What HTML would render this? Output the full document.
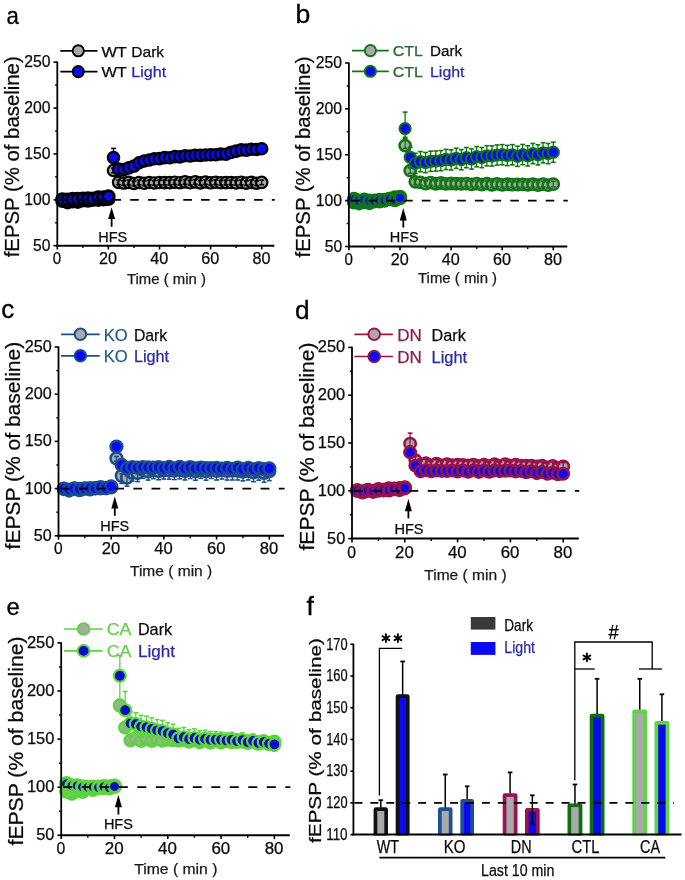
<!DOCTYPE html>
<html><head><meta charset="utf-8"><style>
html,body{margin:0;padding:0;background:#fff;}
svg{display:block;font-family:"Liberation Sans", sans-serif;will-change:transform;filter:blur(0.3px);}
</style></head><body>
<svg width="685" height="880" viewBox="0 0 685 880">
<rect width="685" height="880" fill="#fff"/>
<text x="6.60" y="23.50" font-size="24.00" fill="#000" text-anchor="start" textLength="12.40" lengthAdjust="spacingAndGlyphs" stroke="#000" stroke-width="0.3">a</text>
<text x="0" y="0" font-size="19.5" fill="#0a0a0a" stroke="#0a0a0a" stroke-width="0.25" text-anchor="middle" textLength="201.00" lengthAdjust="spacingAndGlyphs" transform="translate(19.00,156.80) rotate(-90)">fEPSP (% of baseline)</text>
<text x="127.00" y="284.40" font-size="14.50" fill="#1a1a1a" text-anchor="start" textLength="79.00" lengthAdjust="spacingAndGlyphs"  stroke="#1a1a1a" stroke-width="0.25">Time ( min )</text>
<circle cx="62.41" cy="200.88" r="5.70" fill="#a9a9a9" stroke="#000" stroke-width="2.9"/>
<circle cx="67.52" cy="202.29" r="5.70" fill="#a9a9a9" stroke="#000" stroke-width="2.9"/>
<circle cx="72.63" cy="201.39" r="5.70" fill="#a9a9a9" stroke="#000" stroke-width="2.9"/>
<circle cx="77.74" cy="201.73" r="5.70" fill="#a9a9a9" stroke="#000" stroke-width="2.9"/>
<circle cx="82.85" cy="200.36" r="5.70" fill="#a9a9a9" stroke="#000" stroke-width="2.9"/>
<circle cx="87.96" cy="200.68" r="5.70" fill="#a9a9a9" stroke="#000" stroke-width="2.9"/>
<circle cx="93.07" cy="199.80" r="5.70" fill="#a9a9a9" stroke="#000" stroke-width="2.9"/>
<circle cx="98.18" cy="199.77" r="5.70" fill="#a9a9a9" stroke="#000" stroke-width="2.9"/>
<circle cx="103.29" cy="199.39" r="5.70" fill="#a9a9a9" stroke="#000" stroke-width="2.9"/>
<circle cx="108.40" cy="198.92" r="5.70" fill="#a9a9a9" stroke="#000" stroke-width="2.9"/>
<circle cx="113.51" cy="170.46" r="5.70" fill="#a9a9a9" stroke="#000" stroke-width="2.2"/>
<circle cx="118.62" cy="182.39" r="5.70" fill="#a9a9a9" stroke="#000" stroke-width="2.2"/>
<circle cx="123.73" cy="183.07" r="5.70" fill="#a9a9a9" stroke="#000" stroke-width="2.2"/>
<circle cx="128.84" cy="182.41" r="5.70" fill="#a9a9a9" stroke="#000" stroke-width="2.2"/>
<circle cx="133.95" cy="183.49" r="5.70" fill="#a9a9a9" stroke="#000" stroke-width="2.2"/>
<circle cx="139.06" cy="182.52" r="5.70" fill="#a9a9a9" stroke="#000" stroke-width="2.2"/>
<circle cx="144.17" cy="183.28" r="5.70" fill="#a9a9a9" stroke="#000" stroke-width="2.2"/>
<circle cx="149.28" cy="182.49" r="5.70" fill="#a9a9a9" stroke="#000" stroke-width="2.2"/>
<circle cx="154.39" cy="182.97" r="5.70" fill="#a9a9a9" stroke="#000" stroke-width="2.2"/>
<circle cx="159.50" cy="182.55" r="5.70" fill="#a9a9a9" stroke="#000" stroke-width="2.2"/>
<circle cx="164.61" cy="182.59" r="5.70" fill="#a9a9a9" stroke="#000" stroke-width="2.2"/>
<circle cx="169.72" cy="182.64" r="5.70" fill="#a9a9a9" stroke="#000" stroke-width="2.2"/>
<circle cx="174.83" cy="182.22" r="5.70" fill="#a9a9a9" stroke="#000" stroke-width="2.2"/>
<circle cx="179.94" cy="182.70" r="5.70" fill="#a9a9a9" stroke="#000" stroke-width="2.2"/>
<circle cx="185.05" cy="181.91" r="5.70" fill="#a9a9a9" stroke="#000" stroke-width="2.2"/>
<circle cx="190.16" cy="182.78" r="5.70" fill="#a9a9a9" stroke="#000" stroke-width="2.2"/>
<circle cx="195.27" cy="181.92" r="5.70" fill="#a9a9a9" stroke="#000" stroke-width="2.2"/>
<circle cx="200.38" cy="182.86" r="5.70" fill="#a9a9a9" stroke="#000" stroke-width="2.2"/>
<circle cx="205.49" cy="182.04" r="5.70" fill="#a9a9a9" stroke="#000" stroke-width="2.2"/>
<circle cx="210.60" cy="182.82" r="5.70" fill="#a9a9a9" stroke="#000" stroke-width="2.2"/>
<circle cx="215.71" cy="182.28" r="5.70" fill="#a9a9a9" stroke="#000" stroke-width="2.2"/>
<circle cx="220.82" cy="182.69" r="5.70" fill="#a9a9a9" stroke="#000" stroke-width="2.2"/>
<circle cx="225.93" cy="182.58" r="5.70" fill="#a9a9a9" stroke="#000" stroke-width="2.2"/>
<circle cx="231.04" cy="182.53" r="5.70" fill="#a9a9a9" stroke="#000" stroke-width="2.2"/>
<circle cx="236.15" cy="182.88" r="5.70" fill="#a9a9a9" stroke="#000" stroke-width="2.2"/>
<circle cx="241.26" cy="182.40" r="5.70" fill="#a9a9a9" stroke="#000" stroke-width="2.2"/>
<circle cx="246.37" cy="183.13" r="5.70" fill="#a9a9a9" stroke="#000" stroke-width="2.2"/>
<circle cx="251.48" cy="182.34" r="5.70" fill="#a9a9a9" stroke="#000" stroke-width="2.2"/>
<circle cx="256.59" cy="183.27" r="5.70" fill="#a9a9a9" stroke="#000" stroke-width="2.2"/>
<circle cx="261.70" cy="182.40" r="5.70" fill="#a9a9a9" stroke="#000" stroke-width="2.2"/>
<line x1="62.41" y1="200.88" x2="62.41" y2="198.59" stroke="#000" stroke-width="1.3" />
<line x1="60.01" y1="198.59" x2="64.81" y2="198.59" stroke="#000" stroke-width="1.6" />
<line x1="67.52" y1="202.29" x2="67.52" y2="200.00" stroke="#000" stroke-width="1.3" />
<line x1="65.12" y1="200.00" x2="69.92" y2="200.00" stroke="#000" stroke-width="1.6" />
<line x1="72.63" y1="201.39" x2="72.63" y2="199.09" stroke="#000" stroke-width="1.3" />
<line x1="70.23" y1="199.09" x2="75.03" y2="199.09" stroke="#000" stroke-width="1.6" />
<line x1="77.74" y1="201.73" x2="77.74" y2="199.43" stroke="#000" stroke-width="1.3" />
<line x1="75.34" y1="199.43" x2="80.14" y2="199.43" stroke="#000" stroke-width="1.6" />
<line x1="82.85" y1="200.36" x2="82.85" y2="198.06" stroke="#000" stroke-width="1.3" />
<line x1="80.45" y1="198.06" x2="85.25" y2="198.06" stroke="#000" stroke-width="1.6" />
<line x1="87.96" y1="200.68" x2="87.96" y2="198.39" stroke="#000" stroke-width="1.3" />
<line x1="85.56" y1="198.39" x2="90.36" y2="198.39" stroke="#000" stroke-width="1.6" />
<line x1="93.07" y1="199.80" x2="93.07" y2="197.51" stroke="#000" stroke-width="1.3" />
<line x1="90.67" y1="197.51" x2="95.47" y2="197.51" stroke="#000" stroke-width="1.6" />
<line x1="98.18" y1="199.77" x2="98.18" y2="197.48" stroke="#000" stroke-width="1.3" />
<line x1="95.78" y1="197.48" x2="100.58" y2="197.48" stroke="#000" stroke-width="1.6" />
<line x1="103.29" y1="199.39" x2="103.29" y2="197.09" stroke="#000" stroke-width="1.3" />
<line x1="100.89" y1="197.09" x2="105.69" y2="197.09" stroke="#000" stroke-width="1.6" />
<line x1="108.40" y1="198.92" x2="108.40" y2="196.63" stroke="#000" stroke-width="1.3" />
<line x1="106.00" y1="196.63" x2="110.80" y2="196.63" stroke="#000" stroke-width="1.6" />
<line x1="113.51" y1="170.46" x2="113.51" y2="168.17" stroke="#000" stroke-width="1.3" />
<line x1="111.11" y1="168.17" x2="115.91" y2="168.17" stroke="#000" stroke-width="1.6" />
<line x1="118.62" y1="182.39" x2="118.62" y2="180.10" stroke="#000" stroke-width="1.3" />
<line x1="116.22" y1="180.10" x2="121.02" y2="180.10" stroke="#000" stroke-width="1.6" />
<line x1="123.73" y1="183.07" x2="123.73" y2="180.78" stroke="#000" stroke-width="1.3" />
<line x1="121.33" y1="180.78" x2="126.13" y2="180.78" stroke="#000" stroke-width="1.6" />
<line x1="128.84" y1="182.41" x2="128.84" y2="180.11" stroke="#000" stroke-width="1.3" />
<line x1="126.44" y1="180.11" x2="131.24" y2="180.11" stroke="#000" stroke-width="1.6" />
<line x1="133.95" y1="183.49" x2="133.95" y2="181.20" stroke="#000" stroke-width="1.3" />
<line x1="131.55" y1="181.20" x2="136.35" y2="181.20" stroke="#000" stroke-width="1.6" />
<line x1="139.06" y1="182.52" x2="139.06" y2="180.23" stroke="#000" stroke-width="1.3" />
<line x1="136.66" y1="180.23" x2="141.46" y2="180.23" stroke="#000" stroke-width="1.6" />
<line x1="144.17" y1="183.28" x2="144.17" y2="180.99" stroke="#000" stroke-width="1.3" />
<line x1="141.77" y1="180.99" x2="146.57" y2="180.99" stroke="#000" stroke-width="1.6" />
<line x1="149.28" y1="182.49" x2="149.28" y2="180.20" stroke="#000" stroke-width="1.3" />
<line x1="146.88" y1="180.20" x2="151.68" y2="180.20" stroke="#000" stroke-width="1.6" />
<line x1="154.39" y1="182.97" x2="154.39" y2="180.67" stroke="#000" stroke-width="1.3" />
<line x1="151.99" y1="180.67" x2="156.79" y2="180.67" stroke="#000" stroke-width="1.6" />
<line x1="159.50" y1="182.55" x2="159.50" y2="180.26" stroke="#000" stroke-width="1.3" />
<line x1="157.10" y1="180.26" x2="161.90" y2="180.26" stroke="#000" stroke-width="1.6" />
<line x1="164.61" y1="182.59" x2="164.61" y2="180.30" stroke="#000" stroke-width="1.3" />
<line x1="162.21" y1="180.30" x2="167.01" y2="180.30" stroke="#000" stroke-width="1.6" />
<line x1="169.72" y1="182.64" x2="169.72" y2="180.35" stroke="#000" stroke-width="1.3" />
<line x1="167.32" y1="180.35" x2="172.12" y2="180.35" stroke="#000" stroke-width="1.6" />
<line x1="174.83" y1="182.22" x2="174.83" y2="179.93" stroke="#000" stroke-width="1.3" />
<line x1="172.43" y1="179.93" x2="177.23" y2="179.93" stroke="#000" stroke-width="1.6" />
<line x1="179.94" y1="182.70" x2="179.94" y2="180.40" stroke="#000" stroke-width="1.3" />
<line x1="177.54" y1="180.40" x2="182.34" y2="180.40" stroke="#000" stroke-width="1.6" />
<line x1="185.05" y1="181.91" x2="185.05" y2="179.61" stroke="#000" stroke-width="1.3" />
<line x1="182.65" y1="179.61" x2="187.45" y2="179.61" stroke="#000" stroke-width="1.6" />
<line x1="190.16" y1="182.78" x2="190.16" y2="180.48" stroke="#000" stroke-width="1.3" />
<line x1="187.76" y1="180.48" x2="192.56" y2="180.48" stroke="#000" stroke-width="1.6" />
<line x1="195.27" y1="181.92" x2="195.27" y2="179.62" stroke="#000" stroke-width="1.3" />
<line x1="192.87" y1="179.62" x2="197.67" y2="179.62" stroke="#000" stroke-width="1.6" />
<line x1="200.38" y1="182.86" x2="200.38" y2="180.56" stroke="#000" stroke-width="1.3" />
<line x1="197.98" y1="180.56" x2="202.78" y2="180.56" stroke="#000" stroke-width="1.6" />
<line x1="205.49" y1="182.04" x2="205.49" y2="179.75" stroke="#000" stroke-width="1.3" />
<line x1="203.09" y1="179.75" x2="207.89" y2="179.75" stroke="#000" stroke-width="1.6" />
<line x1="210.60" y1="182.82" x2="210.60" y2="180.52" stroke="#000" stroke-width="1.3" />
<line x1="208.20" y1="180.52" x2="213.00" y2="180.52" stroke="#000" stroke-width="1.6" />
<line x1="215.71" y1="182.28" x2="215.71" y2="179.99" stroke="#000" stroke-width="1.3" />
<line x1="213.31" y1="179.99" x2="218.11" y2="179.99" stroke="#000" stroke-width="1.6" />
<line x1="220.82" y1="182.69" x2="220.82" y2="180.40" stroke="#000" stroke-width="1.3" />
<line x1="218.42" y1="180.40" x2="223.22" y2="180.40" stroke="#000" stroke-width="1.6" />
<line x1="225.93" y1="182.58" x2="225.93" y2="180.28" stroke="#000" stroke-width="1.3" />
<line x1="223.53" y1="180.28" x2="228.33" y2="180.28" stroke="#000" stroke-width="1.6" />
<line x1="231.04" y1="182.53" x2="231.04" y2="180.24" stroke="#000" stroke-width="1.3" />
<line x1="228.64" y1="180.24" x2="233.44" y2="180.24" stroke="#000" stroke-width="1.6" />
<line x1="236.15" y1="182.88" x2="236.15" y2="180.58" stroke="#000" stroke-width="1.3" />
<line x1="233.75" y1="180.58" x2="238.55" y2="180.58" stroke="#000" stroke-width="1.6" />
<line x1="241.26" y1="182.40" x2="241.26" y2="180.10" stroke="#000" stroke-width="1.3" />
<line x1="238.86" y1="180.10" x2="243.66" y2="180.10" stroke="#000" stroke-width="1.6" />
<line x1="246.37" y1="183.13" x2="246.37" y2="180.83" stroke="#000" stroke-width="1.3" />
<line x1="243.97" y1="180.83" x2="248.77" y2="180.83" stroke="#000" stroke-width="1.6" />
<line x1="251.48" y1="182.34" x2="251.48" y2="180.05" stroke="#000" stroke-width="1.3" />
<line x1="249.08" y1="180.05" x2="253.88" y2="180.05" stroke="#000" stroke-width="1.6" />
<line x1="256.59" y1="183.27" x2="256.59" y2="180.98" stroke="#000" stroke-width="1.3" />
<line x1="254.19" y1="180.98" x2="258.99" y2="180.98" stroke="#000" stroke-width="1.6" />
<line x1="261.70" y1="182.40" x2="261.70" y2="180.11" stroke="#000" stroke-width="1.3" />
<line x1="259.30" y1="180.11" x2="264.10" y2="180.11" stroke="#000" stroke-width="1.6" />
<line x1="62.41" y1="200.88" x2="62.41" y2="203.17" stroke="#000" stroke-width="1.3" />
<line x1="60.01" y1="203.17" x2="64.81" y2="203.17" stroke="#000" stroke-width="1.6" />
<line x1="67.52" y1="202.29" x2="67.52" y2="204.59" stroke="#000" stroke-width="1.3" />
<line x1="65.12" y1="204.59" x2="69.92" y2="204.59" stroke="#000" stroke-width="1.6" />
<line x1="72.63" y1="201.39" x2="72.63" y2="203.68" stroke="#000" stroke-width="1.3" />
<line x1="70.23" y1="203.68" x2="75.03" y2="203.68" stroke="#000" stroke-width="1.6" />
<line x1="77.74" y1="201.73" x2="77.74" y2="204.02" stroke="#000" stroke-width="1.3" />
<line x1="75.34" y1="204.02" x2="80.14" y2="204.02" stroke="#000" stroke-width="1.6" />
<line x1="82.85" y1="200.36" x2="82.85" y2="202.65" stroke="#000" stroke-width="1.3" />
<line x1="80.45" y1="202.65" x2="85.25" y2="202.65" stroke="#000" stroke-width="1.6" />
<line x1="87.96" y1="200.68" x2="87.96" y2="202.98" stroke="#000" stroke-width="1.3" />
<line x1="85.56" y1="202.98" x2="90.36" y2="202.98" stroke="#000" stroke-width="1.6" />
<line x1="93.07" y1="199.80" x2="93.07" y2="202.09" stroke="#000" stroke-width="1.3" />
<line x1="90.67" y1="202.09" x2="95.47" y2="202.09" stroke="#000" stroke-width="1.6" />
<line x1="98.18" y1="199.77" x2="98.18" y2="202.06" stroke="#000" stroke-width="1.3" />
<line x1="95.78" y1="202.06" x2="100.58" y2="202.06" stroke="#000" stroke-width="1.6" />
<line x1="103.29" y1="199.39" x2="103.29" y2="201.68" stroke="#000" stroke-width="1.3" />
<line x1="100.89" y1="201.68" x2="105.69" y2="201.68" stroke="#000" stroke-width="1.6" />
<line x1="108.40" y1="198.92" x2="108.40" y2="201.22" stroke="#000" stroke-width="1.3" />
<line x1="106.00" y1="201.22" x2="110.80" y2="201.22" stroke="#000" stroke-width="1.6" />
<line x1="113.51" y1="170.46" x2="113.51" y2="172.76" stroke="#000" stroke-width="1.3" />
<line x1="111.11" y1="172.76" x2="115.91" y2="172.76" stroke="#000" stroke-width="1.6" />
<line x1="118.62" y1="182.39" x2="118.62" y2="184.69" stroke="#000" stroke-width="1.3" />
<line x1="116.22" y1="184.69" x2="121.02" y2="184.69" stroke="#000" stroke-width="1.6" />
<line x1="123.73" y1="183.07" x2="123.73" y2="185.37" stroke="#000" stroke-width="1.3" />
<line x1="121.33" y1="185.37" x2="126.13" y2="185.37" stroke="#000" stroke-width="1.6" />
<line x1="128.84" y1="182.41" x2="128.84" y2="184.70" stroke="#000" stroke-width="1.3" />
<line x1="126.44" y1="184.70" x2="131.24" y2="184.70" stroke="#000" stroke-width="1.6" />
<line x1="133.95" y1="183.49" x2="133.95" y2="185.79" stroke="#000" stroke-width="1.3" />
<line x1="131.55" y1="185.79" x2="136.35" y2="185.79" stroke="#000" stroke-width="1.6" />
<line x1="139.06" y1="182.52" x2="139.06" y2="184.81" stroke="#000" stroke-width="1.3" />
<line x1="136.66" y1="184.81" x2="141.46" y2="184.81" stroke="#000" stroke-width="1.6" />
<line x1="144.17" y1="183.28" x2="144.17" y2="185.58" stroke="#000" stroke-width="1.3" />
<line x1="141.77" y1="185.58" x2="146.57" y2="185.58" stroke="#000" stroke-width="1.6" />
<line x1="149.28" y1="182.49" x2="149.28" y2="184.79" stroke="#000" stroke-width="1.3" />
<line x1="146.88" y1="184.79" x2="151.68" y2="184.79" stroke="#000" stroke-width="1.6" />
<line x1="154.39" y1="182.97" x2="154.39" y2="185.26" stroke="#000" stroke-width="1.3" />
<line x1="151.99" y1="185.26" x2="156.79" y2="185.26" stroke="#000" stroke-width="1.6" />
<line x1="159.50" y1="182.55" x2="159.50" y2="184.85" stroke="#000" stroke-width="1.3" />
<line x1="157.10" y1="184.85" x2="161.90" y2="184.85" stroke="#000" stroke-width="1.6" />
<line x1="164.61" y1="182.59" x2="164.61" y2="184.89" stroke="#000" stroke-width="1.3" />
<line x1="162.21" y1="184.89" x2="167.01" y2="184.89" stroke="#000" stroke-width="1.6" />
<line x1="169.72" y1="182.64" x2="169.72" y2="184.93" stroke="#000" stroke-width="1.3" />
<line x1="167.32" y1="184.93" x2="172.12" y2="184.93" stroke="#000" stroke-width="1.6" />
<line x1="174.83" y1="182.22" x2="174.83" y2="184.51" stroke="#000" stroke-width="1.3" />
<line x1="172.43" y1="184.51" x2="177.23" y2="184.51" stroke="#000" stroke-width="1.6" />
<line x1="179.94" y1="182.70" x2="179.94" y2="184.99" stroke="#000" stroke-width="1.3" />
<line x1="177.54" y1="184.99" x2="182.34" y2="184.99" stroke="#000" stroke-width="1.6" />
<line x1="185.05" y1="181.91" x2="185.05" y2="184.20" stroke="#000" stroke-width="1.3" />
<line x1="182.65" y1="184.20" x2="187.45" y2="184.20" stroke="#000" stroke-width="1.6" />
<line x1="190.16" y1="182.78" x2="190.16" y2="185.07" stroke="#000" stroke-width="1.3" />
<line x1="187.76" y1="185.07" x2="192.56" y2="185.07" stroke="#000" stroke-width="1.6" />
<line x1="195.27" y1="181.92" x2="195.27" y2="184.21" stroke="#000" stroke-width="1.3" />
<line x1="192.87" y1="184.21" x2="197.67" y2="184.21" stroke="#000" stroke-width="1.6" />
<line x1="200.38" y1="182.86" x2="200.38" y2="185.15" stroke="#000" stroke-width="1.3" />
<line x1="197.98" y1="185.15" x2="202.78" y2="185.15" stroke="#000" stroke-width="1.6" />
<line x1="205.49" y1="182.04" x2="205.49" y2="184.34" stroke="#000" stroke-width="1.3" />
<line x1="203.09" y1="184.34" x2="207.89" y2="184.34" stroke="#000" stroke-width="1.6" />
<line x1="210.60" y1="182.82" x2="210.60" y2="185.11" stroke="#000" stroke-width="1.3" />
<line x1="208.20" y1="185.11" x2="213.00" y2="185.11" stroke="#000" stroke-width="1.6" />
<line x1="215.71" y1="182.28" x2="215.71" y2="184.57" stroke="#000" stroke-width="1.3" />
<line x1="213.31" y1="184.57" x2="218.11" y2="184.57" stroke="#000" stroke-width="1.6" />
<line x1="220.82" y1="182.69" x2="220.82" y2="184.99" stroke="#000" stroke-width="1.3" />
<line x1="218.42" y1="184.99" x2="223.22" y2="184.99" stroke="#000" stroke-width="1.6" />
<line x1="225.93" y1="182.58" x2="225.93" y2="184.87" stroke="#000" stroke-width="1.3" />
<line x1="223.53" y1="184.87" x2="228.33" y2="184.87" stroke="#000" stroke-width="1.6" />
<line x1="231.04" y1="182.53" x2="231.04" y2="184.82" stroke="#000" stroke-width="1.3" />
<line x1="228.64" y1="184.82" x2="233.44" y2="184.82" stroke="#000" stroke-width="1.6" />
<line x1="236.15" y1="182.88" x2="236.15" y2="185.17" stroke="#000" stroke-width="1.3" />
<line x1="233.75" y1="185.17" x2="238.55" y2="185.17" stroke="#000" stroke-width="1.6" />
<line x1="241.26" y1="182.40" x2="241.26" y2="184.69" stroke="#000" stroke-width="1.3" />
<line x1="238.86" y1="184.69" x2="243.66" y2="184.69" stroke="#000" stroke-width="1.6" />
<line x1="246.37" y1="183.13" x2="246.37" y2="185.42" stroke="#000" stroke-width="1.3" />
<line x1="243.97" y1="185.42" x2="248.77" y2="185.42" stroke="#000" stroke-width="1.6" />
<line x1="251.48" y1="182.34" x2="251.48" y2="184.64" stroke="#000" stroke-width="1.3" />
<line x1="249.08" y1="184.64" x2="253.88" y2="184.64" stroke="#000" stroke-width="1.6" />
<line x1="256.59" y1="183.27" x2="256.59" y2="185.57" stroke="#000" stroke-width="1.3" />
<line x1="254.19" y1="185.57" x2="258.99" y2="185.57" stroke="#000" stroke-width="1.6" />
<line x1="261.70" y1="182.40" x2="261.70" y2="184.70" stroke="#000" stroke-width="1.3" />
<line x1="259.30" y1="184.70" x2="264.10" y2="184.70" stroke="#000" stroke-width="1.6" />
<line x1="62.41" y1="199.28" x2="62.41" y2="196.53" stroke="#000" stroke-width="1.3" />
<line x1="60.01" y1="196.53" x2="64.81" y2="196.53" stroke="#000" stroke-width="1.6" />
<line x1="67.52" y1="199.62" x2="67.52" y2="196.87" stroke="#000" stroke-width="1.3" />
<line x1="65.12" y1="196.87" x2="69.92" y2="196.87" stroke="#000" stroke-width="1.6" />
<line x1="72.63" y1="198.96" x2="72.63" y2="196.21" stroke="#000" stroke-width="1.3" />
<line x1="70.23" y1="196.21" x2="75.03" y2="196.21" stroke="#000" stroke-width="1.6" />
<line x1="77.74" y1="199.00" x2="77.74" y2="196.25" stroke="#000" stroke-width="1.3" />
<line x1="75.34" y1="196.25" x2="80.14" y2="196.25" stroke="#000" stroke-width="1.6" />
<line x1="82.85" y1="198.76" x2="82.85" y2="196.01" stroke="#000" stroke-width="1.3" />
<line x1="80.45" y1="196.01" x2="85.25" y2="196.01" stroke="#000" stroke-width="1.6" />
<line x1="87.96" y1="198.50" x2="87.96" y2="195.75" stroke="#000" stroke-width="1.3" />
<line x1="85.56" y1="195.75" x2="90.36" y2="195.75" stroke="#000" stroke-width="1.6" />
<line x1="93.07" y1="198.63" x2="93.07" y2="195.88" stroke="#000" stroke-width="1.3" />
<line x1="90.67" y1="195.88" x2="95.47" y2="195.88" stroke="#000" stroke-width="1.6" />
<line x1="98.18" y1="197.50" x2="98.18" y2="194.75" stroke="#000" stroke-width="1.3" />
<line x1="95.78" y1="194.75" x2="100.58" y2="194.75" stroke="#000" stroke-width="1.6" />
<line x1="103.29" y1="197.39" x2="103.29" y2="194.64" stroke="#000" stroke-width="1.3" />
<line x1="100.89" y1="194.64" x2="105.69" y2="194.64" stroke="#000" stroke-width="1.6" />
<line x1="108.40" y1="196.41" x2="108.40" y2="193.66" stroke="#000" stroke-width="1.3" />
<line x1="106.00" y1="193.66" x2="110.80" y2="193.66" stroke="#000" stroke-width="1.6" />
<line x1="113.51" y1="157.62" x2="113.51" y2="148.44" stroke="#000" stroke-width="1.3" />
<line x1="111.11" y1="148.44" x2="115.91" y2="148.44" stroke="#000" stroke-width="1.6" />
<line x1="118.62" y1="169.09" x2="118.62" y2="165.88" stroke="#000" stroke-width="1.3" />
<line x1="116.22" y1="165.88" x2="121.02" y2="165.88" stroke="#000" stroke-width="1.6" />
<line x1="123.73" y1="169.59" x2="123.73" y2="166.38" stroke="#000" stroke-width="1.3" />
<line x1="121.33" y1="166.38" x2="126.13" y2="166.38" stroke="#000" stroke-width="1.6" />
<line x1="128.84" y1="167.91" x2="128.84" y2="164.69" stroke="#000" stroke-width="1.3" />
<line x1="126.44" y1="164.69" x2="131.24" y2="164.69" stroke="#000" stroke-width="1.6" />
<line x1="133.95" y1="166.07" x2="133.95" y2="162.86" stroke="#000" stroke-width="1.3" />
<line x1="131.55" y1="162.86" x2="136.35" y2="162.86" stroke="#000" stroke-width="1.6" />
<line x1="139.06" y1="162.74" x2="139.06" y2="159.53" stroke="#000" stroke-width="1.3" />
<line x1="136.66" y1="159.53" x2="141.46" y2="159.53" stroke="#000" stroke-width="1.6" />
<line x1="144.17" y1="161.03" x2="144.17" y2="157.82" stroke="#000" stroke-width="1.3" />
<line x1="141.77" y1="157.82" x2="146.57" y2="157.82" stroke="#000" stroke-width="1.6" />
<line x1="149.28" y1="160.04" x2="149.28" y2="156.83" stroke="#000" stroke-width="1.3" />
<line x1="146.88" y1="156.83" x2="151.68" y2="156.83" stroke="#000" stroke-width="1.6" />
<line x1="154.39" y1="158.73" x2="154.39" y2="155.52" stroke="#000" stroke-width="1.3" />
<line x1="151.99" y1="155.52" x2="156.79" y2="155.52" stroke="#000" stroke-width="1.6" />
<line x1="159.50" y1="158.66" x2="159.50" y2="155.45" stroke="#000" stroke-width="1.3" />
<line x1="157.10" y1="155.45" x2="161.90" y2="155.45" stroke="#000" stroke-width="1.6" />
<line x1="164.61" y1="157.62" x2="164.61" y2="154.41" stroke="#000" stroke-width="1.3" />
<line x1="162.21" y1="154.41" x2="167.01" y2="154.41" stroke="#000" stroke-width="1.6" />
<line x1="169.72" y1="157.79" x2="169.72" y2="154.57" stroke="#000" stroke-width="1.3" />
<line x1="167.32" y1="154.57" x2="172.12" y2="154.57" stroke="#000" stroke-width="1.6" />
<line x1="174.83" y1="156.58" x2="174.83" y2="153.37" stroke="#000" stroke-width="1.3" />
<line x1="172.43" y1="153.37" x2="177.23" y2="153.37" stroke="#000" stroke-width="1.6" />
<line x1="179.94" y1="156.85" x2="179.94" y2="153.64" stroke="#000" stroke-width="1.3" />
<line x1="177.54" y1="153.64" x2="182.34" y2="153.64" stroke="#000" stroke-width="1.6" />
<line x1="185.05" y1="155.73" x2="185.05" y2="152.52" stroke="#000" stroke-width="1.3" />
<line x1="182.65" y1="152.52" x2="187.45" y2="152.52" stroke="#000" stroke-width="1.6" />
<line x1="190.16" y1="156.06" x2="190.16" y2="152.85" stroke="#000" stroke-width="1.3" />
<line x1="187.76" y1="152.85" x2="192.56" y2="152.85" stroke="#000" stroke-width="1.6" />
<line x1="195.27" y1="155.31" x2="195.27" y2="152.09" stroke="#000" stroke-width="1.3" />
<line x1="192.87" y1="152.09" x2="197.67" y2="152.09" stroke="#000" stroke-width="1.6" />
<line x1="200.38" y1="155.35" x2="200.38" y2="152.14" stroke="#000" stroke-width="1.3" />
<line x1="197.98" y1="152.14" x2="202.78" y2="152.14" stroke="#000" stroke-width="1.6" />
<line x1="205.49" y1="154.97" x2="205.49" y2="151.76" stroke="#000" stroke-width="1.3" />
<line x1="203.09" y1="151.76" x2="207.89" y2="151.76" stroke="#000" stroke-width="1.6" />
<line x1="210.60" y1="154.69" x2="210.60" y2="151.48" stroke="#000" stroke-width="1.3" />
<line x1="208.20" y1="151.48" x2="213.00" y2="151.48" stroke="#000" stroke-width="1.6" />
<line x1="215.71" y1="154.68" x2="215.71" y2="151.47" stroke="#000" stroke-width="1.3" />
<line x1="213.31" y1="151.47" x2="218.11" y2="151.47" stroke="#000" stroke-width="1.6" />
<line x1="220.82" y1="154.01" x2="220.82" y2="150.80" stroke="#000" stroke-width="1.3" />
<line x1="218.42" y1="150.80" x2="223.22" y2="150.80" stroke="#000" stroke-width="1.6" />
<line x1="225.93" y1="154.23" x2="225.93" y2="151.02" stroke="#000" stroke-width="1.3" />
<line x1="223.53" y1="151.02" x2="228.33" y2="151.02" stroke="#000" stroke-width="1.6" />
<line x1="231.04" y1="152.41" x2="231.04" y2="149.20" stroke="#000" stroke-width="1.3" />
<line x1="228.64" y1="149.20" x2="233.44" y2="149.20" stroke="#000" stroke-width="1.6" />
<line x1="236.15" y1="151.10" x2="236.15" y2="147.89" stroke="#000" stroke-width="1.3" />
<line x1="233.75" y1="147.89" x2="238.55" y2="147.89" stroke="#000" stroke-width="1.6" />
<line x1="241.26" y1="149.92" x2="241.26" y2="146.71" stroke="#000" stroke-width="1.3" />
<line x1="238.86" y1="146.71" x2="243.66" y2="146.71" stroke="#000" stroke-width="1.6" />
<line x1="246.37" y1="150.16" x2="246.37" y2="146.94" stroke="#000" stroke-width="1.3" />
<line x1="243.97" y1="146.94" x2="248.77" y2="146.94" stroke="#000" stroke-width="1.6" />
<line x1="251.48" y1="149.23" x2="251.48" y2="146.02" stroke="#000" stroke-width="1.3" />
<line x1="249.08" y1="146.02" x2="253.88" y2="146.02" stroke="#000" stroke-width="1.6" />
<line x1="256.59" y1="149.43" x2="256.59" y2="146.21" stroke="#000" stroke-width="1.3" />
<line x1="254.19" y1="146.21" x2="258.99" y2="146.21" stroke="#000" stroke-width="1.6" />
<line x1="261.70" y1="148.77" x2="261.70" y2="145.56" stroke="#000" stroke-width="1.3" />
<line x1="259.30" y1="145.56" x2="264.10" y2="145.56" stroke="#000" stroke-width="1.6" />
<line x1="62.41" y1="199.28" x2="62.41" y2="202.05" stroke="#000" stroke-width="1.3" />
<line x1="60.01" y1="202.05" x2="64.81" y2="202.05" stroke="#000" stroke-width="1.6" />
<line x1="67.52" y1="199.62" x2="67.52" y2="202.40" stroke="#000" stroke-width="1.3" />
<line x1="65.12" y1="202.40" x2="69.92" y2="202.40" stroke="#000" stroke-width="1.6" />
<line x1="72.63" y1="198.96" x2="72.63" y2="201.75" stroke="#000" stroke-width="1.3" />
<line x1="70.23" y1="201.75" x2="75.03" y2="201.75" stroke="#000" stroke-width="1.6" />
<line x1="77.74" y1="199.00" x2="77.74" y2="201.80" stroke="#000" stroke-width="1.3" />
<line x1="75.34" y1="201.80" x2="80.14" y2="201.80" stroke="#000" stroke-width="1.6" />
<line x1="82.85" y1="198.76" x2="82.85" y2="201.57" stroke="#000" stroke-width="1.3" />
<line x1="80.45" y1="201.57" x2="85.25" y2="201.57" stroke="#000" stroke-width="1.6" />
<line x1="87.96" y1="198.50" x2="87.96" y2="201.33" stroke="#000" stroke-width="1.3" />
<line x1="85.56" y1="201.33" x2="90.36" y2="201.33" stroke="#000" stroke-width="1.6" />
<line x1="93.07" y1="198.63" x2="93.07" y2="201.47" stroke="#000" stroke-width="1.3" />
<line x1="90.67" y1="201.47" x2="95.47" y2="201.47" stroke="#000" stroke-width="1.6" />
<line x1="98.18" y1="197.50" x2="98.18" y2="200.35" stroke="#000" stroke-width="1.3" />
<line x1="95.78" y1="200.35" x2="100.58" y2="200.35" stroke="#000" stroke-width="1.6" />
<line x1="103.29" y1="197.39" x2="103.29" y2="200.25" stroke="#000" stroke-width="1.3" />
<line x1="100.89" y1="200.25" x2="105.69" y2="200.25" stroke="#000" stroke-width="1.6" />
<line x1="108.40" y1="196.41" x2="108.40" y2="199.28" stroke="#000" stroke-width="1.3" />
<line x1="106.00" y1="199.28" x2="110.80" y2="199.28" stroke="#000" stroke-width="1.6" />
<line x1="113.51" y1="157.62" x2="113.51" y2="160.50" stroke="#000" stroke-width="1.3" />
<line x1="111.11" y1="160.50" x2="115.91" y2="160.50" stroke="#000" stroke-width="1.6" />
<line x1="118.62" y1="169.09" x2="118.62" y2="171.98" stroke="#000" stroke-width="1.3" />
<line x1="116.22" y1="171.98" x2="121.02" y2="171.98" stroke="#000" stroke-width="1.6" />
<line x1="123.73" y1="169.59" x2="123.73" y2="172.49" stroke="#000" stroke-width="1.3" />
<line x1="121.33" y1="172.49" x2="126.13" y2="172.49" stroke="#000" stroke-width="1.6" />
<line x1="128.84" y1="167.91" x2="128.84" y2="170.82" stroke="#000" stroke-width="1.3" />
<line x1="126.44" y1="170.82" x2="131.24" y2="170.82" stroke="#000" stroke-width="1.6" />
<line x1="133.95" y1="166.07" x2="133.95" y2="168.99" stroke="#000" stroke-width="1.3" />
<line x1="131.55" y1="168.99" x2="136.35" y2="168.99" stroke="#000" stroke-width="1.6" />
<line x1="139.06" y1="162.74" x2="139.06" y2="165.68" stroke="#000" stroke-width="1.3" />
<line x1="136.66" y1="165.68" x2="141.46" y2="165.68" stroke="#000" stroke-width="1.6" />
<line x1="144.17" y1="161.03" x2="144.17" y2="163.97" stroke="#000" stroke-width="1.3" />
<line x1="141.77" y1="163.97" x2="146.57" y2="163.97" stroke="#000" stroke-width="1.6" />
<line x1="149.28" y1="160.04" x2="149.28" y2="163.00" stroke="#000" stroke-width="1.3" />
<line x1="146.88" y1="163.00" x2="151.68" y2="163.00" stroke="#000" stroke-width="1.6" />
<line x1="154.39" y1="158.73" x2="154.39" y2="161.70" stroke="#000" stroke-width="1.3" />
<line x1="151.99" y1="161.70" x2="156.79" y2="161.70" stroke="#000" stroke-width="1.6" />
<line x1="159.50" y1="158.66" x2="159.50" y2="161.65" stroke="#000" stroke-width="1.3" />
<line x1="157.10" y1="161.65" x2="161.90" y2="161.65" stroke="#000" stroke-width="1.6" />
<line x1="164.61" y1="157.62" x2="164.61" y2="160.61" stroke="#000" stroke-width="1.3" />
<line x1="162.21" y1="160.61" x2="167.01" y2="160.61" stroke="#000" stroke-width="1.6" />
<line x1="169.72" y1="157.79" x2="169.72" y2="160.79" stroke="#000" stroke-width="1.3" />
<line x1="167.32" y1="160.79" x2="172.12" y2="160.79" stroke="#000" stroke-width="1.6" />
<line x1="174.83" y1="156.58" x2="174.83" y2="159.60" stroke="#000" stroke-width="1.3" />
<line x1="172.43" y1="159.60" x2="177.23" y2="159.60" stroke="#000" stroke-width="1.6" />
<line x1="179.94" y1="156.85" x2="179.94" y2="159.88" stroke="#000" stroke-width="1.3" />
<line x1="177.54" y1="159.88" x2="182.34" y2="159.88" stroke="#000" stroke-width="1.6" />
<line x1="185.05" y1="155.73" x2="185.05" y2="158.77" stroke="#000" stroke-width="1.3" />
<line x1="182.65" y1="158.77" x2="187.45" y2="158.77" stroke="#000" stroke-width="1.6" />
<line x1="190.16" y1="156.06" x2="190.16" y2="159.11" stroke="#000" stroke-width="1.3" />
<line x1="187.76" y1="159.11" x2="192.56" y2="159.11" stroke="#000" stroke-width="1.6" />
<line x1="195.27" y1="155.31" x2="195.27" y2="158.37" stroke="#000" stroke-width="1.3" />
<line x1="192.87" y1="158.37" x2="197.67" y2="158.37" stroke="#000" stroke-width="1.6" />
<line x1="200.38" y1="155.35" x2="200.38" y2="158.43" stroke="#000" stroke-width="1.3" />
<line x1="197.98" y1="158.43" x2="202.78" y2="158.43" stroke="#000" stroke-width="1.6" />
<line x1="205.49" y1="154.97" x2="205.49" y2="158.06" stroke="#000" stroke-width="1.3" />
<line x1="203.09" y1="158.06" x2="207.89" y2="158.06" stroke="#000" stroke-width="1.6" />
<line x1="210.60" y1="154.69" x2="210.60" y2="157.79" stroke="#000" stroke-width="1.3" />
<line x1="208.20" y1="157.79" x2="213.00" y2="157.79" stroke="#000" stroke-width="1.6" />
<line x1="215.71" y1="154.68" x2="215.71" y2="157.79" stroke="#000" stroke-width="1.3" />
<line x1="213.31" y1="157.79" x2="218.11" y2="157.79" stroke="#000" stroke-width="1.6" />
<line x1="220.82" y1="154.01" x2="220.82" y2="157.13" stroke="#000" stroke-width="1.3" />
<line x1="218.42" y1="157.13" x2="223.22" y2="157.13" stroke="#000" stroke-width="1.6" />
<line x1="225.93" y1="154.23" x2="225.93" y2="157.36" stroke="#000" stroke-width="1.3" />
<line x1="223.53" y1="157.36" x2="228.33" y2="157.36" stroke="#000" stroke-width="1.6" />
<line x1="231.04" y1="152.41" x2="231.04" y2="155.56" stroke="#000" stroke-width="1.3" />
<line x1="228.64" y1="155.56" x2="233.44" y2="155.56" stroke="#000" stroke-width="1.6" />
<line x1="236.15" y1="151.10" x2="236.15" y2="154.26" stroke="#000" stroke-width="1.3" />
<line x1="233.75" y1="154.26" x2="238.55" y2="154.26" stroke="#000" stroke-width="1.6" />
<line x1="241.26" y1="149.92" x2="241.26" y2="153.08" stroke="#000" stroke-width="1.3" />
<line x1="238.86" y1="153.08" x2="243.66" y2="153.08" stroke="#000" stroke-width="1.6" />
<line x1="246.37" y1="150.16" x2="246.37" y2="153.33" stroke="#000" stroke-width="1.3" />
<line x1="243.97" y1="153.33" x2="248.77" y2="153.33" stroke="#000" stroke-width="1.6" />
<line x1="251.48" y1="149.23" x2="251.48" y2="152.42" stroke="#000" stroke-width="1.3" />
<line x1="249.08" y1="152.42" x2="253.88" y2="152.42" stroke="#000" stroke-width="1.6" />
<line x1="256.59" y1="149.43" x2="256.59" y2="152.63" stroke="#000" stroke-width="1.3" />
<line x1="254.19" y1="152.63" x2="258.99" y2="152.63" stroke="#000" stroke-width="1.6" />
<line x1="261.70" y1="148.77" x2="261.70" y2="151.98" stroke="#000" stroke-width="1.3" />
<line x1="259.30" y1="151.98" x2="264.10" y2="151.98" stroke="#000" stroke-width="1.6" />
<circle cx="62.41" cy="199.28" r="5.70" fill="#0a0af0" stroke="#000" stroke-width="2.9"/>
<circle cx="67.52" cy="199.62" r="5.70" fill="#0a0af0" stroke="#000" stroke-width="2.9"/>
<circle cx="72.63" cy="198.96" r="5.70" fill="#0a0af0" stroke="#000" stroke-width="2.9"/>
<circle cx="77.74" cy="199.00" r="5.70" fill="#0a0af0" stroke="#000" stroke-width="2.9"/>
<circle cx="82.85" cy="198.76" r="5.70" fill="#0a0af0" stroke="#000" stroke-width="2.9"/>
<circle cx="87.96" cy="198.50" r="5.70" fill="#0a0af0" stroke="#000" stroke-width="2.9"/>
<circle cx="93.07" cy="198.63" r="5.70" fill="#0a0af0" stroke="#000" stroke-width="2.9"/>
<circle cx="98.18" cy="197.50" r="5.70" fill="#0a0af0" stroke="#000" stroke-width="2.9"/>
<circle cx="103.29" cy="197.39" r="5.70" fill="#0a0af0" stroke="#000" stroke-width="2.9"/>
<circle cx="108.40" cy="196.41" r="5.70" fill="#0a0af0" stroke="#000" stroke-width="2.9"/>
<circle cx="113.51" cy="157.62" r="5.70" fill="#0a0af0" stroke="#000" stroke-width="2.2"/>
<circle cx="118.62" cy="169.09" r="5.70" fill="#0a0af0" stroke="#000" stroke-width="2.2"/>
<circle cx="123.73" cy="169.59" r="5.70" fill="#0a0af0" stroke="#000" stroke-width="2.2"/>
<circle cx="128.84" cy="167.91" r="5.70" fill="#0a0af0" stroke="#000" stroke-width="2.2"/>
<circle cx="133.95" cy="166.07" r="5.70" fill="#0a0af0" stroke="#000" stroke-width="2.2"/>
<circle cx="139.06" cy="162.74" r="5.70" fill="#0a0af0" stroke="#000" stroke-width="2.2"/>
<circle cx="144.17" cy="161.03" r="5.70" fill="#0a0af0" stroke="#000" stroke-width="2.2"/>
<circle cx="149.28" cy="160.04" r="5.70" fill="#0a0af0" stroke="#000" stroke-width="2.2"/>
<circle cx="154.39" cy="158.73" r="5.70" fill="#0a0af0" stroke="#000" stroke-width="2.2"/>
<circle cx="159.50" cy="158.66" r="5.70" fill="#0a0af0" stroke="#000" stroke-width="2.2"/>
<circle cx="164.61" cy="157.62" r="5.70" fill="#0a0af0" stroke="#000" stroke-width="2.2"/>
<circle cx="169.72" cy="157.79" r="5.70" fill="#0a0af0" stroke="#000" stroke-width="2.2"/>
<circle cx="174.83" cy="156.58" r="5.70" fill="#0a0af0" stroke="#000" stroke-width="2.2"/>
<circle cx="179.94" cy="156.85" r="5.70" fill="#0a0af0" stroke="#000" stroke-width="2.2"/>
<circle cx="185.05" cy="155.73" r="5.70" fill="#0a0af0" stroke="#000" stroke-width="2.2"/>
<circle cx="190.16" cy="156.06" r="5.70" fill="#0a0af0" stroke="#000" stroke-width="2.2"/>
<circle cx="195.27" cy="155.31" r="5.70" fill="#0a0af0" stroke="#000" stroke-width="2.2"/>
<circle cx="200.38" cy="155.35" r="5.70" fill="#0a0af0" stroke="#000" stroke-width="2.2"/>
<circle cx="205.49" cy="154.97" r="5.70" fill="#0a0af0" stroke="#000" stroke-width="2.2"/>
<circle cx="210.60" cy="154.69" r="5.70" fill="#0a0af0" stroke="#000" stroke-width="2.2"/>
<circle cx="215.71" cy="154.68" r="5.70" fill="#0a0af0" stroke="#000" stroke-width="2.2"/>
<circle cx="220.82" cy="154.01" r="5.70" fill="#0a0af0" stroke="#000" stroke-width="2.2"/>
<circle cx="225.93" cy="154.23" r="5.70" fill="#0a0af0" stroke="#000" stroke-width="2.2"/>
<circle cx="231.04" cy="152.41" r="5.70" fill="#0a0af0" stroke="#000" stroke-width="2.2"/>
<circle cx="236.15" cy="151.10" r="5.70" fill="#0a0af0" stroke="#000" stroke-width="2.2"/>
<circle cx="241.26" cy="149.92" r="5.70" fill="#0a0af0" stroke="#000" stroke-width="2.2"/>
<circle cx="246.37" cy="150.16" r="5.70" fill="#0a0af0" stroke="#000" stroke-width="2.2"/>
<circle cx="251.48" cy="149.23" r="5.70" fill="#0a0af0" stroke="#000" stroke-width="2.2"/>
<circle cx="256.59" cy="149.43" r="5.70" fill="#0a0af0" stroke="#000" stroke-width="2.2"/>
<circle cx="261.70" cy="148.77" r="5.70" fill="#0a0af0" stroke="#000" stroke-width="2.2"/>
<line x1="57.30" y1="61.60" x2="57.30" y2="246.60" stroke="#000" stroke-width="1.8" />
<line x1="56.40" y1="245.70" x2="274.30" y2="245.70" stroke="#000" stroke-width="2.0" />
<line x1="53.50" y1="245.70" x2="57.30" y2="245.70" stroke="#000" stroke-width="1.6" />
<text x="50.50" y="250.70" font-size="16.00" fill="#0a0a0a" text-anchor="end" textLength="17.40" lengthAdjust="spacingAndGlyphs"  stroke="#0a0a0a" stroke-width="0.25">50</text>
<line x1="55.10" y1="222.76" x2="57.30" y2="222.76" stroke="#000" stroke-width="1.4" />
<line x1="53.50" y1="199.82" x2="57.30" y2="199.82" stroke="#000" stroke-width="1.6" />
<text x="50.50" y="204.82" font-size="16.00" fill="#0a0a0a" text-anchor="end" textLength="26.30" lengthAdjust="spacingAndGlyphs"  stroke="#0a0a0a" stroke-width="0.25">100</text>
<line x1="55.10" y1="176.89" x2="57.30" y2="176.89" stroke="#000" stroke-width="1.4" />
<line x1="53.50" y1="153.95" x2="57.30" y2="153.95" stroke="#000" stroke-width="1.6" />
<text x="50.50" y="158.95" font-size="16.00" fill="#0a0a0a" text-anchor="end" textLength="26.30" lengthAdjust="spacingAndGlyphs"  stroke="#0a0a0a" stroke-width="0.25">150</text>
<line x1="55.10" y1="131.01" x2="57.30" y2="131.01" stroke="#000" stroke-width="1.4" />
<line x1="53.50" y1="108.07" x2="57.30" y2="108.07" stroke="#000" stroke-width="1.6" />
<text x="50.50" y="113.07" font-size="16.00" fill="#0a0a0a" text-anchor="end" textLength="26.30" lengthAdjust="spacingAndGlyphs"  stroke="#0a0a0a" stroke-width="0.25">200</text>
<line x1="55.10" y1="85.14" x2="57.30" y2="85.14" stroke="#000" stroke-width="1.4" />
<line x1="53.50" y1="62.20" x2="57.30" y2="62.20" stroke="#000" stroke-width="1.6" />
<text x="50.50" y="67.20" font-size="16.00" fill="#0a0a0a" text-anchor="end" textLength="26.30" lengthAdjust="spacingAndGlyphs"  stroke="#0a0a0a" stroke-width="0.25">250</text>
<line x1="57.30" y1="245.70" x2="57.30" y2="249.50" stroke="#000" stroke-width="1.6" />
<text x="57.00" y="263.90" font-size="16.00" fill="#0a0a0a" text-anchor="middle" textLength="8.40" lengthAdjust="spacingAndGlyphs"  stroke="#0a0a0a" stroke-width="0.25">0</text>
<line x1="82.85" y1="245.70" x2="82.85" y2="248.10" stroke="#000" stroke-width="1.4" />
<line x1="108.40" y1="245.70" x2="108.40" y2="249.50" stroke="#000" stroke-width="1.6" />
<text x="108.10" y="263.90" font-size="16.00" fill="#0a0a0a" text-anchor="middle" textLength="18.00" lengthAdjust="spacingAndGlyphs"  stroke="#0a0a0a" stroke-width="0.25">20</text>
<line x1="133.95" y1="245.70" x2="133.95" y2="248.10" stroke="#000" stroke-width="1.4" />
<line x1="159.50" y1="245.70" x2="159.50" y2="249.50" stroke="#000" stroke-width="1.6" />
<text x="159.20" y="263.90" font-size="16.00" fill="#0a0a0a" text-anchor="middle" textLength="18.00" lengthAdjust="spacingAndGlyphs"  stroke="#0a0a0a" stroke-width="0.25">40</text>
<line x1="185.05" y1="245.70" x2="185.05" y2="248.10" stroke="#000" stroke-width="1.4" />
<line x1="210.60" y1="245.70" x2="210.60" y2="249.50" stroke="#000" stroke-width="1.6" />
<text x="210.30" y="263.90" font-size="16.00" fill="#0a0a0a" text-anchor="middle" textLength="18.00" lengthAdjust="spacingAndGlyphs"  stroke="#0a0a0a" stroke-width="0.25">60</text>
<line x1="236.15" y1="245.70" x2="236.15" y2="248.10" stroke="#000" stroke-width="1.4" />
<line x1="261.70" y1="245.70" x2="261.70" y2="249.50" stroke="#000" stroke-width="1.6" />
<text x="261.40" y="263.90" font-size="16.00" fill="#0a0a0a" text-anchor="middle" textLength="18.00" lengthAdjust="spacingAndGlyphs"  stroke="#0a0a0a" stroke-width="0.25">80</text>
<line x1="59.40" y1="199.82" x2="274.80" y2="199.82" stroke="#000" stroke-width="1.8" stroke-dasharray="8.60 9.10"/>
<path d="M111.60,207.20 L108.10,219.00 L115.10,219.00 Z" fill="#000"/>
<line x1="111.60" y1="218.00" x2="111.60" y2="226.80" stroke="#000" stroke-width="1.8" />
<text x="98.20" y="241.80" font-size="14.80" fill="#0a0a0a" text-anchor="start" textLength="29.00" lengthAdjust="spacingAndGlyphs"  stroke="#0a0a0a" stroke-width="0.25">HFS</text>
<line x1="60.30" y1="50.80" x2="97.50" y2="50.80" stroke="#000" stroke-width="1.7" />
<circle cx="78.30" cy="50.80" r="5.60" fill="#a9a9a9" stroke="#000" stroke-width="1.9"/>
<text x="101.40" y="56.50" font-size="15.50" fill="#0a0a0a" text-anchor="start" textLength="25.50" lengthAdjust="spacingAndGlyphs"  stroke="#0a0a0a" stroke-width="0.25">WT</text>
<text x="131.20" y="56.50" font-size="15.50" fill="#0a0a0a" text-anchor="start" textLength="33.00" lengthAdjust="spacingAndGlyphs"  stroke="#0a0a0a" stroke-width="0.25">Dark</text>
<line x1="60.30" y1="71.60" x2="97.50" y2="71.60" stroke="#000" stroke-width="1.7" />
<circle cx="78.30" cy="71.60" r="5.60" fill="#0a0af0" stroke="#000" stroke-width="1.9"/>
<text x="101.40" y="77.30" font-size="15.50" fill="#0a0a0a" text-anchor="start" textLength="25.50" lengthAdjust="spacingAndGlyphs"  stroke="#0a0a0a" stroke-width="0.25">WT</text>
<text x="131.20" y="77.30" font-size="15.50" fill="#2a2aa6" text-anchor="start" textLength="35.00" lengthAdjust="spacingAndGlyphs"  stroke="#2a2aa6" stroke-width="0.25">Light</text>
<text x="295.40" y="23.30" font-size="26.00" fill="#000" text-anchor="start" textLength="14.80" lengthAdjust="spacingAndGlyphs" stroke="#000" stroke-width="0.3">b</text>
<text x="0" y="0" font-size="19.5" fill="#0a0a0a" stroke="#0a0a0a" stroke-width="0.25" text-anchor="middle" textLength="201.00" lengthAdjust="spacingAndGlyphs" transform="translate(310.00,157.00) rotate(-90)">fEPSP (% of baseline)</text>
<text x="418.00" y="283.40" font-size="14.50" fill="#1a1a1a" text-anchor="start" textLength="79.10" lengthAdjust="spacingAndGlyphs"  stroke="#1a1a1a" stroke-width="0.25">Time ( min )</text>
<circle cx="354.01" cy="202.31" r="5.60" fill="#a9a9a9" stroke="#107512" stroke-width="3.3"/>
<circle cx="359.12" cy="203.23" r="5.60" fill="#a9a9a9" stroke="#107512" stroke-width="3.3"/>
<circle cx="364.23" cy="202.03" r="5.60" fill="#a9a9a9" stroke="#107512" stroke-width="3.3"/>
<circle cx="369.34" cy="202.98" r="5.60" fill="#a9a9a9" stroke="#107512" stroke-width="3.3"/>
<circle cx="374.45" cy="201.23" r="5.60" fill="#a9a9a9" stroke="#107512" stroke-width="3.3"/>
<circle cx="379.56" cy="201.30" r="5.60" fill="#a9a9a9" stroke="#107512" stroke-width="3.3"/>
<circle cx="384.67" cy="199.91" r="5.60" fill="#a9a9a9" stroke="#107512" stroke-width="3.3"/>
<circle cx="389.78" cy="198.91" r="5.60" fill="#a9a9a9" stroke="#107512" stroke-width="3.3"/>
<circle cx="394.89" cy="197.44" r="5.60" fill="#a9a9a9" stroke="#107512" stroke-width="3.3"/>
<circle cx="400.00" cy="196.94" r="5.60" fill="#a9a9a9" stroke="#107512" stroke-width="3.3"/>
<circle cx="405.11" cy="145.57" r="5.60" fill="#a9a9a9" stroke="#107512" stroke-width="2.6"/>
<circle cx="410.22" cy="170.62" r="5.60" fill="#a9a9a9" stroke="#107512" stroke-width="2.6"/>
<circle cx="415.33" cy="181.84" r="5.60" fill="#a9a9a9" stroke="#107512" stroke-width="2.6"/>
<circle cx="420.44" cy="182.38" r="5.60" fill="#a9a9a9" stroke="#107512" stroke-width="2.6"/>
<circle cx="425.55" cy="183.59" r="5.60" fill="#a9a9a9" stroke="#107512" stroke-width="2.6"/>
<circle cx="430.66" cy="182.63" r="5.60" fill="#a9a9a9" stroke="#107512" stroke-width="2.6"/>
<circle cx="435.77" cy="183.76" r="5.60" fill="#a9a9a9" stroke="#107512" stroke-width="2.6"/>
<circle cx="440.88" cy="183.02" r="5.60" fill="#a9a9a9" stroke="#107512" stroke-width="2.6"/>
<circle cx="445.99" cy="183.80" r="5.60" fill="#a9a9a9" stroke="#107512" stroke-width="2.6"/>
<circle cx="451.10" cy="183.51" r="5.60" fill="#a9a9a9" stroke="#107512" stroke-width="2.6"/>
<circle cx="456.21" cy="183.73" r="5.60" fill="#a9a9a9" stroke="#107512" stroke-width="2.6"/>
<circle cx="461.32" cy="183.96" r="5.60" fill="#a9a9a9" stroke="#107512" stroke-width="2.6"/>
<circle cx="466.43" cy="183.63" r="5.60" fill="#a9a9a9" stroke="#107512" stroke-width="2.6"/>
<circle cx="471.54" cy="184.37" r="5.60" fill="#a9a9a9" stroke="#107512" stroke-width="2.6"/>
<circle cx="476.65" cy="183.59" r="5.60" fill="#a9a9a9" stroke="#107512" stroke-width="2.6"/>
<circle cx="481.76" cy="184.68" r="5.60" fill="#a9a9a9" stroke="#107512" stroke-width="2.6"/>
<circle cx="486.87" cy="183.68" r="5.60" fill="#a9a9a9" stroke="#107512" stroke-width="2.6"/>
<circle cx="491.98" cy="184.85" r="5.60" fill="#a9a9a9" stroke="#107512" stroke-width="2.6"/>
<circle cx="497.09" cy="183.91" r="5.60" fill="#a9a9a9" stroke="#107512" stroke-width="2.6"/>
<circle cx="502.20" cy="184.88" r="5.60" fill="#a9a9a9" stroke="#107512" stroke-width="2.6"/>
<circle cx="507.31" cy="184.20" r="5.60" fill="#a9a9a9" stroke="#107512" stroke-width="2.6"/>
<circle cx="512.42" cy="184.67" r="5.60" fill="#a9a9a9" stroke="#107512" stroke-width="2.6"/>
<circle cx="517.53" cy="184.51" r="5.60" fill="#a9a9a9" stroke="#107512" stroke-width="2.6"/>
<circle cx="522.64" cy="184.43" r="5.60" fill="#a9a9a9" stroke="#107512" stroke-width="2.6"/>
<circle cx="527.75" cy="184.82" r="5.60" fill="#a9a9a9" stroke="#107512" stroke-width="2.6"/>
<circle cx="532.86" cy="184.22" r="5.60" fill="#a9a9a9" stroke="#107512" stroke-width="2.6"/>
<circle cx="537.97" cy="185.07" r="5.60" fill="#a9a9a9" stroke="#107512" stroke-width="2.6"/>
<circle cx="543.08" cy="184.10" r="5.60" fill="#a9a9a9" stroke="#107512" stroke-width="2.6"/>
<circle cx="548.19" cy="185.19" r="5.60" fill="#a9a9a9" stroke="#107512" stroke-width="2.6"/>
<circle cx="553.30" cy="184.12" r="5.60" fill="#a9a9a9" stroke="#107512" stroke-width="2.6"/>
<line x1="354.01" y1="202.31" x2="354.01" y2="199.56" stroke="#107512" stroke-width="1.3" />
<line x1="351.61" y1="199.56" x2="356.41" y2="199.56" stroke="#107512" stroke-width="1.6" />
<line x1="359.12" y1="203.23" x2="359.12" y2="200.48" stroke="#107512" stroke-width="1.3" />
<line x1="356.72" y1="200.48" x2="361.52" y2="200.48" stroke="#107512" stroke-width="1.6" />
<line x1="364.23" y1="202.03" x2="364.23" y2="199.27" stroke="#107512" stroke-width="1.3" />
<line x1="361.83" y1="199.27" x2="366.63" y2="199.27" stroke="#107512" stroke-width="1.6" />
<line x1="369.34" y1="202.98" x2="369.34" y2="200.23" stroke="#107512" stroke-width="1.3" />
<line x1="366.94" y1="200.23" x2="371.74" y2="200.23" stroke="#107512" stroke-width="1.6" />
<line x1="374.45" y1="201.23" x2="374.45" y2="198.48" stroke="#107512" stroke-width="1.3" />
<line x1="372.05" y1="198.48" x2="376.85" y2="198.48" stroke="#107512" stroke-width="1.6" />
<line x1="379.56" y1="201.30" x2="379.56" y2="198.55" stroke="#107512" stroke-width="1.3" />
<line x1="377.16" y1="198.55" x2="381.96" y2="198.55" stroke="#107512" stroke-width="1.6" />
<line x1="384.67" y1="199.91" x2="384.67" y2="197.16" stroke="#107512" stroke-width="1.3" />
<line x1="382.27" y1="197.16" x2="387.07" y2="197.16" stroke="#107512" stroke-width="1.6" />
<line x1="389.78" y1="198.91" x2="389.78" y2="196.16" stroke="#107512" stroke-width="1.3" />
<line x1="387.38" y1="196.16" x2="392.18" y2="196.16" stroke="#107512" stroke-width="1.6" />
<line x1="394.89" y1="197.44" x2="394.89" y2="194.68" stroke="#107512" stroke-width="1.3" />
<line x1="392.49" y1="194.68" x2="397.29" y2="194.68" stroke="#107512" stroke-width="1.6" />
<line x1="400.00" y1="196.94" x2="400.00" y2="194.19" stroke="#107512" stroke-width="1.3" />
<line x1="397.60" y1="194.19" x2="402.40" y2="194.19" stroke="#107512" stroke-width="1.6" />
<line x1="405.11" y1="145.57" x2="405.11" y2="137.32" stroke="#107512" stroke-width="1.3" />
<line x1="402.71" y1="137.32" x2="407.51" y2="137.32" stroke="#107512" stroke-width="1.6" />
<line x1="410.22" y1="170.62" x2="410.22" y2="167.87" stroke="#107512" stroke-width="1.3" />
<line x1="407.82" y1="167.87" x2="412.62" y2="167.87" stroke="#107512" stroke-width="1.6" />
<line x1="415.33" y1="181.84" x2="415.33" y2="179.09" stroke="#107512" stroke-width="1.3" />
<line x1="412.93" y1="179.09" x2="417.73" y2="179.09" stroke="#107512" stroke-width="1.6" />
<line x1="420.44" y1="182.38" x2="420.44" y2="179.63" stroke="#107512" stroke-width="1.3" />
<line x1="418.04" y1="179.63" x2="422.84" y2="179.63" stroke="#107512" stroke-width="1.6" />
<line x1="425.55" y1="183.59" x2="425.55" y2="180.84" stroke="#107512" stroke-width="1.3" />
<line x1="423.15" y1="180.84" x2="427.95" y2="180.84" stroke="#107512" stroke-width="1.6" />
<line x1="430.66" y1="182.63" x2="430.66" y2="179.88" stroke="#107512" stroke-width="1.3" />
<line x1="428.26" y1="179.88" x2="433.06" y2="179.88" stroke="#107512" stroke-width="1.6" />
<line x1="435.77" y1="183.76" x2="435.77" y2="181.00" stroke="#107512" stroke-width="1.3" />
<line x1="433.37" y1="181.00" x2="438.17" y2="181.00" stroke="#107512" stroke-width="1.6" />
<line x1="440.88" y1="183.02" x2="440.88" y2="180.27" stroke="#107512" stroke-width="1.3" />
<line x1="438.48" y1="180.27" x2="443.28" y2="180.27" stroke="#107512" stroke-width="1.6" />
<line x1="445.99" y1="183.80" x2="445.99" y2="181.05" stroke="#107512" stroke-width="1.3" />
<line x1="443.59" y1="181.05" x2="448.39" y2="181.05" stroke="#107512" stroke-width="1.6" />
<line x1="451.10" y1="183.51" x2="451.10" y2="180.76" stroke="#107512" stroke-width="1.3" />
<line x1="448.70" y1="180.76" x2="453.50" y2="180.76" stroke="#107512" stroke-width="1.6" />
<line x1="456.21" y1="183.73" x2="456.21" y2="180.98" stroke="#107512" stroke-width="1.3" />
<line x1="453.81" y1="180.98" x2="458.61" y2="180.98" stroke="#107512" stroke-width="1.6" />
<line x1="461.32" y1="183.96" x2="461.32" y2="181.21" stroke="#107512" stroke-width="1.3" />
<line x1="458.92" y1="181.21" x2="463.72" y2="181.21" stroke="#107512" stroke-width="1.6" />
<line x1="466.43" y1="183.63" x2="466.43" y2="180.87" stroke="#107512" stroke-width="1.3" />
<line x1="464.03" y1="180.87" x2="468.83" y2="180.87" stroke="#107512" stroke-width="1.6" />
<line x1="471.54" y1="184.37" x2="471.54" y2="181.62" stroke="#107512" stroke-width="1.3" />
<line x1="469.14" y1="181.62" x2="473.94" y2="181.62" stroke="#107512" stroke-width="1.6" />
<line x1="476.65" y1="183.59" x2="476.65" y2="180.84" stroke="#107512" stroke-width="1.3" />
<line x1="474.25" y1="180.84" x2="479.05" y2="180.84" stroke="#107512" stroke-width="1.6" />
<line x1="481.76" y1="184.68" x2="481.76" y2="181.92" stroke="#107512" stroke-width="1.3" />
<line x1="479.36" y1="181.92" x2="484.16" y2="181.92" stroke="#107512" stroke-width="1.6" />
<line x1="486.87" y1="183.68" x2="486.87" y2="180.93" stroke="#107512" stroke-width="1.3" />
<line x1="484.47" y1="180.93" x2="489.27" y2="180.93" stroke="#107512" stroke-width="1.6" />
<line x1="491.98" y1="184.85" x2="491.98" y2="182.09" stroke="#107512" stroke-width="1.3" />
<line x1="489.58" y1="182.09" x2="494.38" y2="182.09" stroke="#107512" stroke-width="1.6" />
<line x1="497.09" y1="183.91" x2="497.09" y2="181.16" stroke="#107512" stroke-width="1.3" />
<line x1="494.69" y1="181.16" x2="499.49" y2="181.16" stroke="#107512" stroke-width="1.6" />
<line x1="502.20" y1="184.88" x2="502.20" y2="182.12" stroke="#107512" stroke-width="1.3" />
<line x1="499.80" y1="182.12" x2="504.60" y2="182.12" stroke="#107512" stroke-width="1.6" />
<line x1="507.31" y1="184.20" x2="507.31" y2="181.45" stroke="#107512" stroke-width="1.3" />
<line x1="504.91" y1="181.45" x2="509.71" y2="181.45" stroke="#107512" stroke-width="1.6" />
<line x1="512.42" y1="184.67" x2="512.42" y2="181.92" stroke="#107512" stroke-width="1.3" />
<line x1="510.02" y1="181.92" x2="514.82" y2="181.92" stroke="#107512" stroke-width="1.6" />
<line x1="517.53" y1="184.51" x2="517.53" y2="181.76" stroke="#107512" stroke-width="1.3" />
<line x1="515.13" y1="181.76" x2="519.93" y2="181.76" stroke="#107512" stroke-width="1.6" />
<line x1="522.64" y1="184.43" x2="522.64" y2="181.68" stroke="#107512" stroke-width="1.3" />
<line x1="520.24" y1="181.68" x2="525.04" y2="181.68" stroke="#107512" stroke-width="1.6" />
<line x1="527.75" y1="184.82" x2="527.75" y2="182.07" stroke="#107512" stroke-width="1.3" />
<line x1="525.35" y1="182.07" x2="530.15" y2="182.07" stroke="#107512" stroke-width="1.6" />
<line x1="532.86" y1="184.22" x2="532.86" y2="181.46" stroke="#107512" stroke-width="1.3" />
<line x1="530.46" y1="181.46" x2="535.26" y2="181.46" stroke="#107512" stroke-width="1.6" />
<line x1="537.97" y1="185.07" x2="537.97" y2="182.31" stroke="#107512" stroke-width="1.3" />
<line x1="535.57" y1="182.31" x2="540.37" y2="182.31" stroke="#107512" stroke-width="1.6" />
<line x1="543.08" y1="184.10" x2="543.08" y2="181.35" stroke="#107512" stroke-width="1.3" />
<line x1="540.68" y1="181.35" x2="545.48" y2="181.35" stroke="#107512" stroke-width="1.6" />
<line x1="548.19" y1="185.19" x2="548.19" y2="182.44" stroke="#107512" stroke-width="1.3" />
<line x1="545.79" y1="182.44" x2="550.59" y2="182.44" stroke="#107512" stroke-width="1.6" />
<line x1="553.30" y1="184.12" x2="553.30" y2="181.37" stroke="#107512" stroke-width="1.3" />
<line x1="550.90" y1="181.37" x2="555.70" y2="181.37" stroke="#107512" stroke-width="1.6" />
<line x1="354.01" y1="202.31" x2="354.01" y2="205.06" stroke="#107512" stroke-width="1.3" />
<line x1="351.61" y1="205.06" x2="356.41" y2="205.06" stroke="#107512" stroke-width="1.6" />
<line x1="359.12" y1="203.23" x2="359.12" y2="205.98" stroke="#107512" stroke-width="1.3" />
<line x1="356.72" y1="205.98" x2="361.52" y2="205.98" stroke="#107512" stroke-width="1.6" />
<line x1="364.23" y1="202.03" x2="364.23" y2="204.78" stroke="#107512" stroke-width="1.3" />
<line x1="361.83" y1="204.78" x2="366.63" y2="204.78" stroke="#107512" stroke-width="1.6" />
<line x1="369.34" y1="202.98" x2="369.34" y2="205.73" stroke="#107512" stroke-width="1.3" />
<line x1="366.94" y1="205.73" x2="371.74" y2="205.73" stroke="#107512" stroke-width="1.6" />
<line x1="374.45" y1="201.23" x2="374.45" y2="203.99" stroke="#107512" stroke-width="1.3" />
<line x1="372.05" y1="203.99" x2="376.85" y2="203.99" stroke="#107512" stroke-width="1.6" />
<line x1="379.56" y1="201.30" x2="379.56" y2="204.05" stroke="#107512" stroke-width="1.3" />
<line x1="377.16" y1="204.05" x2="381.96" y2="204.05" stroke="#107512" stroke-width="1.6" />
<line x1="384.67" y1="199.91" x2="384.67" y2="202.67" stroke="#107512" stroke-width="1.3" />
<line x1="382.27" y1="202.67" x2="387.07" y2="202.67" stroke="#107512" stroke-width="1.6" />
<line x1="389.78" y1="198.91" x2="389.78" y2="201.66" stroke="#107512" stroke-width="1.3" />
<line x1="387.38" y1="201.66" x2="392.18" y2="201.66" stroke="#107512" stroke-width="1.6" />
<line x1="394.89" y1="197.44" x2="394.89" y2="200.19" stroke="#107512" stroke-width="1.3" />
<line x1="392.49" y1="200.19" x2="397.29" y2="200.19" stroke="#107512" stroke-width="1.6" />
<line x1="400.00" y1="196.94" x2="400.00" y2="199.70" stroke="#107512" stroke-width="1.3" />
<line x1="397.60" y1="199.70" x2="402.40" y2="199.70" stroke="#107512" stroke-width="1.6" />
<line x1="405.11" y1="145.57" x2="405.11" y2="148.33" stroke="#107512" stroke-width="1.3" />
<line x1="402.71" y1="148.33" x2="407.51" y2="148.33" stroke="#107512" stroke-width="1.6" />
<line x1="410.22" y1="170.62" x2="410.22" y2="173.38" stroke="#107512" stroke-width="1.3" />
<line x1="407.82" y1="173.38" x2="412.62" y2="173.38" stroke="#107512" stroke-width="1.6" />
<line x1="415.33" y1="181.84" x2="415.33" y2="184.59" stroke="#107512" stroke-width="1.3" />
<line x1="412.93" y1="184.59" x2="417.73" y2="184.59" stroke="#107512" stroke-width="1.6" />
<line x1="420.44" y1="182.38" x2="420.44" y2="185.13" stroke="#107512" stroke-width="1.3" />
<line x1="418.04" y1="185.13" x2="422.84" y2="185.13" stroke="#107512" stroke-width="1.6" />
<line x1="425.55" y1="183.59" x2="425.55" y2="186.34" stroke="#107512" stroke-width="1.3" />
<line x1="423.15" y1="186.34" x2="427.95" y2="186.34" stroke="#107512" stroke-width="1.6" />
<line x1="430.66" y1="182.63" x2="430.66" y2="185.39" stroke="#107512" stroke-width="1.3" />
<line x1="428.26" y1="185.39" x2="433.06" y2="185.39" stroke="#107512" stroke-width="1.6" />
<line x1="435.77" y1="183.76" x2="435.77" y2="186.51" stroke="#107512" stroke-width="1.3" />
<line x1="433.37" y1="186.51" x2="438.17" y2="186.51" stroke="#107512" stroke-width="1.6" />
<line x1="440.88" y1="183.02" x2="440.88" y2="185.77" stroke="#107512" stroke-width="1.3" />
<line x1="438.48" y1="185.77" x2="443.28" y2="185.77" stroke="#107512" stroke-width="1.6" />
<line x1="445.99" y1="183.80" x2="445.99" y2="186.55" stroke="#107512" stroke-width="1.3" />
<line x1="443.59" y1="186.55" x2="448.39" y2="186.55" stroke="#107512" stroke-width="1.6" />
<line x1="451.10" y1="183.51" x2="451.10" y2="186.26" stroke="#107512" stroke-width="1.3" />
<line x1="448.70" y1="186.26" x2="453.50" y2="186.26" stroke="#107512" stroke-width="1.6" />
<line x1="456.21" y1="183.73" x2="456.21" y2="186.49" stroke="#107512" stroke-width="1.3" />
<line x1="453.81" y1="186.49" x2="458.61" y2="186.49" stroke="#107512" stroke-width="1.6" />
<line x1="461.32" y1="183.96" x2="461.32" y2="186.71" stroke="#107512" stroke-width="1.3" />
<line x1="458.92" y1="186.71" x2="463.72" y2="186.71" stroke="#107512" stroke-width="1.6" />
<line x1="466.43" y1="183.63" x2="466.43" y2="186.38" stroke="#107512" stroke-width="1.3" />
<line x1="464.03" y1="186.38" x2="468.83" y2="186.38" stroke="#107512" stroke-width="1.6" />
<line x1="471.54" y1="184.37" x2="471.54" y2="187.12" stroke="#107512" stroke-width="1.3" />
<line x1="469.14" y1="187.12" x2="473.94" y2="187.12" stroke="#107512" stroke-width="1.6" />
<line x1="476.65" y1="183.59" x2="476.65" y2="186.34" stroke="#107512" stroke-width="1.3" />
<line x1="474.25" y1="186.34" x2="479.05" y2="186.34" stroke="#107512" stroke-width="1.6" />
<line x1="481.76" y1="184.68" x2="481.76" y2="187.43" stroke="#107512" stroke-width="1.3" />
<line x1="479.36" y1="187.43" x2="484.16" y2="187.43" stroke="#107512" stroke-width="1.6" />
<line x1="486.87" y1="183.68" x2="486.87" y2="186.43" stroke="#107512" stroke-width="1.3" />
<line x1="484.47" y1="186.43" x2="489.27" y2="186.43" stroke="#107512" stroke-width="1.6" />
<line x1="491.98" y1="184.85" x2="491.98" y2="187.60" stroke="#107512" stroke-width="1.3" />
<line x1="489.58" y1="187.60" x2="494.38" y2="187.60" stroke="#107512" stroke-width="1.6" />
<line x1="497.09" y1="183.91" x2="497.09" y2="186.66" stroke="#107512" stroke-width="1.3" />
<line x1="494.69" y1="186.66" x2="499.49" y2="186.66" stroke="#107512" stroke-width="1.6" />
<line x1="502.20" y1="184.88" x2="502.20" y2="187.63" stroke="#107512" stroke-width="1.3" />
<line x1="499.80" y1="187.63" x2="504.60" y2="187.63" stroke="#107512" stroke-width="1.6" />
<line x1="507.31" y1="184.20" x2="507.31" y2="186.96" stroke="#107512" stroke-width="1.3" />
<line x1="504.91" y1="186.96" x2="509.71" y2="186.96" stroke="#107512" stroke-width="1.6" />
<line x1="512.42" y1="184.67" x2="512.42" y2="187.43" stroke="#107512" stroke-width="1.3" />
<line x1="510.02" y1="187.43" x2="514.82" y2="187.43" stroke="#107512" stroke-width="1.6" />
<line x1="517.53" y1="184.51" x2="517.53" y2="187.26" stroke="#107512" stroke-width="1.3" />
<line x1="515.13" y1="187.26" x2="519.93" y2="187.26" stroke="#107512" stroke-width="1.6" />
<line x1="522.64" y1="184.43" x2="522.64" y2="187.18" stroke="#107512" stroke-width="1.3" />
<line x1="520.24" y1="187.18" x2="525.04" y2="187.18" stroke="#107512" stroke-width="1.6" />
<line x1="527.75" y1="184.82" x2="527.75" y2="187.57" stroke="#107512" stroke-width="1.3" />
<line x1="525.35" y1="187.57" x2="530.15" y2="187.57" stroke="#107512" stroke-width="1.6" />
<line x1="532.86" y1="184.22" x2="532.86" y2="186.97" stroke="#107512" stroke-width="1.3" />
<line x1="530.46" y1="186.97" x2="535.26" y2="186.97" stroke="#107512" stroke-width="1.6" />
<line x1="537.97" y1="185.07" x2="537.97" y2="187.82" stroke="#107512" stroke-width="1.3" />
<line x1="535.57" y1="187.82" x2="540.37" y2="187.82" stroke="#107512" stroke-width="1.6" />
<line x1="543.08" y1="184.10" x2="543.08" y2="186.85" stroke="#107512" stroke-width="1.3" />
<line x1="540.68" y1="186.85" x2="545.48" y2="186.85" stroke="#107512" stroke-width="1.6" />
<line x1="548.19" y1="185.19" x2="548.19" y2="187.94" stroke="#107512" stroke-width="1.3" />
<line x1="545.79" y1="187.94" x2="550.59" y2="187.94" stroke="#107512" stroke-width="1.6" />
<line x1="553.30" y1="184.12" x2="553.30" y2="186.87" stroke="#107512" stroke-width="1.3" />
<line x1="550.90" y1="186.87" x2="555.70" y2="186.87" stroke="#107512" stroke-width="1.6" />
<line x1="354.01" y1="199.11" x2="354.01" y2="197.27" stroke="#107512" stroke-width="1.3" />
<line x1="351.61" y1="197.27" x2="356.41" y2="197.27" stroke="#107512" stroke-width="1.6" />
<line x1="359.12" y1="200.71" x2="359.12" y2="198.88" stroke="#107512" stroke-width="1.3" />
<line x1="356.72" y1="198.88" x2="361.52" y2="198.88" stroke="#107512" stroke-width="1.6" />
<line x1="364.23" y1="199.81" x2="364.23" y2="197.98" stroke="#107512" stroke-width="1.3" />
<line x1="361.83" y1="197.98" x2="366.63" y2="197.98" stroke="#107512" stroke-width="1.6" />
<line x1="369.34" y1="200.67" x2="369.34" y2="198.83" stroke="#107512" stroke-width="1.3" />
<line x1="366.94" y1="198.83" x2="371.74" y2="198.83" stroke="#107512" stroke-width="1.6" />
<line x1="374.45" y1="200.63" x2="374.45" y2="198.80" stroke="#107512" stroke-width="1.3" />
<line x1="372.05" y1="198.80" x2="376.85" y2="198.80" stroke="#107512" stroke-width="1.6" />
<line x1="379.56" y1="200.05" x2="379.56" y2="198.21" stroke="#107512" stroke-width="1.3" />
<line x1="377.16" y1="198.21" x2="381.96" y2="198.21" stroke="#107512" stroke-width="1.6" />
<line x1="384.67" y1="200.42" x2="384.67" y2="198.58" stroke="#107512" stroke-width="1.3" />
<line x1="382.27" y1="198.58" x2="387.07" y2="198.58" stroke="#107512" stroke-width="1.6" />
<line x1="389.78" y1="198.98" x2="389.78" y2="197.14" stroke="#107512" stroke-width="1.3" />
<line x1="387.38" y1="197.14" x2="392.18" y2="197.14" stroke="#107512" stroke-width="1.6" />
<line x1="394.89" y1="200.08" x2="394.89" y2="198.25" stroke="#107512" stroke-width="1.3" />
<line x1="392.49" y1="198.25" x2="397.29" y2="198.25" stroke="#107512" stroke-width="1.6" />
<line x1="400.00" y1="198.07" x2="400.00" y2="196.24" stroke="#107512" stroke-width="1.3" />
<line x1="397.60" y1="196.24" x2="402.40" y2="196.24" stroke="#107512" stroke-width="1.6" />
<line x1="405.11" y1="128.60" x2="405.11" y2="112.09" stroke="#107512" stroke-width="1.3" />
<line x1="402.71" y1="112.09" x2="407.51" y2="112.09" stroke="#107512" stroke-width="1.6" />
<line x1="410.22" y1="157.23" x2="410.22" y2="147.13" stroke="#107512" stroke-width="1.3" />
<line x1="407.82" y1="147.13" x2="412.62" y2="147.13" stroke="#107512" stroke-width="1.6" />
<line x1="415.33" y1="163.35" x2="415.33" y2="153.26" stroke="#107512" stroke-width="1.3" />
<line x1="412.93" y1="153.26" x2="417.73" y2="153.26" stroke="#107512" stroke-width="1.6" />
<line x1="420.44" y1="161.66" x2="420.44" y2="151.56" stroke="#107512" stroke-width="1.3" />
<line x1="418.04" y1="151.56" x2="422.84" y2="151.56" stroke="#107512" stroke-width="1.6" />
<line x1="425.55" y1="162.57" x2="425.55" y2="152.48" stroke="#107512" stroke-width="1.3" />
<line x1="423.15" y1="152.48" x2="427.95" y2="152.48" stroke="#107512" stroke-width="1.6" />
<line x1="430.66" y1="161.28" x2="430.66" y2="151.18" stroke="#107512" stroke-width="1.3" />
<line x1="428.26" y1="151.18" x2="433.06" y2="151.18" stroke="#107512" stroke-width="1.6" />
<line x1="435.77" y1="161.02" x2="435.77" y2="150.93" stroke="#107512" stroke-width="1.3" />
<line x1="433.37" y1="150.93" x2="438.17" y2="150.93" stroke="#107512" stroke-width="1.6" />
<line x1="440.88" y1="160.64" x2="440.88" y2="150.55" stroke="#107512" stroke-width="1.3" />
<line x1="438.48" y1="150.55" x2="443.28" y2="150.55" stroke="#107512" stroke-width="1.6" />
<line x1="445.99" y1="159.46" x2="445.99" y2="149.37" stroke="#107512" stroke-width="1.3" />
<line x1="443.59" y1="149.37" x2="448.39" y2="149.37" stroke="#107512" stroke-width="1.6" />
<line x1="451.10" y1="159.96" x2="451.10" y2="149.87" stroke="#107512" stroke-width="1.3" />
<line x1="448.70" y1="149.87" x2="453.50" y2="149.87" stroke="#107512" stroke-width="1.6" />
<line x1="456.21" y1="158.30" x2="456.21" y2="148.21" stroke="#107512" stroke-width="1.3" />
<line x1="453.81" y1="148.21" x2="458.61" y2="148.21" stroke="#107512" stroke-width="1.6" />
<line x1="461.32" y1="159.69" x2="461.32" y2="149.59" stroke="#107512" stroke-width="1.3" />
<line x1="458.92" y1="149.59" x2="463.72" y2="149.59" stroke="#107512" stroke-width="1.6" />
<line x1="466.43" y1="157.63" x2="466.43" y2="147.54" stroke="#107512" stroke-width="1.3" />
<line x1="464.03" y1="147.54" x2="468.83" y2="147.54" stroke="#107512" stroke-width="1.6" />
<line x1="471.54" y1="159.01" x2="471.54" y2="148.92" stroke="#107512" stroke-width="1.3" />
<line x1="469.14" y1="148.92" x2="473.94" y2="148.92" stroke="#107512" stroke-width="1.6" />
<line x1="476.65" y1="156.68" x2="476.65" y2="146.59" stroke="#107512" stroke-width="1.3" />
<line x1="474.25" y1="146.59" x2="479.05" y2="146.59" stroke="#107512" stroke-width="1.6" />
<line x1="481.76" y1="157.58" x2="481.76" y2="147.49" stroke="#107512" stroke-width="1.3" />
<line x1="479.36" y1="147.49" x2="484.16" y2="147.49" stroke="#107512" stroke-width="1.6" />
<line x1="486.87" y1="155.77" x2="486.87" y2="145.68" stroke="#107512" stroke-width="1.3" />
<line x1="484.47" y1="145.68" x2="489.27" y2="145.68" stroke="#107512" stroke-width="1.6" />
<line x1="491.98" y1="155.97" x2="491.98" y2="145.87" stroke="#107512" stroke-width="1.3" />
<line x1="489.58" y1="145.87" x2="494.38" y2="145.87" stroke="#107512" stroke-width="1.6" />
<line x1="497.09" y1="154.99" x2="497.09" y2="144.90" stroke="#107512" stroke-width="1.3" />
<line x1="494.69" y1="144.90" x2="499.49" y2="144.90" stroke="#107512" stroke-width="1.6" />
<line x1="502.20" y1="154.70" x2="502.20" y2="144.60" stroke="#107512" stroke-width="1.3" />
<line x1="499.80" y1="144.60" x2="504.60" y2="144.60" stroke="#107512" stroke-width="1.6" />
<line x1="507.31" y1="155.49" x2="507.31" y2="145.40" stroke="#107512" stroke-width="1.3" />
<line x1="504.91" y1="145.40" x2="509.71" y2="145.40" stroke="#107512" stroke-width="1.6" />
<line x1="512.42" y1="154.73" x2="512.42" y2="144.64" stroke="#107512" stroke-width="1.3" />
<line x1="510.02" y1="144.64" x2="514.82" y2="144.64" stroke="#107512" stroke-width="1.6" />
<line x1="517.53" y1="156.30" x2="517.53" y2="146.21" stroke="#107512" stroke-width="1.3" />
<line x1="515.13" y1="146.21" x2="519.93" y2="146.21" stroke="#107512" stroke-width="1.6" />
<line x1="522.64" y1="154.57" x2="522.64" y2="144.47" stroke="#107512" stroke-width="1.3" />
<line x1="520.24" y1="144.47" x2="525.04" y2="144.47" stroke="#107512" stroke-width="1.6" />
<line x1="527.75" y1="155.86" x2="527.75" y2="145.77" stroke="#107512" stroke-width="1.3" />
<line x1="525.35" y1="145.77" x2="530.15" y2="145.77" stroke="#107512" stroke-width="1.6" />
<line x1="532.86" y1="153.56" x2="532.86" y2="143.47" stroke="#107512" stroke-width="1.3" />
<line x1="530.46" y1="143.47" x2="535.26" y2="143.47" stroke="#107512" stroke-width="1.6" />
<line x1="537.97" y1="154.82" x2="537.97" y2="144.73" stroke="#107512" stroke-width="1.3" />
<line x1="535.57" y1="144.73" x2="540.37" y2="144.73" stroke="#107512" stroke-width="1.6" />
<line x1="543.08" y1="152.80" x2="543.08" y2="142.70" stroke="#107512" stroke-width="1.3" />
<line x1="540.68" y1="142.70" x2="545.48" y2="142.70" stroke="#107512" stroke-width="1.6" />
<line x1="548.19" y1="153.57" x2="548.19" y2="143.48" stroke="#107512" stroke-width="1.3" />
<line x1="545.79" y1="143.48" x2="550.59" y2="143.48" stroke="#107512" stroke-width="1.6" />
<line x1="553.30" y1="152.21" x2="553.30" y2="142.12" stroke="#107512" stroke-width="1.3" />
<line x1="550.90" y1="142.12" x2="555.70" y2="142.12" stroke="#107512" stroke-width="1.6" />
<line x1="354.01" y1="199.11" x2="354.01" y2="200.94" stroke="#107512" stroke-width="1.3" />
<line x1="351.61" y1="200.94" x2="356.41" y2="200.94" stroke="#107512" stroke-width="1.6" />
<line x1="359.12" y1="200.71" x2="359.12" y2="202.55" stroke="#107512" stroke-width="1.3" />
<line x1="356.72" y1="202.55" x2="361.52" y2="202.55" stroke="#107512" stroke-width="1.6" />
<line x1="364.23" y1="199.81" x2="364.23" y2="201.65" stroke="#107512" stroke-width="1.3" />
<line x1="361.83" y1="201.65" x2="366.63" y2="201.65" stroke="#107512" stroke-width="1.6" />
<line x1="369.34" y1="200.67" x2="369.34" y2="202.50" stroke="#107512" stroke-width="1.3" />
<line x1="366.94" y1="202.50" x2="371.74" y2="202.50" stroke="#107512" stroke-width="1.6" />
<line x1="374.45" y1="200.63" x2="374.45" y2="202.47" stroke="#107512" stroke-width="1.3" />
<line x1="372.05" y1="202.47" x2="376.85" y2="202.47" stroke="#107512" stroke-width="1.6" />
<line x1="379.56" y1="200.05" x2="379.56" y2="201.88" stroke="#107512" stroke-width="1.3" />
<line x1="377.16" y1="201.88" x2="381.96" y2="201.88" stroke="#107512" stroke-width="1.6" />
<line x1="384.67" y1="200.42" x2="384.67" y2="202.25" stroke="#107512" stroke-width="1.3" />
<line x1="382.27" y1="202.25" x2="387.07" y2="202.25" stroke="#107512" stroke-width="1.6" />
<line x1="389.78" y1="198.98" x2="389.78" y2="200.81" stroke="#107512" stroke-width="1.3" />
<line x1="387.38" y1="200.81" x2="392.18" y2="200.81" stroke="#107512" stroke-width="1.6" />
<line x1="394.89" y1="200.08" x2="394.89" y2="201.92" stroke="#107512" stroke-width="1.3" />
<line x1="392.49" y1="201.92" x2="397.29" y2="201.92" stroke="#107512" stroke-width="1.6" />
<line x1="400.00" y1="198.07" x2="400.00" y2="199.91" stroke="#107512" stroke-width="1.3" />
<line x1="397.60" y1="199.91" x2="402.40" y2="199.91" stroke="#107512" stroke-width="1.6" />
<line x1="405.11" y1="128.60" x2="405.11" y2="138.69" stroke="#107512" stroke-width="1.3" />
<line x1="402.71" y1="138.69" x2="407.51" y2="138.69" stroke="#107512" stroke-width="1.6" />
<line x1="410.22" y1="157.23" x2="410.22" y2="167.32" stroke="#107512" stroke-width="1.3" />
<line x1="407.82" y1="167.32" x2="412.62" y2="167.32" stroke="#107512" stroke-width="1.6" />
<line x1="415.33" y1="163.35" x2="415.33" y2="173.44" stroke="#107512" stroke-width="1.3" />
<line x1="412.93" y1="173.44" x2="417.73" y2="173.44" stroke="#107512" stroke-width="1.6" />
<line x1="420.44" y1="161.66" x2="420.44" y2="171.75" stroke="#107512" stroke-width="1.3" />
<line x1="418.04" y1="171.75" x2="422.84" y2="171.75" stroke="#107512" stroke-width="1.6" />
<line x1="425.55" y1="162.57" x2="425.55" y2="172.66" stroke="#107512" stroke-width="1.3" />
<line x1="423.15" y1="172.66" x2="427.95" y2="172.66" stroke="#107512" stroke-width="1.6" />
<line x1="430.66" y1="161.28" x2="430.66" y2="171.37" stroke="#107512" stroke-width="1.3" />
<line x1="428.26" y1="171.37" x2="433.06" y2="171.37" stroke="#107512" stroke-width="1.6" />
<line x1="435.77" y1="161.02" x2="435.77" y2="171.11" stroke="#107512" stroke-width="1.3" />
<line x1="433.37" y1="171.11" x2="438.17" y2="171.11" stroke="#107512" stroke-width="1.6" />
<line x1="440.88" y1="160.64" x2="440.88" y2="170.74" stroke="#107512" stroke-width="1.3" />
<line x1="438.48" y1="170.74" x2="443.28" y2="170.74" stroke="#107512" stroke-width="1.6" />
<line x1="445.99" y1="159.46" x2="445.99" y2="169.55" stroke="#107512" stroke-width="1.3" />
<line x1="443.59" y1="169.55" x2="448.39" y2="169.55" stroke="#107512" stroke-width="1.6" />
<line x1="451.10" y1="159.96" x2="451.10" y2="170.05" stroke="#107512" stroke-width="1.3" />
<line x1="448.70" y1="170.05" x2="453.50" y2="170.05" stroke="#107512" stroke-width="1.6" />
<line x1="456.21" y1="158.30" x2="456.21" y2="168.39" stroke="#107512" stroke-width="1.3" />
<line x1="453.81" y1="168.39" x2="458.61" y2="168.39" stroke="#107512" stroke-width="1.6" />
<line x1="461.32" y1="159.69" x2="461.32" y2="169.78" stroke="#107512" stroke-width="1.3" />
<line x1="458.92" y1="169.78" x2="463.72" y2="169.78" stroke="#107512" stroke-width="1.6" />
<line x1="466.43" y1="157.63" x2="466.43" y2="167.73" stroke="#107512" stroke-width="1.3" />
<line x1="464.03" y1="167.73" x2="468.83" y2="167.73" stroke="#107512" stroke-width="1.6" />
<line x1="471.54" y1="159.01" x2="471.54" y2="169.10" stroke="#107512" stroke-width="1.3" />
<line x1="469.14" y1="169.10" x2="473.94" y2="169.10" stroke="#107512" stroke-width="1.6" />
<line x1="476.65" y1="156.68" x2="476.65" y2="166.77" stroke="#107512" stroke-width="1.3" />
<line x1="474.25" y1="166.77" x2="479.05" y2="166.77" stroke="#107512" stroke-width="1.6" />
<line x1="481.76" y1="157.58" x2="481.76" y2="167.67" stroke="#107512" stroke-width="1.3" />
<line x1="479.36" y1="167.67" x2="484.16" y2="167.67" stroke="#107512" stroke-width="1.6" />
<line x1="486.87" y1="155.77" x2="486.87" y2="165.86" stroke="#107512" stroke-width="1.3" />
<line x1="484.47" y1="165.86" x2="489.27" y2="165.86" stroke="#107512" stroke-width="1.6" />
<line x1="491.98" y1="155.97" x2="491.98" y2="166.06" stroke="#107512" stroke-width="1.3" />
<line x1="489.58" y1="166.06" x2="494.38" y2="166.06" stroke="#107512" stroke-width="1.6" />
<line x1="497.09" y1="154.99" x2="497.09" y2="165.08" stroke="#107512" stroke-width="1.3" />
<line x1="494.69" y1="165.08" x2="499.49" y2="165.08" stroke="#107512" stroke-width="1.6" />
<line x1="502.20" y1="154.70" x2="502.20" y2="164.79" stroke="#107512" stroke-width="1.3" />
<line x1="499.80" y1="164.79" x2="504.60" y2="164.79" stroke="#107512" stroke-width="1.6" />
<line x1="507.31" y1="155.49" x2="507.31" y2="165.58" stroke="#107512" stroke-width="1.3" />
<line x1="504.91" y1="165.58" x2="509.71" y2="165.58" stroke="#107512" stroke-width="1.6" />
<line x1="512.42" y1="154.73" x2="512.42" y2="164.82" stroke="#107512" stroke-width="1.3" />
<line x1="510.02" y1="164.82" x2="514.82" y2="164.82" stroke="#107512" stroke-width="1.6" />
<line x1="517.53" y1="156.30" x2="517.53" y2="166.40" stroke="#107512" stroke-width="1.3" />
<line x1="515.13" y1="166.40" x2="519.93" y2="166.40" stroke="#107512" stroke-width="1.6" />
<line x1="522.64" y1="154.57" x2="522.64" y2="164.66" stroke="#107512" stroke-width="1.3" />
<line x1="520.24" y1="164.66" x2="525.04" y2="164.66" stroke="#107512" stroke-width="1.6" />
<line x1="527.75" y1="155.86" x2="527.75" y2="165.95" stroke="#107512" stroke-width="1.3" />
<line x1="525.35" y1="165.95" x2="530.15" y2="165.95" stroke="#107512" stroke-width="1.6" />
<line x1="532.86" y1="153.56" x2="532.86" y2="163.66" stroke="#107512" stroke-width="1.3" />
<line x1="530.46" y1="163.66" x2="535.26" y2="163.66" stroke="#107512" stroke-width="1.6" />
<line x1="537.97" y1="154.82" x2="537.97" y2="164.92" stroke="#107512" stroke-width="1.3" />
<line x1="535.57" y1="164.92" x2="540.37" y2="164.92" stroke="#107512" stroke-width="1.6" />
<line x1="543.08" y1="152.80" x2="543.08" y2="162.89" stroke="#107512" stroke-width="1.3" />
<line x1="540.68" y1="162.89" x2="545.48" y2="162.89" stroke="#107512" stroke-width="1.6" />
<line x1="548.19" y1="153.57" x2="548.19" y2="163.66" stroke="#107512" stroke-width="1.3" />
<line x1="545.79" y1="163.66" x2="550.59" y2="163.66" stroke="#107512" stroke-width="1.6" />
<line x1="553.30" y1="152.21" x2="553.30" y2="162.31" stroke="#107512" stroke-width="1.3" />
<line x1="550.90" y1="162.31" x2="555.70" y2="162.31" stroke="#107512" stroke-width="1.6" />
<circle cx="354.01" cy="199.11" r="5.60" fill="#0a0af0" stroke="#107512" stroke-width="3.3"/>
<circle cx="359.12" cy="200.71" r="5.60" fill="#0a0af0" stroke="#107512" stroke-width="3.3"/>
<circle cx="364.23" cy="199.81" r="5.60" fill="#0a0af0" stroke="#107512" stroke-width="3.3"/>
<circle cx="369.34" cy="200.67" r="5.60" fill="#0a0af0" stroke="#107512" stroke-width="3.3"/>
<circle cx="374.45" cy="200.63" r="5.60" fill="#0a0af0" stroke="#107512" stroke-width="3.3"/>
<circle cx="379.56" cy="200.05" r="5.60" fill="#0a0af0" stroke="#107512" stroke-width="3.3"/>
<circle cx="384.67" cy="200.42" r="5.60" fill="#0a0af0" stroke="#107512" stroke-width="3.3"/>
<circle cx="389.78" cy="198.98" r="5.60" fill="#0a0af0" stroke="#107512" stroke-width="3.3"/>
<circle cx="394.89" cy="200.08" r="5.60" fill="#0a0af0" stroke="#107512" stroke-width="3.3"/>
<circle cx="400.00" cy="198.07" r="5.60" fill="#0a0af0" stroke="#107512" stroke-width="3.3"/>
<circle cx="405.11" cy="128.60" r="5.60" fill="#0a0af0" stroke="#107512" stroke-width="2.0"/>
<circle cx="410.22" cy="157.23" r="5.60" fill="#0a0af0" stroke="#107512" stroke-width="2.0"/>
<circle cx="415.33" cy="163.35" r="5.60" fill="#0a0af0" stroke="#107512" stroke-width="2.0"/>
<circle cx="420.44" cy="161.66" r="5.60" fill="#0a0af0" stroke="#107512" stroke-width="2.0"/>
<circle cx="425.55" cy="162.57" r="5.60" fill="#0a0af0" stroke="#107512" stroke-width="2.0"/>
<circle cx="430.66" cy="161.28" r="5.60" fill="#0a0af0" stroke="#107512" stroke-width="2.0"/>
<circle cx="435.77" cy="161.02" r="5.60" fill="#0a0af0" stroke="#107512" stroke-width="2.0"/>
<circle cx="440.88" cy="160.64" r="5.60" fill="#0a0af0" stroke="#107512" stroke-width="2.0"/>
<circle cx="445.99" cy="159.46" r="5.60" fill="#0a0af0" stroke="#107512" stroke-width="2.0"/>
<circle cx="451.10" cy="159.96" r="5.60" fill="#0a0af0" stroke="#107512" stroke-width="2.0"/>
<circle cx="456.21" cy="158.30" r="5.60" fill="#0a0af0" stroke="#107512" stroke-width="2.0"/>
<circle cx="461.32" cy="159.69" r="5.60" fill="#0a0af0" stroke="#107512" stroke-width="2.0"/>
<circle cx="466.43" cy="157.63" r="5.60" fill="#0a0af0" stroke="#107512" stroke-width="2.0"/>
<circle cx="471.54" cy="159.01" r="5.60" fill="#0a0af0" stroke="#107512" stroke-width="2.0"/>
<circle cx="476.65" cy="156.68" r="5.60" fill="#0a0af0" stroke="#107512" stroke-width="2.0"/>
<circle cx="481.76" cy="157.58" r="5.60" fill="#0a0af0" stroke="#107512" stroke-width="2.0"/>
<circle cx="486.87" cy="155.77" r="5.60" fill="#0a0af0" stroke="#107512" stroke-width="2.0"/>
<circle cx="491.98" cy="155.97" r="5.60" fill="#0a0af0" stroke="#107512" stroke-width="2.0"/>
<circle cx="497.09" cy="154.99" r="5.60" fill="#0a0af0" stroke="#107512" stroke-width="2.0"/>
<circle cx="502.20" cy="154.70" r="5.60" fill="#0a0af0" stroke="#107512" stroke-width="2.0"/>
<circle cx="507.31" cy="155.49" r="5.60" fill="#0a0af0" stroke="#107512" stroke-width="2.0"/>
<circle cx="512.42" cy="154.73" r="5.60" fill="#0a0af0" stroke="#107512" stroke-width="2.0"/>
<circle cx="517.53" cy="156.30" r="5.60" fill="#0a0af0" stroke="#107512" stroke-width="2.0"/>
<circle cx="522.64" cy="154.57" r="5.60" fill="#0a0af0" stroke="#107512" stroke-width="2.0"/>
<circle cx="527.75" cy="155.86" r="5.60" fill="#0a0af0" stroke="#107512" stroke-width="2.0"/>
<circle cx="532.86" cy="153.56" r="5.60" fill="#0a0af0" stroke="#107512" stroke-width="2.0"/>
<circle cx="537.97" cy="154.82" r="5.60" fill="#0a0af0" stroke="#107512" stroke-width="2.0"/>
<circle cx="543.08" cy="152.80" r="5.60" fill="#0a0af0" stroke="#107512" stroke-width="2.0"/>
<circle cx="548.19" cy="153.57" r="5.60" fill="#0a0af0" stroke="#107512" stroke-width="2.0"/>
<circle cx="553.30" cy="152.21" r="5.60" fill="#0a0af0" stroke="#107512" stroke-width="2.0"/>
<line x1="348.90" y1="62.40" x2="348.90" y2="247.40" stroke="#000" stroke-width="1.8" />
<line x1="348.00" y1="246.50" x2="567.30" y2="246.50" stroke="#000" stroke-width="2.0" />
<line x1="345.10" y1="246.50" x2="348.90" y2="246.50" stroke="#000" stroke-width="1.6" />
<text x="342.10" y="251.50" font-size="16.00" fill="#0a0a0a" text-anchor="end" textLength="17.40" lengthAdjust="spacingAndGlyphs"  stroke="#0a0a0a" stroke-width="0.25">50</text>
<line x1="346.70" y1="223.56" x2="348.90" y2="223.56" stroke="#000" stroke-width="1.4" />
<line x1="345.10" y1="200.62" x2="348.90" y2="200.62" stroke="#000" stroke-width="1.6" />
<text x="342.10" y="205.62" font-size="16.00" fill="#0a0a0a" text-anchor="end" textLength="26.30" lengthAdjust="spacingAndGlyphs"  stroke="#0a0a0a" stroke-width="0.25">100</text>
<line x1="346.70" y1="177.69" x2="348.90" y2="177.69" stroke="#000" stroke-width="1.4" />
<line x1="345.10" y1="154.75" x2="348.90" y2="154.75" stroke="#000" stroke-width="1.6" />
<text x="342.10" y="159.75" font-size="16.00" fill="#0a0a0a" text-anchor="end" textLength="26.30" lengthAdjust="spacingAndGlyphs"  stroke="#0a0a0a" stroke-width="0.25">150</text>
<line x1="346.70" y1="131.81" x2="348.90" y2="131.81" stroke="#000" stroke-width="1.4" />
<line x1="345.10" y1="108.88" x2="348.90" y2="108.88" stroke="#000" stroke-width="1.6" />
<text x="342.10" y="113.88" font-size="16.00" fill="#0a0a0a" text-anchor="end" textLength="26.30" lengthAdjust="spacingAndGlyphs"  stroke="#0a0a0a" stroke-width="0.25">200</text>
<line x1="346.70" y1="85.94" x2="348.90" y2="85.94" stroke="#000" stroke-width="1.4" />
<line x1="345.10" y1="63.00" x2="348.90" y2="63.00" stroke="#000" stroke-width="1.6" />
<text x="342.10" y="68.00" font-size="16.00" fill="#0a0a0a" text-anchor="end" textLength="26.30" lengthAdjust="spacingAndGlyphs"  stroke="#0a0a0a" stroke-width="0.25">250</text>
<line x1="348.90" y1="246.50" x2="348.90" y2="250.30" stroke="#000" stroke-width="1.6" />
<text x="348.60" y="264.70" font-size="16.00" fill="#0a0a0a" text-anchor="middle" textLength="8.40" lengthAdjust="spacingAndGlyphs"  stroke="#0a0a0a" stroke-width="0.25">0</text>
<line x1="374.45" y1="246.50" x2="374.45" y2="248.90" stroke="#000" stroke-width="1.4" />
<line x1="400.00" y1="246.50" x2="400.00" y2="250.30" stroke="#000" stroke-width="1.6" />
<text x="399.70" y="264.70" font-size="16.00" fill="#0a0a0a" text-anchor="middle" textLength="18.00" lengthAdjust="spacingAndGlyphs"  stroke="#0a0a0a" stroke-width="0.25">20</text>
<line x1="425.55" y1="246.50" x2="425.55" y2="248.90" stroke="#000" stroke-width="1.4" />
<line x1="451.10" y1="246.50" x2="451.10" y2="250.30" stroke="#000" stroke-width="1.6" />
<text x="450.80" y="264.70" font-size="16.00" fill="#0a0a0a" text-anchor="middle" textLength="18.00" lengthAdjust="spacingAndGlyphs"  stroke="#0a0a0a" stroke-width="0.25">40</text>
<line x1="476.65" y1="246.50" x2="476.65" y2="248.90" stroke="#000" stroke-width="1.4" />
<line x1="502.20" y1="246.50" x2="502.20" y2="250.30" stroke="#000" stroke-width="1.6" />
<text x="501.90" y="264.70" font-size="16.00" fill="#0a0a0a" text-anchor="middle" textLength="18.00" lengthAdjust="spacingAndGlyphs"  stroke="#0a0a0a" stroke-width="0.25">60</text>
<line x1="527.75" y1="246.50" x2="527.75" y2="248.90" stroke="#000" stroke-width="1.4" />
<line x1="553.30" y1="246.50" x2="553.30" y2="250.30" stroke="#000" stroke-width="1.6" />
<text x="553.00" y="264.70" font-size="16.00" fill="#0a0a0a" text-anchor="middle" textLength="18.00" lengthAdjust="spacingAndGlyphs"  stroke="#0a0a0a" stroke-width="0.25">80</text>
<line x1="351.00" y1="200.62" x2="567.80" y2="200.62" stroke="#000" stroke-width="1.8" stroke-dasharray="8.60 9.10"/>
<path d="M403.30,208.10 L399.80,220.60 L406.80,220.60 Z" fill="#000"/>
<line x1="403.30" y1="219.60" x2="403.30" y2="227.50" stroke="#000" stroke-width="1.8" />
<text x="389.70" y="242.10" font-size="14.80" fill="#0a0a0a" text-anchor="start" textLength="29.00" lengthAdjust="spacingAndGlyphs"  stroke="#0a0a0a" stroke-width="0.25">HFS</text>
<line x1="352.00" y1="50.60" x2="388.80" y2="50.60" stroke="#107512" stroke-width="1.7" />
<circle cx="370.40" cy="50.60" r="5.60" fill="#a9a9a9" stroke="#107512" stroke-width="1.9"/>
<text x="392.80" y="56.30" font-size="15.50" fill="#256a2a" text-anchor="start" textLength="30.10" lengthAdjust="spacingAndGlyphs"  stroke="#256a2a" stroke-width="0.25">CTL</text>
<text x="430.00" y="56.30" font-size="15.50" fill="#0a0a0a" text-anchor="start" textLength="32.20" lengthAdjust="spacingAndGlyphs"  stroke="#0a0a0a" stroke-width="0.25">Dark</text>
<line x1="352.00" y1="71.30" x2="388.80" y2="71.30" stroke="#107512" stroke-width="1.7" />
<circle cx="370.40" cy="71.30" r="5.60" fill="#0a0af0" stroke="#107512" stroke-width="1.9"/>
<text x="392.80" y="77.00" font-size="15.50" fill="#256a2a" text-anchor="start" textLength="30.10" lengthAdjust="spacingAndGlyphs"  stroke="#256a2a" stroke-width="0.25">CTL</text>
<text x="430.00" y="77.00" font-size="15.50" fill="#2a2aa6" text-anchor="start" textLength="34.50" lengthAdjust="spacingAndGlyphs"  stroke="#2a2aa6" stroke-width="0.25">Light</text>
<text x="1.30" y="318.40" font-size="25.00" fill="#000" text-anchor="start" textLength="13.00" lengthAdjust="spacingAndGlyphs" stroke="#000" stroke-width="0.3">c</text>
<text x="0" y="0" font-size="19.5" fill="#0a0a0a" stroke="#0a0a0a" stroke-width="0.25" text-anchor="middle" textLength="207.60" lengthAdjust="spacingAndGlyphs" transform="translate(19.50,445.60) rotate(-90)">fEPSP (% of baseline)</text>
<text x="130.00" y="575.70" font-size="14.50" fill="#1a1a1a" text-anchor="start" textLength="82.20" lengthAdjust="spacingAndGlyphs"  stroke="#1a1a1a" stroke-width="0.25">Time ( min )</text>
<circle cx="63.77" cy="488.98" r="5.90" fill="#a9a9a9" stroke="#1a4c8e" stroke-width="2.5"/>
<circle cx="69.04" cy="490.56" r="5.90" fill="#a9a9a9" stroke="#1a4c8e" stroke-width="2.5"/>
<circle cx="74.31" cy="488.51" r="5.90" fill="#a9a9a9" stroke="#1a4c8e" stroke-width="2.5"/>
<circle cx="79.58" cy="490.16" r="5.90" fill="#a9a9a9" stroke="#1a4c8e" stroke-width="2.5"/>
<circle cx="84.85" cy="488.28" r="5.90" fill="#a9a9a9" stroke="#1a4c8e" stroke-width="2.5"/>
<circle cx="90.12" cy="489.42" r="5.90" fill="#a9a9a9" stroke="#1a4c8e" stroke-width="2.5"/>
<circle cx="95.39" cy="488.07" r="5.90" fill="#a9a9a9" stroke="#1a4c8e" stroke-width="2.5"/>
<circle cx="100.66" cy="488.42" r="5.90" fill="#a9a9a9" stroke="#1a4c8e" stroke-width="2.5"/>
<circle cx="105.93" cy="487.98" r="5.90" fill="#a9a9a9" stroke="#1a4c8e" stroke-width="2.5"/>
<circle cx="111.20" cy="487.38" r="5.90" fill="#a9a9a9" stroke="#1a4c8e" stroke-width="2.5"/>
<circle cx="116.47" cy="458.39" r="5.90" fill="#a9a9a9" stroke="#1a4c8e" stroke-width="2.5"/>
<circle cx="121.74" cy="475.86" r="5.90" fill="#a9a9a9" stroke="#1a4c8e" stroke-width="2.5"/>
<circle cx="127.01" cy="477.63" r="5.90" fill="#a9a9a9" stroke="#1a4c8e" stroke-width="2.5"/>
<circle cx="132.28" cy="472.58" r="5.90" fill="#a9a9a9" stroke="#1a4c8e" stroke-width="2.5"/>
<circle cx="137.55" cy="473.02" r="5.90" fill="#a9a9a9" stroke="#1a4c8e" stroke-width="2.5"/>
<circle cx="142.82" cy="469.76" r="5.90" fill="#a9a9a9" stroke="#1a4c8e" stroke-width="2.5"/>
<circle cx="148.09" cy="471.44" r="5.90" fill="#a9a9a9" stroke="#1a4c8e" stroke-width="2.5"/>
<circle cx="153.36" cy="469.94" r="5.90" fill="#a9a9a9" stroke="#1a4c8e" stroke-width="2.5"/>
<circle cx="158.63" cy="471.03" r="5.90" fill="#a9a9a9" stroke="#1a4c8e" stroke-width="2.5"/>
<circle cx="163.90" cy="470.29" r="5.90" fill="#a9a9a9" stroke="#1a4c8e" stroke-width="2.5"/>
<circle cx="169.17" cy="470.49" r="5.90" fill="#a9a9a9" stroke="#1a4c8e" stroke-width="2.5"/>
<circle cx="174.44" cy="470.70" r="5.90" fill="#a9a9a9" stroke="#1a4c8e" stroke-width="2.5"/>
<circle cx="179.71" cy="469.96" r="5.90" fill="#a9a9a9" stroke="#1a4c8e" stroke-width="2.5"/>
<circle cx="184.98" cy="471.06" r="5.90" fill="#a9a9a9" stroke="#1a4c8e" stroke-width="2.5"/>
<circle cx="190.25" cy="469.55" r="5.90" fill="#a9a9a9" stroke="#1a4c8e" stroke-width="2.5"/>
<circle cx="195.52" cy="471.23" r="5.90" fill="#a9a9a9" stroke="#1a4c8e" stroke-width="2.5"/>
<circle cx="200.79" cy="469.35" r="5.90" fill="#a9a9a9" stroke="#1a4c8e" stroke-width="2.5"/>
<circle cx="206.06" cy="471.18" r="5.90" fill="#a9a9a9" stroke="#1a4c8e" stroke-width="2.5"/>
<circle cx="211.33" cy="469.40" r="5.90" fill="#a9a9a9" stroke="#1a4c8e" stroke-width="2.5"/>
<circle cx="216.60" cy="470.88" r="5.90" fill="#a9a9a9" stroke="#1a4c8e" stroke-width="2.5"/>
<circle cx="221.87" cy="469.88" r="5.90" fill="#a9a9a9" stroke="#1a4c8e" stroke-width="2.5"/>
<circle cx="227.14" cy="470.85" r="5.90" fill="#a9a9a9" stroke="#1a4c8e" stroke-width="2.5"/>
<circle cx="232.41" cy="470.72" r="5.90" fill="#a9a9a9" stroke="#1a4c8e" stroke-width="2.5"/>
<circle cx="237.68" cy="470.74" r="5.90" fill="#a9a9a9" stroke="#1a4c8e" stroke-width="2.5"/>
<circle cx="242.95" cy="471.57" r="5.90" fill="#a9a9a9" stroke="#1a4c8e" stroke-width="2.5"/>
<circle cx="248.22" cy="470.69" r="5.90" fill="#a9a9a9" stroke="#1a4c8e" stroke-width="2.5"/>
<circle cx="253.49" cy="472.31" r="5.90" fill="#a9a9a9" stroke="#1a4c8e" stroke-width="2.5"/>
<circle cx="258.76" cy="470.81" r="5.90" fill="#a9a9a9" stroke="#1a4c8e" stroke-width="2.5"/>
<circle cx="264.03" cy="472.83" r="5.90" fill="#a9a9a9" stroke="#1a4c8e" stroke-width="2.5"/>
<circle cx="269.30" cy="471.15" r="5.90" fill="#a9a9a9" stroke="#1a4c8e" stroke-width="2.5"/>
<line x1="63.77" y1="488.98" x2="63.77" y2="487.09" stroke="#1a4c8e" stroke-width="1.3" />
<line x1="61.37" y1="487.09" x2="66.17" y2="487.09" stroke="#1a4c8e" stroke-width="1.6" />
<line x1="69.04" y1="490.56" x2="69.04" y2="488.68" stroke="#1a4c8e" stroke-width="1.3" />
<line x1="66.64" y1="488.68" x2="71.44" y2="488.68" stroke="#1a4c8e" stroke-width="1.6" />
<line x1="74.31" y1="488.51" x2="74.31" y2="486.62" stroke="#1a4c8e" stroke-width="1.3" />
<line x1="71.91" y1="486.62" x2="76.71" y2="486.62" stroke="#1a4c8e" stroke-width="1.6" />
<line x1="79.58" y1="490.16" x2="79.58" y2="488.27" stroke="#1a4c8e" stroke-width="1.3" />
<line x1="77.18" y1="488.27" x2="81.98" y2="488.27" stroke="#1a4c8e" stroke-width="1.6" />
<line x1="84.85" y1="488.28" x2="84.85" y2="486.39" stroke="#1a4c8e" stroke-width="1.3" />
<line x1="82.45" y1="486.39" x2="87.25" y2="486.39" stroke="#1a4c8e" stroke-width="1.6" />
<line x1="90.12" y1="489.42" x2="90.12" y2="487.53" stroke="#1a4c8e" stroke-width="1.3" />
<line x1="87.72" y1="487.53" x2="92.52" y2="487.53" stroke="#1a4c8e" stroke-width="1.6" />
<line x1="95.39" y1="488.07" x2="95.39" y2="486.19" stroke="#1a4c8e" stroke-width="1.3" />
<line x1="92.99" y1="486.19" x2="97.79" y2="486.19" stroke="#1a4c8e" stroke-width="1.6" />
<line x1="100.66" y1="488.42" x2="100.66" y2="486.54" stroke="#1a4c8e" stroke-width="1.3" />
<line x1="98.26" y1="486.54" x2="103.06" y2="486.54" stroke="#1a4c8e" stroke-width="1.6" />
<line x1="105.93" y1="487.98" x2="105.93" y2="486.09" stroke="#1a4c8e" stroke-width="1.3" />
<line x1="103.53" y1="486.09" x2="108.33" y2="486.09" stroke="#1a4c8e" stroke-width="1.6" />
<line x1="111.20" y1="487.38" x2="111.20" y2="485.49" stroke="#1a4c8e" stroke-width="1.3" />
<line x1="108.80" y1="485.49" x2="113.60" y2="485.49" stroke="#1a4c8e" stroke-width="1.6" />
<line x1="116.47" y1="458.39" x2="116.47" y2="456.50" stroke="#1a4c8e" stroke-width="1.3" />
<line x1="114.07" y1="456.50" x2="118.87" y2="456.50" stroke="#1a4c8e" stroke-width="1.6" />
<line x1="121.74" y1="475.86" x2="121.74" y2="473.97" stroke="#1a4c8e" stroke-width="1.3" />
<line x1="119.34" y1="473.97" x2="124.14" y2="473.97" stroke="#1a4c8e" stroke-width="1.6" />
<line x1="127.01" y1="477.63" x2="127.01" y2="475.74" stroke="#1a4c8e" stroke-width="1.3" />
<line x1="124.61" y1="475.74" x2="129.41" y2="475.74" stroke="#1a4c8e" stroke-width="1.6" />
<line x1="132.28" y1="472.58" x2="132.28" y2="470.69" stroke="#1a4c8e" stroke-width="1.3" />
<line x1="129.88" y1="470.69" x2="134.68" y2="470.69" stroke="#1a4c8e" stroke-width="1.6" />
<line x1="137.55" y1="473.02" x2="137.55" y2="471.14" stroke="#1a4c8e" stroke-width="1.3" />
<line x1="135.15" y1="471.14" x2="139.95" y2="471.14" stroke="#1a4c8e" stroke-width="1.6" />
<line x1="142.82" y1="469.76" x2="142.82" y2="467.87" stroke="#1a4c8e" stroke-width="1.3" />
<line x1="140.42" y1="467.87" x2="145.22" y2="467.87" stroke="#1a4c8e" stroke-width="1.6" />
<line x1="148.09" y1="471.44" x2="148.09" y2="469.55" stroke="#1a4c8e" stroke-width="1.3" />
<line x1="145.69" y1="469.55" x2="150.49" y2="469.55" stroke="#1a4c8e" stroke-width="1.6" />
<line x1="153.36" y1="469.94" x2="153.36" y2="468.05" stroke="#1a4c8e" stroke-width="1.3" />
<line x1="150.96" y1="468.05" x2="155.76" y2="468.05" stroke="#1a4c8e" stroke-width="1.6" />
<line x1="158.63" y1="471.03" x2="158.63" y2="469.14" stroke="#1a4c8e" stroke-width="1.3" />
<line x1="156.23" y1="469.14" x2="161.03" y2="469.14" stroke="#1a4c8e" stroke-width="1.6" />
<line x1="163.90" y1="470.29" x2="163.90" y2="468.40" stroke="#1a4c8e" stroke-width="1.3" />
<line x1="161.50" y1="468.40" x2="166.30" y2="468.40" stroke="#1a4c8e" stroke-width="1.6" />
<line x1="169.17" y1="470.49" x2="169.17" y2="468.61" stroke="#1a4c8e" stroke-width="1.3" />
<line x1="166.77" y1="468.61" x2="171.57" y2="468.61" stroke="#1a4c8e" stroke-width="1.6" />
<line x1="174.44" y1="470.70" x2="174.44" y2="468.82" stroke="#1a4c8e" stroke-width="1.3" />
<line x1="172.04" y1="468.82" x2="176.84" y2="468.82" stroke="#1a4c8e" stroke-width="1.6" />
<line x1="179.71" y1="469.96" x2="179.71" y2="468.07" stroke="#1a4c8e" stroke-width="1.3" />
<line x1="177.31" y1="468.07" x2="182.11" y2="468.07" stroke="#1a4c8e" stroke-width="1.6" />
<line x1="184.98" y1="471.06" x2="184.98" y2="469.17" stroke="#1a4c8e" stroke-width="1.3" />
<line x1="182.58" y1="469.17" x2="187.38" y2="469.17" stroke="#1a4c8e" stroke-width="1.6" />
<line x1="190.25" y1="469.55" x2="190.25" y2="467.66" stroke="#1a4c8e" stroke-width="1.3" />
<line x1="187.85" y1="467.66" x2="192.65" y2="467.66" stroke="#1a4c8e" stroke-width="1.6" />
<line x1="195.52" y1="471.23" x2="195.52" y2="469.35" stroke="#1a4c8e" stroke-width="1.3" />
<line x1="193.12" y1="469.35" x2="197.92" y2="469.35" stroke="#1a4c8e" stroke-width="1.6" />
<line x1="200.79" y1="469.35" x2="200.79" y2="467.46" stroke="#1a4c8e" stroke-width="1.3" />
<line x1="198.39" y1="467.46" x2="203.19" y2="467.46" stroke="#1a4c8e" stroke-width="1.6" />
<line x1="206.06" y1="471.18" x2="206.06" y2="469.29" stroke="#1a4c8e" stroke-width="1.3" />
<line x1="203.66" y1="469.29" x2="208.46" y2="469.29" stroke="#1a4c8e" stroke-width="1.6" />
<line x1="211.33" y1="469.40" x2="211.33" y2="467.51" stroke="#1a4c8e" stroke-width="1.3" />
<line x1="208.93" y1="467.51" x2="213.73" y2="467.51" stroke="#1a4c8e" stroke-width="1.6" />
<line x1="216.60" y1="470.88" x2="216.60" y2="468.99" stroke="#1a4c8e" stroke-width="1.3" />
<line x1="214.20" y1="468.99" x2="219.00" y2="468.99" stroke="#1a4c8e" stroke-width="1.6" />
<line x1="221.87" y1="469.88" x2="221.87" y2="467.99" stroke="#1a4c8e" stroke-width="1.3" />
<line x1="219.47" y1="467.99" x2="224.27" y2="467.99" stroke="#1a4c8e" stroke-width="1.6" />
<line x1="227.14" y1="470.85" x2="227.14" y2="468.96" stroke="#1a4c8e" stroke-width="1.3" />
<line x1="224.74" y1="468.96" x2="229.54" y2="468.96" stroke="#1a4c8e" stroke-width="1.6" />
<line x1="232.41" y1="470.72" x2="232.41" y2="468.83" stroke="#1a4c8e" stroke-width="1.3" />
<line x1="230.01" y1="468.83" x2="234.81" y2="468.83" stroke="#1a4c8e" stroke-width="1.6" />
<line x1="237.68" y1="470.74" x2="237.68" y2="468.85" stroke="#1a4c8e" stroke-width="1.3" />
<line x1="235.28" y1="468.85" x2="240.08" y2="468.85" stroke="#1a4c8e" stroke-width="1.6" />
<line x1="242.95" y1="471.57" x2="242.95" y2="469.68" stroke="#1a4c8e" stroke-width="1.3" />
<line x1="240.55" y1="469.68" x2="245.35" y2="469.68" stroke="#1a4c8e" stroke-width="1.6" />
<line x1="248.22" y1="470.69" x2="248.22" y2="468.80" stroke="#1a4c8e" stroke-width="1.3" />
<line x1="245.82" y1="468.80" x2="250.62" y2="468.80" stroke="#1a4c8e" stroke-width="1.6" />
<line x1="253.49" y1="472.31" x2="253.49" y2="470.42" stroke="#1a4c8e" stroke-width="1.3" />
<line x1="251.09" y1="470.42" x2="255.89" y2="470.42" stroke="#1a4c8e" stroke-width="1.6" />
<line x1="258.76" y1="470.81" x2="258.76" y2="468.92" stroke="#1a4c8e" stroke-width="1.3" />
<line x1="256.36" y1="468.92" x2="261.16" y2="468.92" stroke="#1a4c8e" stroke-width="1.6" />
<line x1="264.03" y1="472.83" x2="264.03" y2="470.95" stroke="#1a4c8e" stroke-width="1.3" />
<line x1="261.63" y1="470.95" x2="266.43" y2="470.95" stroke="#1a4c8e" stroke-width="1.6" />
<line x1="269.30" y1="471.15" x2="269.30" y2="469.27" stroke="#1a4c8e" stroke-width="1.3" />
<line x1="266.90" y1="469.27" x2="271.70" y2="469.27" stroke="#1a4c8e" stroke-width="1.6" />
<line x1="63.77" y1="488.98" x2="63.77" y2="490.87" stroke="#1a4c8e" stroke-width="1.3" />
<line x1="61.37" y1="490.87" x2="66.17" y2="490.87" stroke="#1a4c8e" stroke-width="1.6" />
<line x1="69.04" y1="490.56" x2="69.04" y2="492.45" stroke="#1a4c8e" stroke-width="1.3" />
<line x1="66.64" y1="492.45" x2="71.44" y2="492.45" stroke="#1a4c8e" stroke-width="1.6" />
<line x1="74.31" y1="488.51" x2="74.31" y2="490.40" stroke="#1a4c8e" stroke-width="1.3" />
<line x1="71.91" y1="490.40" x2="76.71" y2="490.40" stroke="#1a4c8e" stroke-width="1.6" />
<line x1="79.58" y1="490.16" x2="79.58" y2="492.04" stroke="#1a4c8e" stroke-width="1.3" />
<line x1="77.18" y1="492.04" x2="81.98" y2="492.04" stroke="#1a4c8e" stroke-width="1.6" />
<line x1="84.85" y1="488.28" x2="84.85" y2="490.17" stroke="#1a4c8e" stroke-width="1.3" />
<line x1="82.45" y1="490.17" x2="87.25" y2="490.17" stroke="#1a4c8e" stroke-width="1.6" />
<line x1="90.12" y1="489.42" x2="90.12" y2="491.31" stroke="#1a4c8e" stroke-width="1.3" />
<line x1="87.72" y1="491.31" x2="92.52" y2="491.31" stroke="#1a4c8e" stroke-width="1.6" />
<line x1="95.39" y1="488.07" x2="95.39" y2="489.96" stroke="#1a4c8e" stroke-width="1.3" />
<line x1="92.99" y1="489.96" x2="97.79" y2="489.96" stroke="#1a4c8e" stroke-width="1.6" />
<line x1="100.66" y1="488.42" x2="100.66" y2="490.31" stroke="#1a4c8e" stroke-width="1.3" />
<line x1="98.26" y1="490.31" x2="103.06" y2="490.31" stroke="#1a4c8e" stroke-width="1.6" />
<line x1="105.93" y1="487.98" x2="105.93" y2="489.87" stroke="#1a4c8e" stroke-width="1.3" />
<line x1="103.53" y1="489.87" x2="108.33" y2="489.87" stroke="#1a4c8e" stroke-width="1.6" />
<line x1="111.20" y1="487.38" x2="111.20" y2="489.26" stroke="#1a4c8e" stroke-width="1.3" />
<line x1="108.80" y1="489.26" x2="113.60" y2="489.26" stroke="#1a4c8e" stroke-width="1.6" />
<line x1="116.47" y1="458.39" x2="116.47" y2="461.22" stroke="#1a4c8e" stroke-width="1.3" />
<line x1="114.07" y1="461.22" x2="118.87" y2="461.22" stroke="#1a4c8e" stroke-width="1.6" />
<line x1="121.74" y1="475.86" x2="121.74" y2="483.41" stroke="#1a4c8e" stroke-width="1.3" />
<line x1="119.34" y1="483.41" x2="124.14" y2="483.41" stroke="#1a4c8e" stroke-width="1.6" />
<line x1="127.01" y1="477.63" x2="127.01" y2="486.13" stroke="#1a4c8e" stroke-width="1.3" />
<line x1="124.61" y1="486.13" x2="129.41" y2="486.13" stroke="#1a4c8e" stroke-width="1.6" />
<line x1="132.28" y1="472.58" x2="132.28" y2="481.11" stroke="#1a4c8e" stroke-width="1.3" />
<line x1="129.88" y1="481.11" x2="134.68" y2="481.11" stroke="#1a4c8e" stroke-width="1.6" />
<line x1="137.55" y1="473.02" x2="137.55" y2="481.59" stroke="#1a4c8e" stroke-width="1.3" />
<line x1="135.15" y1="481.59" x2="139.95" y2="481.59" stroke="#1a4c8e" stroke-width="1.6" />
<line x1="142.82" y1="469.76" x2="142.82" y2="478.36" stroke="#1a4c8e" stroke-width="1.3" />
<line x1="140.42" y1="478.36" x2="145.22" y2="478.36" stroke="#1a4c8e" stroke-width="1.6" />
<line x1="148.09" y1="471.44" x2="148.09" y2="480.08" stroke="#1a4c8e" stroke-width="1.3" />
<line x1="145.69" y1="480.08" x2="150.49" y2="480.08" stroke="#1a4c8e" stroke-width="1.6" />
<line x1="153.36" y1="469.94" x2="153.36" y2="478.61" stroke="#1a4c8e" stroke-width="1.3" />
<line x1="150.96" y1="478.61" x2="155.76" y2="478.61" stroke="#1a4c8e" stroke-width="1.6" />
<line x1="158.63" y1="471.03" x2="158.63" y2="479.73" stroke="#1a4c8e" stroke-width="1.3" />
<line x1="156.23" y1="479.73" x2="161.03" y2="479.73" stroke="#1a4c8e" stroke-width="1.6" />
<line x1="163.90" y1="470.29" x2="163.90" y2="479.03" stroke="#1a4c8e" stroke-width="1.3" />
<line x1="161.50" y1="479.03" x2="166.30" y2="479.03" stroke="#1a4c8e" stroke-width="1.6" />
<line x1="169.17" y1="470.49" x2="169.17" y2="479.27" stroke="#1a4c8e" stroke-width="1.3" />
<line x1="166.77" y1="479.27" x2="171.57" y2="479.27" stroke="#1a4c8e" stroke-width="1.6" />
<line x1="174.44" y1="470.70" x2="174.44" y2="479.52" stroke="#1a4c8e" stroke-width="1.3" />
<line x1="172.04" y1="479.52" x2="176.84" y2="479.52" stroke="#1a4c8e" stroke-width="1.6" />
<line x1="179.71" y1="469.96" x2="179.71" y2="478.81" stroke="#1a4c8e" stroke-width="1.3" />
<line x1="177.31" y1="478.81" x2="182.11" y2="478.81" stroke="#1a4c8e" stroke-width="1.6" />
<line x1="184.98" y1="471.06" x2="184.98" y2="479.94" stroke="#1a4c8e" stroke-width="1.3" />
<line x1="182.58" y1="479.94" x2="187.38" y2="479.94" stroke="#1a4c8e" stroke-width="1.6" />
<line x1="190.25" y1="469.55" x2="190.25" y2="478.46" stroke="#1a4c8e" stroke-width="1.3" />
<line x1="187.85" y1="478.46" x2="192.65" y2="478.46" stroke="#1a4c8e" stroke-width="1.6" />
<line x1="195.52" y1="471.23" x2="195.52" y2="480.19" stroke="#1a4c8e" stroke-width="1.3" />
<line x1="193.12" y1="480.19" x2="197.92" y2="480.19" stroke="#1a4c8e" stroke-width="1.6" />
<line x1="200.79" y1="469.35" x2="200.79" y2="478.33" stroke="#1a4c8e" stroke-width="1.3" />
<line x1="198.39" y1="478.33" x2="203.19" y2="478.33" stroke="#1a4c8e" stroke-width="1.6" />
<line x1="206.06" y1="471.18" x2="206.06" y2="480.20" stroke="#1a4c8e" stroke-width="1.3" />
<line x1="203.66" y1="480.20" x2="208.46" y2="480.20" stroke="#1a4c8e" stroke-width="1.6" />
<line x1="211.33" y1="469.40" x2="211.33" y2="478.45" stroke="#1a4c8e" stroke-width="1.3" />
<line x1="208.93" y1="478.45" x2="213.73" y2="478.45" stroke="#1a4c8e" stroke-width="1.6" />
<line x1="216.60" y1="470.88" x2="216.60" y2="479.97" stroke="#1a4c8e" stroke-width="1.3" />
<line x1="214.20" y1="479.97" x2="219.00" y2="479.97" stroke="#1a4c8e" stroke-width="1.6" />
<line x1="221.87" y1="469.88" x2="221.87" y2="479.01" stroke="#1a4c8e" stroke-width="1.3" />
<line x1="219.47" y1="479.01" x2="224.27" y2="479.01" stroke="#1a4c8e" stroke-width="1.6" />
<line x1="227.14" y1="470.85" x2="227.14" y2="480.01" stroke="#1a4c8e" stroke-width="1.3" />
<line x1="224.74" y1="480.01" x2="229.54" y2="480.01" stroke="#1a4c8e" stroke-width="1.6" />
<line x1="232.41" y1="470.72" x2="232.41" y2="479.92" stroke="#1a4c8e" stroke-width="1.3" />
<line x1="230.01" y1="479.92" x2="234.81" y2="479.92" stroke="#1a4c8e" stroke-width="1.6" />
<line x1="237.68" y1="470.74" x2="237.68" y2="479.97" stroke="#1a4c8e" stroke-width="1.3" />
<line x1="235.28" y1="479.97" x2="240.08" y2="479.97" stroke="#1a4c8e" stroke-width="1.6" />
<line x1="242.95" y1="471.57" x2="242.95" y2="480.84" stroke="#1a4c8e" stroke-width="1.3" />
<line x1="240.55" y1="480.84" x2="245.35" y2="480.84" stroke="#1a4c8e" stroke-width="1.6" />
<line x1="248.22" y1="470.69" x2="248.22" y2="479.99" stroke="#1a4c8e" stroke-width="1.3" />
<line x1="245.82" y1="479.99" x2="250.62" y2="479.99" stroke="#1a4c8e" stroke-width="1.6" />
<line x1="253.49" y1="472.31" x2="253.49" y2="481.64" stroke="#1a4c8e" stroke-width="1.3" />
<line x1="251.09" y1="481.64" x2="255.89" y2="481.64" stroke="#1a4c8e" stroke-width="1.6" />
<line x1="258.76" y1="470.81" x2="258.76" y2="480.18" stroke="#1a4c8e" stroke-width="1.3" />
<line x1="256.36" y1="480.18" x2="261.16" y2="480.18" stroke="#1a4c8e" stroke-width="1.6" />
<line x1="264.03" y1="472.83" x2="264.03" y2="482.24" stroke="#1a4c8e" stroke-width="1.3" />
<line x1="261.63" y1="482.24" x2="266.43" y2="482.24" stroke="#1a4c8e" stroke-width="1.6" />
<line x1="269.30" y1="471.15" x2="269.30" y2="480.59" stroke="#1a4c8e" stroke-width="1.3" />
<line x1="266.90" y1="480.59" x2="271.70" y2="480.59" stroke="#1a4c8e" stroke-width="1.6" />
<line x1="63.77" y1="488.56" x2="63.77" y2="486.67" stroke="#1a4c8e" stroke-width="1.3" />
<line x1="61.37" y1="486.67" x2="66.17" y2="486.67" stroke="#1a4c8e" stroke-width="1.6" />
<line x1="69.04" y1="489.58" x2="69.04" y2="487.69" stroke="#1a4c8e" stroke-width="1.3" />
<line x1="66.64" y1="487.69" x2="71.44" y2="487.69" stroke="#1a4c8e" stroke-width="1.6" />
<line x1="74.31" y1="488.53" x2="74.31" y2="486.65" stroke="#1a4c8e" stroke-width="1.3" />
<line x1="71.91" y1="486.65" x2="76.71" y2="486.65" stroke="#1a4c8e" stroke-width="1.6" />
<line x1="79.58" y1="488.94" x2="79.58" y2="487.05" stroke="#1a4c8e" stroke-width="1.3" />
<line x1="77.18" y1="487.05" x2="81.98" y2="487.05" stroke="#1a4c8e" stroke-width="1.6" />
<line x1="84.85" y1="488.61" x2="84.85" y2="486.72" stroke="#1a4c8e" stroke-width="1.3" />
<line x1="82.45" y1="486.72" x2="87.25" y2="486.72" stroke="#1a4c8e" stroke-width="1.6" />
<line x1="90.12" y1="488.12" x2="90.12" y2="486.23" stroke="#1a4c8e" stroke-width="1.3" />
<line x1="87.72" y1="486.23" x2="92.52" y2="486.23" stroke="#1a4c8e" stroke-width="1.6" />
<line x1="95.39" y1="488.41" x2="95.39" y2="486.52" stroke="#1a4c8e" stroke-width="1.3" />
<line x1="92.99" y1="486.52" x2="97.79" y2="486.52" stroke="#1a4c8e" stroke-width="1.6" />
<line x1="100.66" y1="487.22" x2="100.66" y2="485.33" stroke="#1a4c8e" stroke-width="1.3" />
<line x1="98.26" y1="485.33" x2="103.06" y2="485.33" stroke="#1a4c8e" stroke-width="1.6" />
<line x1="105.93" y1="488.12" x2="105.93" y2="486.23" stroke="#1a4c8e" stroke-width="1.3" />
<line x1="103.53" y1="486.23" x2="108.33" y2="486.23" stroke="#1a4c8e" stroke-width="1.6" />
<line x1="111.20" y1="486.46" x2="111.20" y2="484.57" stroke="#1a4c8e" stroke-width="1.3" />
<line x1="108.80" y1="484.57" x2="113.60" y2="484.57" stroke="#1a4c8e" stroke-width="1.6" />
<line x1="116.47" y1="446.59" x2="116.47" y2="443.76" stroke="#1a4c8e" stroke-width="1.3" />
<line x1="114.07" y1="443.76" x2="118.87" y2="443.76" stroke="#1a4c8e" stroke-width="1.6" />
<line x1="121.74" y1="465.00" x2="121.74" y2="462.15" stroke="#1a4c8e" stroke-width="1.3" />
<line x1="119.34" y1="462.15" x2="124.14" y2="462.15" stroke="#1a4c8e" stroke-width="1.6" />
<line x1="127.01" y1="468.49" x2="127.01" y2="465.63" stroke="#1a4c8e" stroke-width="1.3" />
<line x1="124.61" y1="465.63" x2="129.41" y2="465.63" stroke="#1a4c8e" stroke-width="1.6" />
<line x1="132.28" y1="467.05" x2="132.28" y2="464.17" stroke="#1a4c8e" stroke-width="1.3" />
<line x1="129.88" y1="464.17" x2="134.68" y2="464.17" stroke="#1a4c8e" stroke-width="1.6" />
<line x1="137.55" y1="467.75" x2="137.55" y2="464.86" stroke="#1a4c8e" stroke-width="1.3" />
<line x1="135.15" y1="464.86" x2="139.95" y2="464.86" stroke="#1a4c8e" stroke-width="1.6" />
<line x1="142.82" y1="467.19" x2="142.82" y2="464.28" stroke="#1a4c8e" stroke-width="1.3" />
<line x1="140.42" y1="464.28" x2="145.22" y2="464.28" stroke="#1a4c8e" stroke-width="1.6" />
<line x1="148.09" y1="467.48" x2="148.09" y2="464.55" stroke="#1a4c8e" stroke-width="1.3" />
<line x1="145.69" y1="464.55" x2="150.49" y2="464.55" stroke="#1a4c8e" stroke-width="1.6" />
<line x1="153.36" y1="467.67" x2="153.36" y2="464.73" stroke="#1a4c8e" stroke-width="1.3" />
<line x1="150.96" y1="464.73" x2="155.76" y2="464.73" stroke="#1a4c8e" stroke-width="1.6" />
<line x1="158.63" y1="467.20" x2="158.63" y2="464.23" stroke="#1a4c8e" stroke-width="1.3" />
<line x1="156.23" y1="464.23" x2="161.03" y2="464.23" stroke="#1a4c8e" stroke-width="1.6" />
<line x1="163.90" y1="468.11" x2="163.90" y2="465.13" stroke="#1a4c8e" stroke-width="1.3" />
<line x1="161.50" y1="465.13" x2="166.30" y2="465.13" stroke="#1a4c8e" stroke-width="1.6" />
<line x1="169.17" y1="467.01" x2="169.17" y2="464.01" stroke="#1a4c8e" stroke-width="1.3" />
<line x1="166.77" y1="464.01" x2="171.57" y2="464.01" stroke="#1a4c8e" stroke-width="1.6" />
<line x1="174.44" y1="468.41" x2="174.44" y2="465.40" stroke="#1a4c8e" stroke-width="1.3" />
<line x1="172.04" y1="465.40" x2="176.84" y2="465.40" stroke="#1a4c8e" stroke-width="1.6" />
<line x1="179.71" y1="466.98" x2="179.71" y2="463.96" stroke="#1a4c8e" stroke-width="1.3" />
<line x1="177.31" y1="463.96" x2="182.11" y2="463.96" stroke="#1a4c8e" stroke-width="1.6" />
<line x1="184.98" y1="468.52" x2="184.98" y2="465.48" stroke="#1a4c8e" stroke-width="1.3" />
<line x1="182.58" y1="465.48" x2="187.38" y2="465.48" stroke="#1a4c8e" stroke-width="1.6" />
<line x1="190.25" y1="467.16" x2="190.25" y2="464.10" stroke="#1a4c8e" stroke-width="1.3" />
<line x1="187.85" y1="464.10" x2="192.65" y2="464.10" stroke="#1a4c8e" stroke-width="1.6" />
<line x1="195.52" y1="468.46" x2="195.52" y2="465.39" stroke="#1a4c8e" stroke-width="1.3" />
<line x1="193.12" y1="465.39" x2="197.92" y2="465.39" stroke="#1a4c8e" stroke-width="1.6" />
<line x1="200.79" y1="467.54" x2="200.79" y2="464.45" stroke="#1a4c8e" stroke-width="1.3" />
<line x1="198.39" y1="464.45" x2="203.19" y2="464.45" stroke="#1a4c8e" stroke-width="1.6" />
<line x1="206.06" y1="468.27" x2="206.06" y2="465.16" stroke="#1a4c8e" stroke-width="1.3" />
<line x1="203.66" y1="465.16" x2="208.46" y2="465.16" stroke="#1a4c8e" stroke-width="1.6" />
<line x1="211.33" y1="468.03" x2="211.33" y2="464.90" stroke="#1a4c8e" stroke-width="1.3" />
<line x1="208.93" y1="464.90" x2="213.73" y2="464.90" stroke="#1a4c8e" stroke-width="1.6" />
<line x1="216.60" y1="468.01" x2="216.60" y2="464.87" stroke="#1a4c8e" stroke-width="1.3" />
<line x1="214.20" y1="464.87" x2="219.00" y2="464.87" stroke="#1a4c8e" stroke-width="1.6" />
<line x1="221.87" y1="468.53" x2="221.87" y2="465.38" stroke="#1a4c8e" stroke-width="1.3" />
<line x1="219.47" y1="465.38" x2="224.27" y2="465.38" stroke="#1a4c8e" stroke-width="1.6" />
<line x1="227.14" y1="467.78" x2="227.14" y2="464.61" stroke="#1a4c8e" stroke-width="1.3" />
<line x1="224.74" y1="464.61" x2="229.54" y2="464.61" stroke="#1a4c8e" stroke-width="1.6" />
<line x1="232.41" y1="468.95" x2="232.41" y2="465.76" stroke="#1a4c8e" stroke-width="1.3" />
<line x1="230.01" y1="465.76" x2="234.81" y2="465.76" stroke="#1a4c8e" stroke-width="1.6" />
<line x1="237.68" y1="467.69" x2="237.68" y2="464.48" stroke="#1a4c8e" stroke-width="1.3" />
<line x1="235.28" y1="464.48" x2="240.08" y2="464.48" stroke="#1a4c8e" stroke-width="1.6" />
<line x1="242.95" y1="469.21" x2="242.95" y2="465.99" stroke="#1a4c8e" stroke-width="1.3" />
<line x1="240.55" y1="465.99" x2="245.35" y2="465.99" stroke="#1a4c8e" stroke-width="1.6" />
<line x1="248.22" y1="467.78" x2="248.22" y2="464.54" stroke="#1a4c8e" stroke-width="1.3" />
<line x1="245.82" y1="464.54" x2="250.62" y2="464.54" stroke="#1a4c8e" stroke-width="1.6" />
<line x1="253.49" y1="469.28" x2="253.49" y2="466.02" stroke="#1a4c8e" stroke-width="1.3" />
<line x1="251.09" y1="466.02" x2="255.89" y2="466.02" stroke="#1a4c8e" stroke-width="1.6" />
<line x1="258.76" y1="468.06" x2="258.76" y2="464.79" stroke="#1a4c8e" stroke-width="1.3" />
<line x1="256.36" y1="464.79" x2="261.16" y2="464.79" stroke="#1a4c8e" stroke-width="1.6" />
<line x1="264.03" y1="469.16" x2="264.03" y2="465.87" stroke="#1a4c8e" stroke-width="1.3" />
<line x1="261.63" y1="465.87" x2="266.43" y2="465.87" stroke="#1a4c8e" stroke-width="1.6" />
<line x1="269.30" y1="468.50" x2="269.30" y2="465.20" stroke="#1a4c8e" stroke-width="1.3" />
<line x1="266.90" y1="465.20" x2="271.70" y2="465.20" stroke="#1a4c8e" stroke-width="1.6" />
<line x1="63.77" y1="488.56" x2="63.77" y2="490.48" stroke="#1a4c8e" stroke-width="1.3" />
<line x1="61.37" y1="490.48" x2="66.17" y2="490.48" stroke="#1a4c8e" stroke-width="1.6" />
<line x1="69.04" y1="489.58" x2="69.04" y2="491.54" stroke="#1a4c8e" stroke-width="1.3" />
<line x1="66.64" y1="491.54" x2="71.44" y2="491.54" stroke="#1a4c8e" stroke-width="1.6" />
<line x1="74.31" y1="488.53" x2="74.31" y2="490.53" stroke="#1a4c8e" stroke-width="1.3" />
<line x1="71.91" y1="490.53" x2="76.71" y2="490.53" stroke="#1a4c8e" stroke-width="1.6" />
<line x1="79.58" y1="488.94" x2="79.58" y2="490.97" stroke="#1a4c8e" stroke-width="1.3" />
<line x1="77.18" y1="490.97" x2="81.98" y2="490.97" stroke="#1a4c8e" stroke-width="1.6" />
<line x1="84.85" y1="488.61" x2="84.85" y2="490.67" stroke="#1a4c8e" stroke-width="1.3" />
<line x1="82.45" y1="490.67" x2="87.25" y2="490.67" stroke="#1a4c8e" stroke-width="1.6" />
<line x1="90.12" y1="488.12" x2="90.12" y2="490.22" stroke="#1a4c8e" stroke-width="1.3" />
<line x1="87.72" y1="490.22" x2="92.52" y2="490.22" stroke="#1a4c8e" stroke-width="1.6" />
<line x1="95.39" y1="488.41" x2="95.39" y2="490.55" stroke="#1a4c8e" stroke-width="1.3" />
<line x1="92.99" y1="490.55" x2="97.79" y2="490.55" stroke="#1a4c8e" stroke-width="1.6" />
<line x1="100.66" y1="487.22" x2="100.66" y2="489.39" stroke="#1a4c8e" stroke-width="1.3" />
<line x1="98.26" y1="489.39" x2="103.06" y2="489.39" stroke="#1a4c8e" stroke-width="1.6" />
<line x1="105.93" y1="488.12" x2="105.93" y2="490.33" stroke="#1a4c8e" stroke-width="1.3" />
<line x1="103.53" y1="490.33" x2="108.33" y2="490.33" stroke="#1a4c8e" stroke-width="1.6" />
<line x1="111.20" y1="486.46" x2="111.20" y2="488.70" stroke="#1a4c8e" stroke-width="1.3" />
<line x1="108.80" y1="488.70" x2="113.60" y2="488.70" stroke="#1a4c8e" stroke-width="1.6" />
<line x1="116.47" y1="446.59" x2="116.47" y2="448.87" stroke="#1a4c8e" stroke-width="1.3" />
<line x1="114.07" y1="448.87" x2="118.87" y2="448.87" stroke="#1a4c8e" stroke-width="1.6" />
<line x1="121.74" y1="465.00" x2="121.74" y2="467.31" stroke="#1a4c8e" stroke-width="1.3" />
<line x1="119.34" y1="467.31" x2="124.14" y2="467.31" stroke="#1a4c8e" stroke-width="1.6" />
<line x1="127.01" y1="468.49" x2="127.01" y2="470.84" stroke="#1a4c8e" stroke-width="1.3" />
<line x1="124.61" y1="470.84" x2="129.41" y2="470.84" stroke="#1a4c8e" stroke-width="1.6" />
<line x1="132.28" y1="467.05" x2="132.28" y2="469.43" stroke="#1a4c8e" stroke-width="1.3" />
<line x1="129.88" y1="469.43" x2="134.68" y2="469.43" stroke="#1a4c8e" stroke-width="1.6" />
<line x1="137.55" y1="467.75" x2="137.55" y2="470.17" stroke="#1a4c8e" stroke-width="1.3" />
<line x1="135.15" y1="470.17" x2="139.95" y2="470.17" stroke="#1a4c8e" stroke-width="1.6" />
<line x1="142.82" y1="467.19" x2="142.82" y2="469.65" stroke="#1a4c8e" stroke-width="1.3" />
<line x1="140.42" y1="469.65" x2="145.22" y2="469.65" stroke="#1a4c8e" stroke-width="1.6" />
<line x1="148.09" y1="467.48" x2="148.09" y2="469.97" stroke="#1a4c8e" stroke-width="1.3" />
<line x1="145.69" y1="469.97" x2="150.49" y2="469.97" stroke="#1a4c8e" stroke-width="1.6" />
<line x1="153.36" y1="467.67" x2="153.36" y2="470.20" stroke="#1a4c8e" stroke-width="1.3" />
<line x1="150.96" y1="470.20" x2="155.76" y2="470.20" stroke="#1a4c8e" stroke-width="1.6" />
<line x1="158.63" y1="467.20" x2="158.63" y2="469.76" stroke="#1a4c8e" stroke-width="1.3" />
<line x1="156.23" y1="469.76" x2="161.03" y2="469.76" stroke="#1a4c8e" stroke-width="1.6" />
<line x1="163.90" y1="468.11" x2="163.90" y2="470.70" stroke="#1a4c8e" stroke-width="1.3" />
<line x1="161.50" y1="470.70" x2="166.30" y2="470.70" stroke="#1a4c8e" stroke-width="1.6" />
<line x1="169.17" y1="467.01" x2="169.17" y2="469.64" stroke="#1a4c8e" stroke-width="1.3" />
<line x1="166.77" y1="469.64" x2="171.57" y2="469.64" stroke="#1a4c8e" stroke-width="1.6" />
<line x1="174.44" y1="468.41" x2="174.44" y2="471.08" stroke="#1a4c8e" stroke-width="1.3" />
<line x1="172.04" y1="471.08" x2="176.84" y2="471.08" stroke="#1a4c8e" stroke-width="1.6" />
<line x1="179.71" y1="466.98" x2="179.71" y2="469.69" stroke="#1a4c8e" stroke-width="1.3" />
<line x1="177.31" y1="469.69" x2="182.11" y2="469.69" stroke="#1a4c8e" stroke-width="1.6" />
<line x1="184.98" y1="468.52" x2="184.98" y2="471.26" stroke="#1a4c8e" stroke-width="1.3" />
<line x1="182.58" y1="471.26" x2="187.38" y2="471.26" stroke="#1a4c8e" stroke-width="1.6" />
<line x1="190.25" y1="467.16" x2="190.25" y2="469.93" stroke="#1a4c8e" stroke-width="1.3" />
<line x1="187.85" y1="469.93" x2="192.65" y2="469.93" stroke="#1a4c8e" stroke-width="1.6" />
<line x1="195.52" y1="468.46" x2="195.52" y2="471.27" stroke="#1a4c8e" stroke-width="1.3" />
<line x1="193.12" y1="471.27" x2="197.92" y2="471.27" stroke="#1a4c8e" stroke-width="1.6" />
<line x1="200.79" y1="467.54" x2="200.79" y2="470.38" stroke="#1a4c8e" stroke-width="1.3" />
<line x1="198.39" y1="470.38" x2="203.19" y2="470.38" stroke="#1a4c8e" stroke-width="1.6" />
<line x1="206.06" y1="468.27" x2="206.06" y2="471.15" stroke="#1a4c8e" stroke-width="1.3" />
<line x1="203.66" y1="471.15" x2="208.46" y2="471.15" stroke="#1a4c8e" stroke-width="1.6" />
<line x1="211.33" y1="468.03" x2="211.33" y2="470.94" stroke="#1a4c8e" stroke-width="1.3" />
<line x1="208.93" y1="470.94" x2="213.73" y2="470.94" stroke="#1a4c8e" stroke-width="1.6" />
<line x1="216.60" y1="468.01" x2="216.60" y2="470.96" stroke="#1a4c8e" stroke-width="1.3" />
<line x1="214.20" y1="470.96" x2="219.00" y2="470.96" stroke="#1a4c8e" stroke-width="1.6" />
<line x1="221.87" y1="468.53" x2="221.87" y2="471.52" stroke="#1a4c8e" stroke-width="1.3" />
<line x1="219.47" y1="471.52" x2="224.27" y2="471.52" stroke="#1a4c8e" stroke-width="1.6" />
<line x1="227.14" y1="467.78" x2="227.14" y2="470.81" stroke="#1a4c8e" stroke-width="1.3" />
<line x1="224.74" y1="470.81" x2="229.54" y2="470.81" stroke="#1a4c8e" stroke-width="1.6" />
<line x1="232.41" y1="468.95" x2="232.41" y2="472.01" stroke="#1a4c8e" stroke-width="1.3" />
<line x1="230.01" y1="472.01" x2="234.81" y2="472.01" stroke="#1a4c8e" stroke-width="1.6" />
<line x1="237.68" y1="467.69" x2="237.68" y2="470.78" stroke="#1a4c8e" stroke-width="1.3" />
<line x1="235.28" y1="470.78" x2="240.08" y2="470.78" stroke="#1a4c8e" stroke-width="1.6" />
<line x1="242.95" y1="469.21" x2="242.95" y2="472.34" stroke="#1a4c8e" stroke-width="1.3" />
<line x1="240.55" y1="472.34" x2="245.35" y2="472.34" stroke="#1a4c8e" stroke-width="1.6" />
<line x1="248.22" y1="467.78" x2="248.22" y2="470.94" stroke="#1a4c8e" stroke-width="1.3" />
<line x1="245.82" y1="470.94" x2="250.62" y2="470.94" stroke="#1a4c8e" stroke-width="1.6" />
<line x1="253.49" y1="469.28" x2="253.49" y2="472.47" stroke="#1a4c8e" stroke-width="1.3" />
<line x1="251.09" y1="472.47" x2="255.89" y2="472.47" stroke="#1a4c8e" stroke-width="1.6" />
<line x1="258.76" y1="468.06" x2="258.76" y2="471.30" stroke="#1a4c8e" stroke-width="1.3" />
<line x1="256.36" y1="471.30" x2="261.16" y2="471.30" stroke="#1a4c8e" stroke-width="1.6" />
<line x1="264.03" y1="469.16" x2="264.03" y2="472.43" stroke="#1a4c8e" stroke-width="1.3" />
<line x1="261.63" y1="472.43" x2="266.43" y2="472.43" stroke="#1a4c8e" stroke-width="1.6" />
<line x1="269.30" y1="468.50" x2="269.30" y2="471.81" stroke="#1a4c8e" stroke-width="1.3" />
<line x1="266.90" y1="471.81" x2="271.70" y2="471.81" stroke="#1a4c8e" stroke-width="1.6" />
<circle cx="63.77" cy="488.56" r="5.90" fill="#0a0af0" stroke="#1a4c8e" stroke-width="2.5"/>
<circle cx="69.04" cy="489.58" r="5.90" fill="#0a0af0" stroke="#1a4c8e" stroke-width="2.5"/>
<circle cx="74.31" cy="488.53" r="5.90" fill="#0a0af0" stroke="#1a4c8e" stroke-width="2.5"/>
<circle cx="79.58" cy="488.94" r="5.90" fill="#0a0af0" stroke="#1a4c8e" stroke-width="2.5"/>
<circle cx="84.85" cy="488.61" r="5.90" fill="#0a0af0" stroke="#1a4c8e" stroke-width="2.5"/>
<circle cx="90.12" cy="488.12" r="5.90" fill="#0a0af0" stroke="#1a4c8e" stroke-width="2.5"/>
<circle cx="95.39" cy="488.41" r="5.90" fill="#0a0af0" stroke="#1a4c8e" stroke-width="2.5"/>
<circle cx="100.66" cy="487.22" r="5.90" fill="#0a0af0" stroke="#1a4c8e" stroke-width="2.5"/>
<circle cx="105.93" cy="488.12" r="5.90" fill="#0a0af0" stroke="#1a4c8e" stroke-width="2.5"/>
<circle cx="111.20" cy="486.46" r="5.90" fill="#0a0af0" stroke="#1a4c8e" stroke-width="2.5"/>
<circle cx="116.47" cy="446.59" r="5.90" fill="#0a0af0" stroke="#1a4c8e" stroke-width="2.5"/>
<circle cx="121.74" cy="465.00" r="5.90" fill="#0a0af0" stroke="#1a4c8e" stroke-width="2.5"/>
<circle cx="127.01" cy="468.49" r="5.90" fill="#0a0af0" stroke="#1a4c8e" stroke-width="2.5"/>
<circle cx="132.28" cy="467.05" r="5.90" fill="#0a0af0" stroke="#1a4c8e" stroke-width="2.5"/>
<circle cx="137.55" cy="467.75" r="5.90" fill="#0a0af0" stroke="#1a4c8e" stroke-width="2.5"/>
<circle cx="142.82" cy="467.19" r="5.90" fill="#0a0af0" stroke="#1a4c8e" stroke-width="2.5"/>
<circle cx="148.09" cy="467.48" r="5.90" fill="#0a0af0" stroke="#1a4c8e" stroke-width="2.5"/>
<circle cx="153.36" cy="467.67" r="5.90" fill="#0a0af0" stroke="#1a4c8e" stroke-width="2.5"/>
<circle cx="158.63" cy="467.20" r="5.90" fill="#0a0af0" stroke="#1a4c8e" stroke-width="2.5"/>
<circle cx="163.90" cy="468.11" r="5.90" fill="#0a0af0" stroke="#1a4c8e" stroke-width="2.5"/>
<circle cx="169.17" cy="467.01" r="5.90" fill="#0a0af0" stroke="#1a4c8e" stroke-width="2.5"/>
<circle cx="174.44" cy="468.41" r="5.90" fill="#0a0af0" stroke="#1a4c8e" stroke-width="2.5"/>
<circle cx="179.71" cy="466.98" r="5.90" fill="#0a0af0" stroke="#1a4c8e" stroke-width="2.5"/>
<circle cx="184.98" cy="468.52" r="5.90" fill="#0a0af0" stroke="#1a4c8e" stroke-width="2.5"/>
<circle cx="190.25" cy="467.16" r="5.90" fill="#0a0af0" stroke="#1a4c8e" stroke-width="2.5"/>
<circle cx="195.52" cy="468.46" r="5.90" fill="#0a0af0" stroke="#1a4c8e" stroke-width="2.5"/>
<circle cx="200.79" cy="467.54" r="5.90" fill="#0a0af0" stroke="#1a4c8e" stroke-width="2.5"/>
<circle cx="206.06" cy="468.27" r="5.90" fill="#0a0af0" stroke="#1a4c8e" stroke-width="2.5"/>
<circle cx="211.33" cy="468.03" r="5.90" fill="#0a0af0" stroke="#1a4c8e" stroke-width="2.5"/>
<circle cx="216.60" cy="468.01" r="5.90" fill="#0a0af0" stroke="#1a4c8e" stroke-width="2.5"/>
<circle cx="221.87" cy="468.53" r="5.90" fill="#0a0af0" stroke="#1a4c8e" stroke-width="2.5"/>
<circle cx="227.14" cy="467.78" r="5.90" fill="#0a0af0" stroke="#1a4c8e" stroke-width="2.5"/>
<circle cx="232.41" cy="468.95" r="5.90" fill="#0a0af0" stroke="#1a4c8e" stroke-width="2.5"/>
<circle cx="237.68" cy="467.69" r="5.90" fill="#0a0af0" stroke="#1a4c8e" stroke-width="2.5"/>
<circle cx="242.95" cy="469.21" r="5.90" fill="#0a0af0" stroke="#1a4c8e" stroke-width="2.5"/>
<circle cx="248.22" cy="467.78" r="5.90" fill="#0a0af0" stroke="#1a4c8e" stroke-width="2.5"/>
<circle cx="253.49" cy="469.28" r="5.90" fill="#0a0af0" stroke="#1a4c8e" stroke-width="2.5"/>
<circle cx="258.76" cy="468.06" r="5.90" fill="#0a0af0" stroke="#1a4c8e" stroke-width="2.5"/>
<circle cx="264.03" cy="469.16" r="5.90" fill="#0a0af0" stroke="#1a4c8e" stroke-width="2.5"/>
<circle cx="269.30" cy="468.50" r="5.90" fill="#0a0af0" stroke="#1a4c8e" stroke-width="2.5"/>
<line x1="58.50" y1="346.40" x2="58.50" y2="536.70" stroke="#000" stroke-width="1.8" />
<line x1="57.60" y1="535.80" x2="284.10" y2="535.80" stroke="#000" stroke-width="2.0" />
<line x1="54.70" y1="535.80" x2="58.50" y2="535.80" stroke="#000" stroke-width="1.6" />
<text x="51.70" y="540.80" font-size="16.00" fill="#0a0a0a" text-anchor="end" textLength="17.87" lengthAdjust="spacingAndGlyphs"  stroke="#0a0a0a" stroke-width="0.25">50</text>
<line x1="56.30" y1="512.20" x2="58.50" y2="512.20" stroke="#000" stroke-width="1.4" />
<line x1="54.70" y1="488.60" x2="58.50" y2="488.60" stroke="#000" stroke-width="1.6" />
<text x="51.70" y="493.60" font-size="16.00" fill="#0a0a0a" text-anchor="end" textLength="27.01" lengthAdjust="spacingAndGlyphs"  stroke="#0a0a0a" stroke-width="0.25">100</text>
<line x1="56.30" y1="465.00" x2="58.50" y2="465.00" stroke="#000" stroke-width="1.4" />
<line x1="54.70" y1="441.40" x2="58.50" y2="441.40" stroke="#000" stroke-width="1.6" />
<text x="51.70" y="446.40" font-size="16.00" fill="#0a0a0a" text-anchor="end" textLength="27.01" lengthAdjust="spacingAndGlyphs"  stroke="#0a0a0a" stroke-width="0.25">150</text>
<line x1="56.30" y1="417.80" x2="58.50" y2="417.80" stroke="#000" stroke-width="1.4" />
<line x1="54.70" y1="394.20" x2="58.50" y2="394.20" stroke="#000" stroke-width="1.6" />
<text x="51.70" y="399.20" font-size="16.00" fill="#0a0a0a" text-anchor="end" textLength="27.01" lengthAdjust="spacingAndGlyphs"  stroke="#0a0a0a" stroke-width="0.25">200</text>
<line x1="56.30" y1="370.60" x2="58.50" y2="370.60" stroke="#000" stroke-width="1.4" />
<line x1="54.70" y1="347.00" x2="58.50" y2="347.00" stroke="#000" stroke-width="1.6" />
<text x="51.70" y="352.00" font-size="16.00" fill="#0a0a0a" text-anchor="end" textLength="27.01" lengthAdjust="spacingAndGlyphs"  stroke="#0a0a0a" stroke-width="0.25">250</text>
<line x1="58.50" y1="535.80" x2="58.50" y2="539.60" stroke="#000" stroke-width="1.6" />
<text x="58.20" y="554.49" font-size="16.00" fill="#0a0a0a" text-anchor="middle" textLength="8.63" lengthAdjust="spacingAndGlyphs"  stroke="#0a0a0a" stroke-width="0.25">0</text>
<line x1="84.85" y1="535.80" x2="84.85" y2="538.20" stroke="#000" stroke-width="1.4" />
<line x1="111.20" y1="535.80" x2="111.20" y2="539.60" stroke="#000" stroke-width="1.6" />
<text x="110.90" y="554.49" font-size="16.00" fill="#0a0a0a" text-anchor="middle" textLength="18.49" lengthAdjust="spacingAndGlyphs"  stroke="#0a0a0a" stroke-width="0.25">20</text>
<line x1="137.55" y1="535.80" x2="137.55" y2="538.20" stroke="#000" stroke-width="1.4" />
<line x1="163.90" y1="535.80" x2="163.90" y2="539.60" stroke="#000" stroke-width="1.6" />
<text x="163.60" y="554.49" font-size="16.00" fill="#0a0a0a" text-anchor="middle" textLength="18.49" lengthAdjust="spacingAndGlyphs"  stroke="#0a0a0a" stroke-width="0.25">40</text>
<line x1="190.25" y1="535.80" x2="190.25" y2="538.20" stroke="#000" stroke-width="1.4" />
<line x1="216.60" y1="535.80" x2="216.60" y2="539.60" stroke="#000" stroke-width="1.6" />
<text x="216.30" y="554.49" font-size="16.00" fill="#0a0a0a" text-anchor="middle" textLength="18.49" lengthAdjust="spacingAndGlyphs"  stroke="#0a0a0a" stroke-width="0.25">60</text>
<line x1="242.95" y1="535.80" x2="242.95" y2="538.20" stroke="#000" stroke-width="1.4" />
<line x1="269.30" y1="535.80" x2="269.30" y2="539.60" stroke="#000" stroke-width="1.6" />
<text x="269.00" y="554.49" font-size="16.00" fill="#0a0a0a" text-anchor="middle" textLength="18.49" lengthAdjust="spacingAndGlyphs"  stroke="#0a0a0a" stroke-width="0.25">80</text>
<line x1="60.60" y1="488.60" x2="284.60" y2="488.60" stroke="#000" stroke-width="1.8" stroke-dasharray="8.83 9.35"/>
<path d="M114.80,496.40 L111.30,508.50 L118.30,508.50 Z" fill="#000"/>
<line x1="114.80" y1="507.50" x2="114.80" y2="515.80" stroke="#000" stroke-width="1.8" />
<text x="100.20" y="530.60" font-size="14.80" fill="#0a0a0a" text-anchor="start" textLength="29.00" lengthAdjust="spacingAndGlyphs"  stroke="#0a0a0a" stroke-width="0.25">HFS</text>
<line x1="61.10" y1="334.30" x2="99.70" y2="334.30" stroke="#1a4c8e" stroke-width="1.7" />
<circle cx="80.40" cy="334.30" r="5.75" fill="#a9a9a9" stroke="#1a4c8e" stroke-width="1.9"/>
<text x="103.70" y="340.95" font-size="15.92" fill="#2a5a8a" text-anchor="start" textLength="24.00" lengthAdjust="spacingAndGlyphs"  stroke="#2a5a8a" stroke-width="0.25">KO</text>
<text x="133.90" y="340.95" font-size="15.92" fill="#0a0a0a" text-anchor="start" textLength="33.40" lengthAdjust="spacingAndGlyphs"  stroke="#0a0a0a" stroke-width="0.25">Dark</text>
<line x1="61.10" y1="355.80" x2="99.70" y2="355.80" stroke="#1a4c8e" stroke-width="1.7" />
<circle cx="80.40" cy="355.80" r="5.75" fill="#0a0af0" stroke="#1a4c8e" stroke-width="1.9"/>
<text x="103.70" y="362.45" font-size="15.92" fill="#2a5a8a" text-anchor="start" textLength="24.00" lengthAdjust="spacingAndGlyphs"  stroke="#2a5a8a" stroke-width="0.25">KO</text>
<text x="133.90" y="362.45" font-size="15.92" fill="#2a2aa6" text-anchor="start" textLength="35.20" lengthAdjust="spacingAndGlyphs"  stroke="#2a2aa6" stroke-width="0.25">Light</text>
<text x="294.90" y="318.60" font-size="26.00" fill="#000" text-anchor="start" textLength="14.60" lengthAdjust="spacingAndGlyphs" stroke="#000" stroke-width="0.3">d</text>
<text x="0" y="0" font-size="19.5" fill="#0a0a0a" stroke="#0a0a0a" stroke-width="0.25" text-anchor="middle" textLength="208.00" lengthAdjust="spacingAndGlyphs" transform="translate(313.50,446.50) rotate(-90)">fEPSP (% of baseline)</text>
<text x="424.30" y="580.40" font-size="14.50" fill="#1a1a1a" text-anchor="start" textLength="82.30" lengthAdjust="spacingAndGlyphs"  stroke="#1a1a1a" stroke-width="0.25">Time ( min )</text>
<circle cx="357.28" cy="490.66" r="5.70" fill="#a9a9a9" stroke="#981349" stroke-width="3.2"/>
<circle cx="362.56" cy="492.22" r="5.70" fill="#a9a9a9" stroke="#981349" stroke-width="3.2"/>
<circle cx="367.84" cy="490.08" r="5.70" fill="#a9a9a9" stroke="#981349" stroke-width="3.2"/>
<circle cx="373.12" cy="491.71" r="5.70" fill="#a9a9a9" stroke="#981349" stroke-width="3.2"/>
<circle cx="378.40" cy="489.36" r="5.70" fill="#a9a9a9" stroke="#981349" stroke-width="3.2"/>
<circle cx="383.68" cy="490.16" r="5.70" fill="#a9a9a9" stroke="#981349" stroke-width="3.2"/>
<circle cx="388.96" cy="488.45" r="5.70" fill="#a9a9a9" stroke="#981349" stroke-width="3.2"/>
<circle cx="394.24" cy="488.77" r="5.70" fill="#a9a9a9" stroke="#981349" stroke-width="3.2"/>
<circle cx="399.52" cy="488.29" r="5.70" fill="#a9a9a9" stroke="#981349" stroke-width="3.2"/>
<circle cx="404.80" cy="487.65" r="5.70" fill="#a9a9a9" stroke="#981349" stroke-width="3.2"/>
<circle cx="410.08" cy="443.67" r="5.70" fill="#a9a9a9" stroke="#981349" stroke-width="2.6"/>
<circle cx="415.36" cy="460.21" r="5.70" fill="#a9a9a9" stroke="#981349" stroke-width="2.6"/>
<circle cx="420.64" cy="464.87" r="5.70" fill="#a9a9a9" stroke="#981349" stroke-width="2.6"/>
<circle cx="425.92" cy="463.34" r="5.70" fill="#a9a9a9" stroke="#981349" stroke-width="2.6"/>
<circle cx="431.20" cy="465.47" r="5.70" fill="#a9a9a9" stroke="#981349" stroke-width="2.6"/>
<circle cx="436.48" cy="463.69" r="5.70" fill="#a9a9a9" stroke="#981349" stroke-width="2.6"/>
<circle cx="441.76" cy="465.52" r="5.70" fill="#a9a9a9" stroke="#981349" stroke-width="2.6"/>
<circle cx="447.04" cy="464.13" r="5.70" fill="#a9a9a9" stroke="#981349" stroke-width="2.6"/>
<circle cx="452.32" cy="465.36" r="5.70" fill="#a9a9a9" stroke="#981349" stroke-width="2.6"/>
<circle cx="457.60" cy="464.75" r="5.70" fill="#a9a9a9" stroke="#981349" stroke-width="2.6"/>
<circle cx="462.88" cy="465.08" r="5.70" fill="#a9a9a9" stroke="#981349" stroke-width="2.6"/>
<circle cx="468.16" cy="465.43" r="5.70" fill="#a9a9a9" stroke="#981349" stroke-width="2.6"/>
<circle cx="473.44" cy="464.80" r="5.70" fill="#a9a9a9" stroke="#981349" stroke-width="2.6"/>
<circle cx="478.72" cy="466.04" r="5.70" fill="#a9a9a9" stroke="#981349" stroke-width="2.6"/>
<circle cx="484.00" cy="464.64" r="5.70" fill="#a9a9a9" stroke="#981349" stroke-width="2.6"/>
<circle cx="489.28" cy="466.29" r="5.70" fill="#a9a9a9" stroke="#981349" stroke-width="2.6"/>
<circle cx="494.56" cy="464.32" r="5.70" fill="#a9a9a9" stroke="#981349" stroke-width="2.6"/>
<circle cx="499.84" cy="466.11" r="5.70" fill="#a9a9a9" stroke="#981349" stroke-width="2.6"/>
<circle cx="505.12" cy="464.24" r="5.70" fill="#a9a9a9" stroke="#981349" stroke-width="2.6"/>
<circle cx="510.40" cy="465.68" r="5.70" fill="#a9a9a9" stroke="#981349" stroke-width="2.6"/>
<circle cx="515.68" cy="464.72" r="5.70" fill="#a9a9a9" stroke="#981349" stroke-width="2.6"/>
<circle cx="520.96" cy="465.75" r="5.70" fill="#a9a9a9" stroke="#981349" stroke-width="2.6"/>
<circle cx="526.24" cy="465.67" r="5.70" fill="#a9a9a9" stroke="#981349" stroke-width="2.6"/>
<circle cx="531.52" cy="465.74" r="5.70" fill="#a9a9a9" stroke="#981349" stroke-width="2.6"/>
<circle cx="536.80" cy="466.62" r="5.70" fill="#a9a9a9" stroke="#981349" stroke-width="2.6"/>
<circle cx="542.08" cy="465.78" r="5.70" fill="#a9a9a9" stroke="#981349" stroke-width="2.6"/>
<circle cx="547.36" cy="467.46" r="5.70" fill="#a9a9a9" stroke="#981349" stroke-width="2.6"/>
<circle cx="552.64" cy="465.99" r="5.70" fill="#a9a9a9" stroke="#981349" stroke-width="2.6"/>
<circle cx="557.92" cy="468.09" r="5.70" fill="#a9a9a9" stroke="#981349" stroke-width="2.6"/>
<circle cx="563.20" cy="466.44" r="5.70" fill="#a9a9a9" stroke="#981349" stroke-width="2.6"/>
<line x1="357.28" y1="490.66" x2="357.28" y2="488.75" stroke="#981349" stroke-width="1.3" />
<line x1="354.88" y1="488.75" x2="359.68" y2="488.75" stroke="#981349" stroke-width="1.6" />
<line x1="362.56" y1="492.22" x2="362.56" y2="490.30" stroke="#981349" stroke-width="1.3" />
<line x1="360.16" y1="490.30" x2="364.96" y2="490.30" stroke="#981349" stroke-width="1.6" />
<line x1="367.84" y1="490.08" x2="367.84" y2="488.17" stroke="#981349" stroke-width="1.3" />
<line x1="365.44" y1="488.17" x2="370.24" y2="488.17" stroke="#981349" stroke-width="1.6" />
<line x1="373.12" y1="491.71" x2="373.12" y2="489.80" stroke="#981349" stroke-width="1.3" />
<line x1="370.72" y1="489.80" x2="375.52" y2="489.80" stroke="#981349" stroke-width="1.6" />
<line x1="378.40" y1="489.36" x2="378.40" y2="487.45" stroke="#981349" stroke-width="1.3" />
<line x1="376.00" y1="487.45" x2="380.80" y2="487.45" stroke="#981349" stroke-width="1.6" />
<line x1="383.68" y1="490.16" x2="383.68" y2="488.25" stroke="#981349" stroke-width="1.3" />
<line x1="381.28" y1="488.25" x2="386.08" y2="488.25" stroke="#981349" stroke-width="1.6" />
<line x1="388.96" y1="488.45" x2="388.96" y2="486.54" stroke="#981349" stroke-width="1.3" />
<line x1="386.56" y1="486.54" x2="391.36" y2="486.54" stroke="#981349" stroke-width="1.6" />
<line x1="394.24" y1="488.77" x2="394.24" y2="486.86" stroke="#981349" stroke-width="1.3" />
<line x1="391.84" y1="486.86" x2="396.64" y2="486.86" stroke="#981349" stroke-width="1.6" />
<line x1="399.52" y1="488.29" x2="399.52" y2="486.38" stroke="#981349" stroke-width="1.3" />
<line x1="397.12" y1="486.38" x2="401.92" y2="486.38" stroke="#981349" stroke-width="1.6" />
<line x1="404.80" y1="487.65" x2="404.80" y2="485.74" stroke="#981349" stroke-width="1.3" />
<line x1="402.40" y1="485.74" x2="407.20" y2="485.74" stroke="#981349" stroke-width="1.6" />
<line x1="410.08" y1="443.67" x2="410.08" y2="433.15" stroke="#981349" stroke-width="1.3" />
<line x1="407.68" y1="433.15" x2="412.48" y2="433.15" stroke="#981349" stroke-width="1.6" />
<line x1="415.36" y1="460.21" x2="415.36" y2="456.38" stroke="#981349" stroke-width="1.3" />
<line x1="412.96" y1="456.38" x2="417.76" y2="456.38" stroke="#981349" stroke-width="1.6" />
<line x1="420.64" y1="464.87" x2="420.64" y2="461.05" stroke="#981349" stroke-width="1.3" />
<line x1="418.24" y1="461.05" x2="423.04" y2="461.05" stroke="#981349" stroke-width="1.6" />
<line x1="425.92" y1="463.34" x2="425.92" y2="459.52" stroke="#981349" stroke-width="1.3" />
<line x1="423.52" y1="459.52" x2="428.32" y2="459.52" stroke="#981349" stroke-width="1.6" />
<line x1="431.20" y1="465.47" x2="431.20" y2="461.64" stroke="#981349" stroke-width="1.3" />
<line x1="428.80" y1="461.64" x2="433.60" y2="461.64" stroke="#981349" stroke-width="1.6" />
<line x1="436.48" y1="463.69" x2="436.48" y2="459.86" stroke="#981349" stroke-width="1.3" />
<line x1="434.08" y1="459.86" x2="438.88" y2="459.86" stroke="#981349" stroke-width="1.6" />
<line x1="441.76" y1="465.52" x2="441.76" y2="461.70" stroke="#981349" stroke-width="1.3" />
<line x1="439.36" y1="461.70" x2="444.16" y2="461.70" stroke="#981349" stroke-width="1.6" />
<line x1="447.04" y1="464.13" x2="447.04" y2="460.30" stroke="#981349" stroke-width="1.3" />
<line x1="444.64" y1="460.30" x2="449.44" y2="460.30" stroke="#981349" stroke-width="1.6" />
<line x1="452.32" y1="465.36" x2="452.32" y2="461.54" stroke="#981349" stroke-width="1.3" />
<line x1="449.92" y1="461.54" x2="454.72" y2="461.54" stroke="#981349" stroke-width="1.6" />
<line x1="457.60" y1="464.75" x2="457.60" y2="460.92" stroke="#981349" stroke-width="1.3" />
<line x1="455.20" y1="460.92" x2="460.00" y2="460.92" stroke="#981349" stroke-width="1.6" />
<line x1="462.88" y1="465.08" x2="462.88" y2="461.26" stroke="#981349" stroke-width="1.3" />
<line x1="460.48" y1="461.26" x2="465.28" y2="461.26" stroke="#981349" stroke-width="1.6" />
<line x1="468.16" y1="465.43" x2="468.16" y2="461.60" stroke="#981349" stroke-width="1.3" />
<line x1="465.76" y1="461.60" x2="470.56" y2="461.60" stroke="#981349" stroke-width="1.6" />
<line x1="473.44" y1="464.80" x2="473.44" y2="460.98" stroke="#981349" stroke-width="1.3" />
<line x1="471.04" y1="460.98" x2="475.84" y2="460.98" stroke="#981349" stroke-width="1.6" />
<line x1="478.72" y1="466.04" x2="478.72" y2="462.22" stroke="#981349" stroke-width="1.3" />
<line x1="476.32" y1="462.22" x2="481.12" y2="462.22" stroke="#981349" stroke-width="1.6" />
<line x1="484.00" y1="464.64" x2="484.00" y2="460.82" stroke="#981349" stroke-width="1.3" />
<line x1="481.60" y1="460.82" x2="486.40" y2="460.82" stroke="#981349" stroke-width="1.6" />
<line x1="489.28" y1="466.29" x2="489.28" y2="462.47" stroke="#981349" stroke-width="1.3" />
<line x1="486.88" y1="462.47" x2="491.68" y2="462.47" stroke="#981349" stroke-width="1.6" />
<line x1="494.56" y1="464.32" x2="494.56" y2="460.49" stroke="#981349" stroke-width="1.3" />
<line x1="492.16" y1="460.49" x2="496.96" y2="460.49" stroke="#981349" stroke-width="1.6" />
<line x1="499.84" y1="466.11" x2="499.84" y2="462.28" stroke="#981349" stroke-width="1.3" />
<line x1="497.44" y1="462.28" x2="502.24" y2="462.28" stroke="#981349" stroke-width="1.6" />
<line x1="505.12" y1="464.24" x2="505.12" y2="460.42" stroke="#981349" stroke-width="1.3" />
<line x1="502.72" y1="460.42" x2="507.52" y2="460.42" stroke="#981349" stroke-width="1.6" />
<line x1="510.40" y1="465.68" x2="510.40" y2="461.86" stroke="#981349" stroke-width="1.3" />
<line x1="508.00" y1="461.86" x2="512.80" y2="461.86" stroke="#981349" stroke-width="1.6" />
<line x1="515.68" y1="464.72" x2="515.68" y2="460.90" stroke="#981349" stroke-width="1.3" />
<line x1="513.28" y1="460.90" x2="518.08" y2="460.90" stroke="#981349" stroke-width="1.6" />
<line x1="520.96" y1="465.75" x2="520.96" y2="461.92" stroke="#981349" stroke-width="1.3" />
<line x1="518.56" y1="461.92" x2="523.36" y2="461.92" stroke="#981349" stroke-width="1.6" />
<line x1="526.24" y1="465.67" x2="526.24" y2="461.84" stroke="#981349" stroke-width="1.3" />
<line x1="523.84" y1="461.84" x2="528.64" y2="461.84" stroke="#981349" stroke-width="1.6" />
<line x1="531.52" y1="465.74" x2="531.52" y2="461.91" stroke="#981349" stroke-width="1.3" />
<line x1="529.12" y1="461.91" x2="533.92" y2="461.91" stroke="#981349" stroke-width="1.6" />
<line x1="536.80" y1="466.62" x2="536.80" y2="462.80" stroke="#981349" stroke-width="1.3" />
<line x1="534.40" y1="462.80" x2="539.20" y2="462.80" stroke="#981349" stroke-width="1.6" />
<line x1="542.08" y1="465.78" x2="542.08" y2="461.96" stroke="#981349" stroke-width="1.3" />
<line x1="539.68" y1="461.96" x2="544.48" y2="461.96" stroke="#981349" stroke-width="1.6" />
<line x1="547.36" y1="467.46" x2="547.36" y2="463.64" stroke="#981349" stroke-width="1.3" />
<line x1="544.96" y1="463.64" x2="549.76" y2="463.64" stroke="#981349" stroke-width="1.6" />
<line x1="552.64" y1="465.99" x2="552.64" y2="462.17" stroke="#981349" stroke-width="1.3" />
<line x1="550.24" y1="462.17" x2="555.04" y2="462.17" stroke="#981349" stroke-width="1.6" />
<line x1="557.92" y1="468.09" x2="557.92" y2="464.27" stroke="#981349" stroke-width="1.3" />
<line x1="555.52" y1="464.27" x2="560.32" y2="464.27" stroke="#981349" stroke-width="1.6" />
<line x1="563.20" y1="466.44" x2="563.20" y2="462.62" stroke="#981349" stroke-width="1.3" />
<line x1="560.80" y1="462.62" x2="565.60" y2="462.62" stroke="#981349" stroke-width="1.6" />
<line x1="357.28" y1="490.66" x2="357.28" y2="492.59" stroke="#981349" stroke-width="1.3" />
<line x1="354.88" y1="492.59" x2="359.68" y2="492.59" stroke="#981349" stroke-width="1.6" />
<line x1="362.56" y1="492.22" x2="362.56" y2="494.18" stroke="#981349" stroke-width="1.3" />
<line x1="360.16" y1="494.18" x2="364.96" y2="494.18" stroke="#981349" stroke-width="1.6" />
<line x1="367.84" y1="490.08" x2="367.84" y2="492.07" stroke="#981349" stroke-width="1.3" />
<line x1="365.44" y1="492.07" x2="370.24" y2="492.07" stroke="#981349" stroke-width="1.6" />
<line x1="373.12" y1="491.71" x2="373.12" y2="493.71" stroke="#981349" stroke-width="1.3" />
<line x1="370.72" y1="493.71" x2="375.52" y2="493.71" stroke="#981349" stroke-width="1.6" />
<line x1="378.40" y1="489.36" x2="378.40" y2="491.39" stroke="#981349" stroke-width="1.3" />
<line x1="376.00" y1="491.39" x2="380.80" y2="491.39" stroke="#981349" stroke-width="1.6" />
<line x1="383.68" y1="490.16" x2="383.68" y2="492.22" stroke="#981349" stroke-width="1.3" />
<line x1="381.28" y1="492.22" x2="386.08" y2="492.22" stroke="#981349" stroke-width="1.6" />
<line x1="388.96" y1="488.45" x2="388.96" y2="490.53" stroke="#981349" stroke-width="1.3" />
<line x1="386.56" y1="490.53" x2="391.36" y2="490.53" stroke="#981349" stroke-width="1.6" />
<line x1="394.24" y1="488.77" x2="394.24" y2="490.88" stroke="#981349" stroke-width="1.3" />
<line x1="391.84" y1="490.88" x2="396.64" y2="490.88" stroke="#981349" stroke-width="1.6" />
<line x1="399.52" y1="488.29" x2="399.52" y2="490.42" stroke="#981349" stroke-width="1.3" />
<line x1="397.12" y1="490.42" x2="401.92" y2="490.42" stroke="#981349" stroke-width="1.6" />
<line x1="404.80" y1="487.65" x2="404.80" y2="489.80" stroke="#981349" stroke-width="1.3" />
<line x1="402.40" y1="489.80" x2="407.20" y2="489.80" stroke="#981349" stroke-width="1.6" />
<line x1="410.08" y1="443.67" x2="410.08" y2="445.84" stroke="#981349" stroke-width="1.3" />
<line x1="407.68" y1="445.84" x2="412.48" y2="445.84" stroke="#981349" stroke-width="1.6" />
<line x1="415.36" y1="460.21" x2="415.36" y2="462.41" stroke="#981349" stroke-width="1.3" />
<line x1="412.96" y1="462.41" x2="417.76" y2="462.41" stroke="#981349" stroke-width="1.6" />
<line x1="420.64" y1="464.87" x2="420.64" y2="467.10" stroke="#981349" stroke-width="1.3" />
<line x1="418.24" y1="467.10" x2="423.04" y2="467.10" stroke="#981349" stroke-width="1.6" />
<line x1="425.92" y1="463.34" x2="425.92" y2="465.59" stroke="#981349" stroke-width="1.3" />
<line x1="423.52" y1="465.59" x2="428.32" y2="465.59" stroke="#981349" stroke-width="1.6" />
<line x1="431.20" y1="465.47" x2="431.20" y2="467.74" stroke="#981349" stroke-width="1.3" />
<line x1="428.80" y1="467.74" x2="433.60" y2="467.74" stroke="#981349" stroke-width="1.6" />
<line x1="436.48" y1="463.69" x2="436.48" y2="465.98" stroke="#981349" stroke-width="1.3" />
<line x1="434.08" y1="465.98" x2="438.88" y2="465.98" stroke="#981349" stroke-width="1.6" />
<line x1="441.76" y1="465.52" x2="441.76" y2="467.84" stroke="#981349" stroke-width="1.3" />
<line x1="439.36" y1="467.84" x2="444.16" y2="467.84" stroke="#981349" stroke-width="1.6" />
<line x1="447.04" y1="464.13" x2="447.04" y2="466.47" stroke="#981349" stroke-width="1.3" />
<line x1="444.64" y1="466.47" x2="449.44" y2="466.47" stroke="#981349" stroke-width="1.6" />
<line x1="452.32" y1="465.36" x2="452.32" y2="467.73" stroke="#981349" stroke-width="1.3" />
<line x1="449.92" y1="467.73" x2="454.72" y2="467.73" stroke="#981349" stroke-width="1.6" />
<line x1="457.60" y1="464.75" x2="457.60" y2="467.14" stroke="#981349" stroke-width="1.3" />
<line x1="455.20" y1="467.14" x2="460.00" y2="467.14" stroke="#981349" stroke-width="1.6" />
<line x1="462.88" y1="465.08" x2="462.88" y2="467.50" stroke="#981349" stroke-width="1.3" />
<line x1="460.48" y1="467.50" x2="465.28" y2="467.50" stroke="#981349" stroke-width="1.6" />
<line x1="468.16" y1="465.43" x2="468.16" y2="467.86" stroke="#981349" stroke-width="1.3" />
<line x1="465.76" y1="467.86" x2="470.56" y2="467.86" stroke="#981349" stroke-width="1.6" />
<line x1="473.44" y1="464.80" x2="473.44" y2="467.26" stroke="#981349" stroke-width="1.3" />
<line x1="471.04" y1="467.26" x2="475.84" y2="467.26" stroke="#981349" stroke-width="1.6" />
<line x1="478.72" y1="466.04" x2="478.72" y2="468.53" stroke="#981349" stroke-width="1.3" />
<line x1="476.32" y1="468.53" x2="481.12" y2="468.53" stroke="#981349" stroke-width="1.6" />
<line x1="484.00" y1="464.64" x2="484.00" y2="467.15" stroke="#981349" stroke-width="1.3" />
<line x1="481.60" y1="467.15" x2="486.40" y2="467.15" stroke="#981349" stroke-width="1.6" />
<line x1="489.28" y1="466.29" x2="489.28" y2="468.82" stroke="#981349" stroke-width="1.3" />
<line x1="486.88" y1="468.82" x2="491.68" y2="468.82" stroke="#981349" stroke-width="1.6" />
<line x1="494.56" y1="464.32" x2="494.56" y2="466.88" stroke="#981349" stroke-width="1.3" />
<line x1="492.16" y1="466.88" x2="496.96" y2="466.88" stroke="#981349" stroke-width="1.6" />
<line x1="499.84" y1="466.11" x2="499.84" y2="468.69" stroke="#981349" stroke-width="1.3" />
<line x1="497.44" y1="468.69" x2="502.24" y2="468.69" stroke="#981349" stroke-width="1.6" />
<line x1="505.12" y1="464.24" x2="505.12" y2="466.85" stroke="#981349" stroke-width="1.3" />
<line x1="502.72" y1="466.85" x2="507.52" y2="466.85" stroke="#981349" stroke-width="1.6" />
<line x1="510.40" y1="465.68" x2="510.40" y2="468.31" stroke="#981349" stroke-width="1.3" />
<line x1="508.00" y1="468.31" x2="512.80" y2="468.31" stroke="#981349" stroke-width="1.6" />
<line x1="515.68" y1="464.72" x2="515.68" y2="467.38" stroke="#981349" stroke-width="1.3" />
<line x1="513.28" y1="467.38" x2="518.08" y2="467.38" stroke="#981349" stroke-width="1.6" />
<line x1="520.96" y1="465.75" x2="520.96" y2="468.42" stroke="#981349" stroke-width="1.3" />
<line x1="518.56" y1="468.42" x2="523.36" y2="468.42" stroke="#981349" stroke-width="1.6" />
<line x1="526.24" y1="465.67" x2="526.24" y2="468.37" stroke="#981349" stroke-width="1.3" />
<line x1="523.84" y1="468.37" x2="528.64" y2="468.37" stroke="#981349" stroke-width="1.6" />
<line x1="531.52" y1="465.74" x2="531.52" y2="468.46" stroke="#981349" stroke-width="1.3" />
<line x1="529.12" y1="468.46" x2="533.92" y2="468.46" stroke="#981349" stroke-width="1.6" />
<line x1="536.80" y1="466.62" x2="536.80" y2="469.37" stroke="#981349" stroke-width="1.3" />
<line x1="534.40" y1="469.37" x2="539.20" y2="469.37" stroke="#981349" stroke-width="1.6" />
<line x1="542.08" y1="465.78" x2="542.08" y2="468.55" stroke="#981349" stroke-width="1.3" />
<line x1="539.68" y1="468.55" x2="544.48" y2="468.55" stroke="#981349" stroke-width="1.6" />
<line x1="547.36" y1="467.46" x2="547.36" y2="470.26" stroke="#981349" stroke-width="1.3" />
<line x1="544.96" y1="470.26" x2="549.76" y2="470.26" stroke="#981349" stroke-width="1.6" />
<line x1="552.64" y1="465.99" x2="552.64" y2="468.81" stroke="#981349" stroke-width="1.3" />
<line x1="550.24" y1="468.81" x2="555.04" y2="468.81" stroke="#981349" stroke-width="1.6" />
<line x1="557.92" y1="468.09" x2="557.92" y2="470.94" stroke="#981349" stroke-width="1.3" />
<line x1="555.52" y1="470.94" x2="560.32" y2="470.94" stroke="#981349" stroke-width="1.6" />
<line x1="563.20" y1="466.44" x2="563.20" y2="469.31" stroke="#981349" stroke-width="1.3" />
<line x1="560.80" y1="469.31" x2="565.60" y2="469.31" stroke="#981349" stroke-width="1.6" />
<line x1="357.28" y1="490.50" x2="357.28" y2="489.04" stroke="#981349" stroke-width="1.3" />
<line x1="354.88" y1="489.04" x2="359.68" y2="489.04" stroke="#981349" stroke-width="1.6" />
<line x1="362.56" y1="491.57" x2="362.56" y2="490.06" stroke="#981349" stroke-width="1.3" />
<line x1="360.16" y1="490.06" x2="364.96" y2="490.06" stroke="#981349" stroke-width="1.6" />
<line x1="367.84" y1="490.55" x2="367.84" y2="489.01" stroke="#981349" stroke-width="1.3" />
<line x1="365.44" y1="489.01" x2="370.24" y2="489.01" stroke="#981349" stroke-width="1.6" />
<line x1="373.12" y1="490.99" x2="373.12" y2="489.41" stroke="#981349" stroke-width="1.3" />
<line x1="370.72" y1="489.41" x2="375.52" y2="489.41" stroke="#981349" stroke-width="1.6" />
<line x1="378.40" y1="490.49" x2="378.40" y2="488.87" stroke="#981349" stroke-width="1.3" />
<line x1="376.00" y1="488.87" x2="380.80" y2="488.87" stroke="#981349" stroke-width="1.6" />
<line x1="383.68" y1="489.96" x2="383.68" y2="488.31" stroke="#981349" stroke-width="1.3" />
<line x1="381.28" y1="488.31" x2="386.08" y2="488.31" stroke="#981349" stroke-width="1.6" />
<line x1="388.96" y1="490.23" x2="388.96" y2="488.54" stroke="#981349" stroke-width="1.3" />
<line x1="386.56" y1="488.54" x2="391.36" y2="488.54" stroke="#981349" stroke-width="1.6" />
<line x1="394.24" y1="488.99" x2="394.24" y2="487.26" stroke="#981349" stroke-width="1.3" />
<line x1="391.84" y1="487.26" x2="396.64" y2="487.26" stroke="#981349" stroke-width="1.6" />
<line x1="399.52" y1="489.87" x2="399.52" y2="488.11" stroke="#981349" stroke-width="1.3" />
<line x1="397.12" y1="488.11" x2="401.92" y2="488.11" stroke="#981349" stroke-width="1.6" />
<line x1="404.80" y1="488.15" x2="404.80" y2="486.36" stroke="#981349" stroke-width="1.3" />
<line x1="402.40" y1="486.36" x2="407.20" y2="486.36" stroke="#981349" stroke-width="1.6" />
<line x1="410.08" y1="452.37" x2="410.08" y2="450.54" stroke="#981349" stroke-width="1.3" />
<line x1="407.68" y1="450.54" x2="412.48" y2="450.54" stroke="#981349" stroke-width="1.6" />
<line x1="415.36" y1="465.66" x2="415.36" y2="463.79" stroke="#981349" stroke-width="1.3" />
<line x1="412.96" y1="463.79" x2="417.76" y2="463.79" stroke="#981349" stroke-width="1.6" />
<line x1="420.64" y1="471.39" x2="420.64" y2="469.49" stroke="#981349" stroke-width="1.3" />
<line x1="418.24" y1="469.49" x2="423.04" y2="469.49" stroke="#981349" stroke-width="1.6" />
<line x1="425.92" y1="470.21" x2="425.92" y2="468.28" stroke="#981349" stroke-width="1.3" />
<line x1="423.52" y1="468.28" x2="428.32" y2="468.28" stroke="#981349" stroke-width="1.6" />
<line x1="431.20" y1="471.20" x2="431.20" y2="469.23" stroke="#981349" stroke-width="1.3" />
<line x1="428.80" y1="469.23" x2="433.60" y2="469.23" stroke="#981349" stroke-width="1.6" />
<line x1="436.48" y1="470.62" x2="436.48" y2="468.62" stroke="#981349" stroke-width="1.3" />
<line x1="434.08" y1="468.62" x2="438.88" y2="468.62" stroke="#981349" stroke-width="1.6" />
<line x1="441.76" y1="470.91" x2="441.76" y2="468.86" stroke="#981349" stroke-width="1.3" />
<line x1="439.36" y1="468.86" x2="444.16" y2="468.86" stroke="#981349" stroke-width="1.6" />
<line x1="447.04" y1="471.09" x2="447.04" y2="469.02" stroke="#981349" stroke-width="1.3" />
<line x1="444.64" y1="469.02" x2="449.44" y2="469.02" stroke="#981349" stroke-width="1.6" />
<line x1="452.32" y1="470.61" x2="452.32" y2="468.49" stroke="#981349" stroke-width="1.3" />
<line x1="449.92" y1="468.49" x2="454.72" y2="468.49" stroke="#981349" stroke-width="1.6" />
<line x1="457.60" y1="471.52" x2="457.60" y2="469.37" stroke="#981349" stroke-width="1.3" />
<line x1="455.20" y1="469.37" x2="460.00" y2="469.37" stroke="#981349" stroke-width="1.6" />
<line x1="462.88" y1="470.40" x2="462.88" y2="468.21" stroke="#981349" stroke-width="1.3" />
<line x1="460.48" y1="468.21" x2="465.28" y2="468.21" stroke="#981349" stroke-width="1.6" />
<line x1="468.16" y1="471.81" x2="468.16" y2="469.59" stroke="#981349" stroke-width="1.3" />
<line x1="465.76" y1="469.59" x2="470.56" y2="469.59" stroke="#981349" stroke-width="1.6" />
<line x1="473.44" y1="470.36" x2="473.44" y2="468.10" stroke="#981349" stroke-width="1.3" />
<line x1="471.04" y1="468.10" x2="475.84" y2="468.10" stroke="#981349" stroke-width="1.6" />
<line x1="478.72" y1="471.91" x2="478.72" y2="469.62" stroke="#981349" stroke-width="1.3" />
<line x1="476.32" y1="469.62" x2="481.12" y2="469.62" stroke="#981349" stroke-width="1.6" />
<line x1="484.00" y1="470.52" x2="484.00" y2="468.19" stroke="#981349" stroke-width="1.3" />
<line x1="481.60" y1="468.19" x2="486.40" y2="468.19" stroke="#981349" stroke-width="1.6" />
<line x1="489.28" y1="471.68" x2="489.28" y2="469.31" stroke="#981349" stroke-width="1.3" />
<line x1="486.88" y1="469.31" x2="491.68" y2="469.31" stroke="#981349" stroke-width="1.6" />
<line x1="494.56" y1="470.59" x2="494.56" y2="468.18" stroke="#981349" stroke-width="1.3" />
<line x1="492.16" y1="468.18" x2="496.96" y2="468.18" stroke="#981349" stroke-width="1.6" />
<line x1="499.84" y1="471.16" x2="499.84" y2="468.73" stroke="#981349" stroke-width="1.3" />
<line x1="497.44" y1="468.73" x2="502.24" y2="468.73" stroke="#981349" stroke-width="1.6" />
<line x1="505.12" y1="470.76" x2="505.12" y2="468.29" stroke="#981349" stroke-width="1.3" />
<line x1="502.72" y1="468.29" x2="507.52" y2="468.29" stroke="#981349" stroke-width="1.6" />
<line x1="510.40" y1="470.58" x2="510.40" y2="468.07" stroke="#981349" stroke-width="1.3" />
<line x1="508.00" y1="468.07" x2="512.80" y2="468.07" stroke="#981349" stroke-width="1.6" />
<line x1="515.68" y1="471.39" x2="515.68" y2="468.84" stroke="#981349" stroke-width="1.3" />
<line x1="513.28" y1="468.84" x2="518.08" y2="468.84" stroke="#981349" stroke-width="1.6" />
<line x1="520.96" y1="470.90" x2="520.96" y2="468.32" stroke="#981349" stroke-width="1.3" />
<line x1="518.56" y1="468.32" x2="523.36" y2="468.32" stroke="#981349" stroke-width="1.6" />
<line x1="526.24" y1="472.35" x2="526.24" y2="469.74" stroke="#981349" stroke-width="1.3" />
<line x1="523.84" y1="469.74" x2="528.64" y2="469.74" stroke="#981349" stroke-width="1.6" />
<line x1="531.52" y1="471.34" x2="531.52" y2="468.69" stroke="#981349" stroke-width="1.3" />
<line x1="529.12" y1="468.69" x2="533.92" y2="468.69" stroke="#981349" stroke-width="1.6" />
<line x1="536.80" y1="473.16" x2="536.80" y2="470.47" stroke="#981349" stroke-width="1.3" />
<line x1="534.40" y1="470.47" x2="539.20" y2="470.47" stroke="#981349" stroke-width="1.6" />
<line x1="542.08" y1="471.98" x2="542.08" y2="469.25" stroke="#981349" stroke-width="1.3" />
<line x1="539.68" y1="469.25" x2="544.48" y2="469.25" stroke="#981349" stroke-width="1.6" />
<line x1="547.36" y1="473.76" x2="547.36" y2="471.00" stroke="#981349" stroke-width="1.3" />
<line x1="544.96" y1="471.00" x2="549.76" y2="471.00" stroke="#981349" stroke-width="1.6" />
<line x1="552.64" y1="472.81" x2="552.64" y2="470.01" stroke="#981349" stroke-width="1.3" />
<line x1="550.24" y1="470.01" x2="555.04" y2="470.01" stroke="#981349" stroke-width="1.6" />
<line x1="557.92" y1="474.19" x2="557.92" y2="471.35" stroke="#981349" stroke-width="1.3" />
<line x1="555.52" y1="471.35" x2="560.32" y2="471.35" stroke="#981349" stroke-width="1.6" />
<line x1="563.20" y1="473.79" x2="563.20" y2="470.92" stroke="#981349" stroke-width="1.3" />
<line x1="560.80" y1="470.92" x2="565.60" y2="470.92" stroke="#981349" stroke-width="1.6" />
<line x1="357.28" y1="490.50" x2="357.28" y2="491.97" stroke="#981349" stroke-width="1.3" />
<line x1="354.88" y1="491.97" x2="359.68" y2="491.97" stroke="#981349" stroke-width="1.6" />
<line x1="362.56" y1="491.57" x2="362.56" y2="493.08" stroke="#981349" stroke-width="1.3" />
<line x1="360.16" y1="493.08" x2="364.96" y2="493.08" stroke="#981349" stroke-width="1.6" />
<line x1="367.84" y1="490.55" x2="367.84" y2="492.09" stroke="#981349" stroke-width="1.3" />
<line x1="365.44" y1="492.09" x2="370.24" y2="492.09" stroke="#981349" stroke-width="1.6" />
<line x1="373.12" y1="490.99" x2="373.12" y2="492.57" stroke="#981349" stroke-width="1.3" />
<line x1="370.72" y1="492.57" x2="375.52" y2="492.57" stroke="#981349" stroke-width="1.6" />
<line x1="378.40" y1="490.49" x2="378.40" y2="492.10" stroke="#981349" stroke-width="1.3" />
<line x1="376.00" y1="492.10" x2="380.80" y2="492.10" stroke="#981349" stroke-width="1.6" />
<line x1="383.68" y1="489.96" x2="383.68" y2="491.61" stroke="#981349" stroke-width="1.3" />
<line x1="381.28" y1="491.61" x2="386.08" y2="491.61" stroke="#981349" stroke-width="1.6" />
<line x1="388.96" y1="490.23" x2="388.96" y2="491.91" stroke="#981349" stroke-width="1.3" />
<line x1="386.56" y1="491.91" x2="391.36" y2="491.91" stroke="#981349" stroke-width="1.6" />
<line x1="394.24" y1="488.99" x2="394.24" y2="490.71" stroke="#981349" stroke-width="1.3" />
<line x1="391.84" y1="490.71" x2="396.64" y2="490.71" stroke="#981349" stroke-width="1.6" />
<line x1="399.52" y1="489.87" x2="399.52" y2="491.62" stroke="#981349" stroke-width="1.3" />
<line x1="397.12" y1="491.62" x2="401.92" y2="491.62" stroke="#981349" stroke-width="1.6" />
<line x1="404.80" y1="488.15" x2="404.80" y2="489.94" stroke="#981349" stroke-width="1.3" />
<line x1="402.40" y1="489.94" x2="407.20" y2="489.94" stroke="#981349" stroke-width="1.6" />
<line x1="410.08" y1="452.37" x2="410.08" y2="454.20" stroke="#981349" stroke-width="1.3" />
<line x1="407.68" y1="454.20" x2="412.48" y2="454.20" stroke="#981349" stroke-width="1.6" />
<line x1="415.36" y1="465.66" x2="415.36" y2="467.52" stroke="#981349" stroke-width="1.3" />
<line x1="412.96" y1="467.52" x2="417.76" y2="467.52" stroke="#981349" stroke-width="1.6" />
<line x1="420.64" y1="471.39" x2="420.64" y2="473.29" stroke="#981349" stroke-width="1.3" />
<line x1="418.24" y1="473.29" x2="423.04" y2="473.29" stroke="#981349" stroke-width="1.6" />
<line x1="425.92" y1="470.21" x2="425.92" y2="472.15" stroke="#981349" stroke-width="1.3" />
<line x1="423.52" y1="472.15" x2="428.32" y2="472.15" stroke="#981349" stroke-width="1.6" />
<line x1="431.20" y1="471.20" x2="431.20" y2="473.17" stroke="#981349" stroke-width="1.3" />
<line x1="428.80" y1="473.17" x2="433.60" y2="473.17" stroke="#981349" stroke-width="1.6" />
<line x1="436.48" y1="470.62" x2="436.48" y2="472.63" stroke="#981349" stroke-width="1.3" />
<line x1="434.08" y1="472.63" x2="438.88" y2="472.63" stroke="#981349" stroke-width="1.6" />
<line x1="441.76" y1="470.91" x2="441.76" y2="472.95" stroke="#981349" stroke-width="1.3" />
<line x1="439.36" y1="472.95" x2="444.16" y2="472.95" stroke="#981349" stroke-width="1.6" />
<line x1="447.04" y1="471.09" x2="447.04" y2="473.17" stroke="#981349" stroke-width="1.3" />
<line x1="444.64" y1="473.17" x2="449.44" y2="473.17" stroke="#981349" stroke-width="1.6" />
<line x1="452.32" y1="470.61" x2="452.32" y2="472.72" stroke="#981349" stroke-width="1.3" />
<line x1="449.92" y1="472.72" x2="454.72" y2="472.72" stroke="#981349" stroke-width="1.6" />
<line x1="457.60" y1="471.52" x2="457.60" y2="473.67" stroke="#981349" stroke-width="1.3" />
<line x1="455.20" y1="473.67" x2="460.00" y2="473.67" stroke="#981349" stroke-width="1.6" />
<line x1="462.88" y1="470.40" x2="462.88" y2="472.59" stroke="#981349" stroke-width="1.3" />
<line x1="460.48" y1="472.59" x2="465.28" y2="472.59" stroke="#981349" stroke-width="1.6" />
<line x1="468.16" y1="471.81" x2="468.16" y2="474.03" stroke="#981349" stroke-width="1.3" />
<line x1="465.76" y1="474.03" x2="470.56" y2="474.03" stroke="#981349" stroke-width="1.6" />
<line x1="473.44" y1="470.36" x2="473.44" y2="472.62" stroke="#981349" stroke-width="1.3" />
<line x1="471.04" y1="472.62" x2="475.84" y2="472.62" stroke="#981349" stroke-width="1.6" />
<line x1="478.72" y1="471.91" x2="478.72" y2="474.21" stroke="#981349" stroke-width="1.3" />
<line x1="476.32" y1="474.21" x2="481.12" y2="474.21" stroke="#981349" stroke-width="1.6" />
<line x1="484.00" y1="470.52" x2="484.00" y2="472.85" stroke="#981349" stroke-width="1.3" />
<line x1="481.60" y1="472.85" x2="486.40" y2="472.85" stroke="#981349" stroke-width="1.6" />
<line x1="489.28" y1="471.68" x2="489.28" y2="474.05" stroke="#981349" stroke-width="1.3" />
<line x1="486.88" y1="474.05" x2="491.68" y2="474.05" stroke="#981349" stroke-width="1.6" />
<line x1="494.56" y1="470.59" x2="494.56" y2="472.99" stroke="#981349" stroke-width="1.3" />
<line x1="492.16" y1="472.99" x2="496.96" y2="472.99" stroke="#981349" stroke-width="1.6" />
<line x1="499.84" y1="471.16" x2="499.84" y2="473.60" stroke="#981349" stroke-width="1.3" />
<line x1="497.44" y1="473.60" x2="502.24" y2="473.60" stroke="#981349" stroke-width="1.6" />
<line x1="505.12" y1="470.76" x2="505.12" y2="473.24" stroke="#981349" stroke-width="1.3" />
<line x1="502.72" y1="473.24" x2="507.52" y2="473.24" stroke="#981349" stroke-width="1.6" />
<line x1="510.40" y1="470.58" x2="510.40" y2="473.09" stroke="#981349" stroke-width="1.3" />
<line x1="508.00" y1="473.09" x2="512.80" y2="473.09" stroke="#981349" stroke-width="1.6" />
<line x1="515.68" y1="471.39" x2="515.68" y2="473.93" stroke="#981349" stroke-width="1.3" />
<line x1="513.28" y1="473.93" x2="518.08" y2="473.93" stroke="#981349" stroke-width="1.6" />
<line x1="520.96" y1="470.90" x2="520.96" y2="473.48" stroke="#981349" stroke-width="1.3" />
<line x1="518.56" y1="473.48" x2="523.36" y2="473.48" stroke="#981349" stroke-width="1.6" />
<line x1="526.24" y1="472.35" x2="526.24" y2="474.97" stroke="#981349" stroke-width="1.3" />
<line x1="523.84" y1="474.97" x2="528.64" y2="474.97" stroke="#981349" stroke-width="1.6" />
<line x1="531.52" y1="471.34" x2="531.52" y2="474.00" stroke="#981349" stroke-width="1.3" />
<line x1="529.12" y1="474.00" x2="533.92" y2="474.00" stroke="#981349" stroke-width="1.6" />
<line x1="536.80" y1="473.16" x2="536.80" y2="475.85" stroke="#981349" stroke-width="1.3" />
<line x1="534.40" y1="475.85" x2="539.20" y2="475.85" stroke="#981349" stroke-width="1.6" />
<line x1="542.08" y1="471.98" x2="542.08" y2="474.70" stroke="#981349" stroke-width="1.3" />
<line x1="539.68" y1="474.70" x2="544.48" y2="474.70" stroke="#981349" stroke-width="1.6" />
<line x1="547.36" y1="473.76" x2="547.36" y2="476.52" stroke="#981349" stroke-width="1.3" />
<line x1="544.96" y1="476.52" x2="549.76" y2="476.52" stroke="#981349" stroke-width="1.6" />
<line x1="552.64" y1="472.81" x2="552.64" y2="475.60" stroke="#981349" stroke-width="1.3" />
<line x1="550.24" y1="475.60" x2="555.04" y2="475.60" stroke="#981349" stroke-width="1.6" />
<line x1="557.92" y1="474.19" x2="557.92" y2="477.02" stroke="#981349" stroke-width="1.3" />
<line x1="555.52" y1="477.02" x2="560.32" y2="477.02" stroke="#981349" stroke-width="1.6" />
<line x1="563.20" y1="473.79" x2="563.20" y2="476.66" stroke="#981349" stroke-width="1.3" />
<line x1="560.80" y1="476.66" x2="565.60" y2="476.66" stroke="#981349" stroke-width="1.6" />
<circle cx="357.28" cy="490.50" r="5.70" fill="#0a0af0" stroke="#981349" stroke-width="3.2"/>
<circle cx="362.56" cy="491.57" r="5.70" fill="#0a0af0" stroke="#981349" stroke-width="3.2"/>
<circle cx="367.84" cy="490.55" r="5.70" fill="#0a0af0" stroke="#981349" stroke-width="3.2"/>
<circle cx="373.12" cy="490.99" r="5.70" fill="#0a0af0" stroke="#981349" stroke-width="3.2"/>
<circle cx="378.40" cy="490.49" r="5.70" fill="#0a0af0" stroke="#981349" stroke-width="3.2"/>
<circle cx="383.68" cy="489.96" r="5.70" fill="#0a0af0" stroke="#981349" stroke-width="3.2"/>
<circle cx="388.96" cy="490.23" r="5.70" fill="#0a0af0" stroke="#981349" stroke-width="3.2"/>
<circle cx="394.24" cy="488.99" r="5.70" fill="#0a0af0" stroke="#981349" stroke-width="3.2"/>
<circle cx="399.52" cy="489.87" r="5.70" fill="#0a0af0" stroke="#981349" stroke-width="3.2"/>
<circle cx="404.80" cy="488.15" r="5.70" fill="#0a0af0" stroke="#981349" stroke-width="3.2"/>
<circle cx="410.08" cy="452.37" r="5.70" fill="#0a0af0" stroke="#981349" stroke-width="2.6"/>
<circle cx="415.36" cy="465.66" r="5.70" fill="#0a0af0" stroke="#981349" stroke-width="2.6"/>
<circle cx="420.64" cy="471.39" r="5.70" fill="#0a0af0" stroke="#981349" stroke-width="2.6"/>
<circle cx="425.92" cy="470.21" r="5.70" fill="#0a0af0" stroke="#981349" stroke-width="2.6"/>
<circle cx="431.20" cy="471.20" r="5.70" fill="#0a0af0" stroke="#981349" stroke-width="2.6"/>
<circle cx="436.48" cy="470.62" r="5.70" fill="#0a0af0" stroke="#981349" stroke-width="2.6"/>
<circle cx="441.76" cy="470.91" r="5.70" fill="#0a0af0" stroke="#981349" stroke-width="2.6"/>
<circle cx="447.04" cy="471.09" r="5.70" fill="#0a0af0" stroke="#981349" stroke-width="2.6"/>
<circle cx="452.32" cy="470.61" r="5.70" fill="#0a0af0" stroke="#981349" stroke-width="2.6"/>
<circle cx="457.60" cy="471.52" r="5.70" fill="#0a0af0" stroke="#981349" stroke-width="2.6"/>
<circle cx="462.88" cy="470.40" r="5.70" fill="#0a0af0" stroke="#981349" stroke-width="2.6"/>
<circle cx="468.16" cy="471.81" r="5.70" fill="#0a0af0" stroke="#981349" stroke-width="2.6"/>
<circle cx="473.44" cy="470.36" r="5.70" fill="#0a0af0" stroke="#981349" stroke-width="2.6"/>
<circle cx="478.72" cy="471.91" r="5.70" fill="#0a0af0" stroke="#981349" stroke-width="2.6"/>
<circle cx="484.00" cy="470.52" r="5.70" fill="#0a0af0" stroke="#981349" stroke-width="2.6"/>
<circle cx="489.28" cy="471.68" r="5.70" fill="#0a0af0" stroke="#981349" stroke-width="2.6"/>
<circle cx="494.56" cy="470.59" r="5.70" fill="#0a0af0" stroke="#981349" stroke-width="2.6"/>
<circle cx="499.84" cy="471.16" r="5.70" fill="#0a0af0" stroke="#981349" stroke-width="2.6"/>
<circle cx="505.12" cy="470.76" r="5.70" fill="#0a0af0" stroke="#981349" stroke-width="2.6"/>
<circle cx="510.40" cy="470.58" r="5.70" fill="#0a0af0" stroke="#981349" stroke-width="2.6"/>
<circle cx="515.68" cy="471.39" r="5.70" fill="#0a0af0" stroke="#981349" stroke-width="2.6"/>
<circle cx="520.96" cy="470.90" r="5.70" fill="#0a0af0" stroke="#981349" stroke-width="2.6"/>
<circle cx="526.24" cy="472.35" r="5.70" fill="#0a0af0" stroke="#981349" stroke-width="2.6"/>
<circle cx="531.52" cy="471.34" r="5.70" fill="#0a0af0" stroke="#981349" stroke-width="2.6"/>
<circle cx="536.80" cy="473.16" r="5.70" fill="#0a0af0" stroke="#981349" stroke-width="2.6"/>
<circle cx="542.08" cy="471.98" r="5.70" fill="#0a0af0" stroke="#981349" stroke-width="2.6"/>
<circle cx="547.36" cy="473.76" r="5.70" fill="#0a0af0" stroke="#981349" stroke-width="2.6"/>
<circle cx="552.64" cy="472.81" r="5.70" fill="#0a0af0" stroke="#981349" stroke-width="2.6"/>
<circle cx="557.92" cy="474.19" r="5.70" fill="#0a0af0" stroke="#981349" stroke-width="2.6"/>
<circle cx="563.20" cy="473.79" r="5.70" fill="#0a0af0" stroke="#981349" stroke-width="2.6"/>
<line x1="352.00" y1="346.80" x2="352.00" y2="539.50" stroke="#000" stroke-width="1.8" />
<line x1="351.10" y1="538.60" x2="578.80" y2="538.60" stroke="#000" stroke-width="2.0" />
<line x1="348.20" y1="538.60" x2="352.00" y2="538.60" stroke="#000" stroke-width="1.6" />
<text x="345.20" y="543.60" font-size="16.00" fill="#0a0a0a" text-anchor="end" textLength="18.10" lengthAdjust="spacingAndGlyphs"  stroke="#0a0a0a" stroke-width="0.25">50</text>
<line x1="349.80" y1="514.70" x2="352.00" y2="514.70" stroke="#000" stroke-width="1.4" />
<line x1="348.20" y1="490.80" x2="352.00" y2="490.80" stroke="#000" stroke-width="1.6" />
<text x="345.20" y="495.80" font-size="16.00" fill="#0a0a0a" text-anchor="end" textLength="27.35" lengthAdjust="spacingAndGlyphs"  stroke="#0a0a0a" stroke-width="0.25">100</text>
<line x1="349.80" y1="466.90" x2="352.00" y2="466.90" stroke="#000" stroke-width="1.4" />
<line x1="348.20" y1="443.00" x2="352.00" y2="443.00" stroke="#000" stroke-width="1.6" />
<text x="345.20" y="448.00" font-size="16.00" fill="#0a0a0a" text-anchor="end" textLength="27.35" lengthAdjust="spacingAndGlyphs"  stroke="#0a0a0a" stroke-width="0.25">150</text>
<line x1="349.80" y1="419.10" x2="352.00" y2="419.10" stroke="#000" stroke-width="1.4" />
<line x1="348.20" y1="395.20" x2="352.00" y2="395.20" stroke="#000" stroke-width="1.6" />
<text x="345.20" y="400.20" font-size="16.00" fill="#0a0a0a" text-anchor="end" textLength="27.35" lengthAdjust="spacingAndGlyphs"  stroke="#0a0a0a" stroke-width="0.25">200</text>
<line x1="349.80" y1="371.30" x2="352.00" y2="371.30" stroke="#000" stroke-width="1.4" />
<line x1="348.20" y1="347.40" x2="352.00" y2="347.40" stroke="#000" stroke-width="1.6" />
<text x="345.20" y="352.40" font-size="16.00" fill="#0a0a0a" text-anchor="end" textLength="27.35" lengthAdjust="spacingAndGlyphs"  stroke="#0a0a0a" stroke-width="0.25">250</text>
<line x1="352.00" y1="538.60" x2="352.00" y2="542.40" stroke="#000" stroke-width="1.6" />
<text x="351.70" y="557.53" font-size="16.00" fill="#0a0a0a" text-anchor="middle" textLength="8.74" lengthAdjust="spacingAndGlyphs"  stroke="#0a0a0a" stroke-width="0.25">0</text>
<line x1="378.40" y1="538.60" x2="378.40" y2="541.00" stroke="#000" stroke-width="1.4" />
<line x1="404.80" y1="538.60" x2="404.80" y2="542.40" stroke="#000" stroke-width="1.6" />
<text x="404.50" y="557.53" font-size="16.00" fill="#0a0a0a" text-anchor="middle" textLength="18.72" lengthAdjust="spacingAndGlyphs"  stroke="#0a0a0a" stroke-width="0.25">20</text>
<line x1="431.20" y1="538.60" x2="431.20" y2="541.00" stroke="#000" stroke-width="1.4" />
<line x1="457.60" y1="538.60" x2="457.60" y2="542.40" stroke="#000" stroke-width="1.6" />
<text x="457.30" y="557.53" font-size="16.00" fill="#0a0a0a" text-anchor="middle" textLength="18.72" lengthAdjust="spacingAndGlyphs"  stroke="#0a0a0a" stroke-width="0.25">40</text>
<line x1="484.00" y1="538.60" x2="484.00" y2="541.00" stroke="#000" stroke-width="1.4" />
<line x1="510.40" y1="538.60" x2="510.40" y2="542.40" stroke="#000" stroke-width="1.6" />
<text x="510.10" y="557.53" font-size="16.00" fill="#0a0a0a" text-anchor="middle" textLength="18.72" lengthAdjust="spacingAndGlyphs"  stroke="#0a0a0a" stroke-width="0.25">60</text>
<line x1="536.80" y1="538.60" x2="536.80" y2="541.00" stroke="#000" stroke-width="1.4" />
<line x1="563.20" y1="538.60" x2="563.20" y2="542.40" stroke="#000" stroke-width="1.6" />
<text x="562.90" y="557.53" font-size="16.00" fill="#0a0a0a" text-anchor="middle" textLength="18.72" lengthAdjust="spacingAndGlyphs"  stroke="#0a0a0a" stroke-width="0.25">80</text>
<line x1="354.10" y1="490.80" x2="579.30" y2="490.80" stroke="#000" stroke-width="1.8" stroke-dasharray="8.94 9.46"/>
<path d="M408.40,498.75 L404.90,511.25 L411.90,511.25 Z" fill="#000"/>
<line x1="408.40" y1="510.25" x2="408.40" y2="518.40" stroke="#000" stroke-width="1.8" />
<text x="394.50" y="533.60" font-size="14.80" fill="#0a0a0a" text-anchor="start" textLength="29.00" lengthAdjust="spacingAndGlyphs"  stroke="#0a0a0a" stroke-width="0.25">HFS</text>
<line x1="354.40" y1="334.30" x2="392.90" y2="334.30" stroke="#981349" stroke-width="1.7" />
<circle cx="374.20" cy="334.30" r="5.82" fill="#a9a9a9" stroke="#981349" stroke-width="1.9"/>
<text x="397.30" y="340.83" font-size="16.12" fill="#8a1a50" text-anchor="start" textLength="24.60" lengthAdjust="spacingAndGlyphs"  stroke="#8a1a50" stroke-width="0.25">DN</text>
<text x="431.50" y="340.83" font-size="16.12" fill="#0a0a0a" text-anchor="start" textLength="34.30" lengthAdjust="spacingAndGlyphs"  stroke="#0a0a0a" stroke-width="0.25">Dark</text>
<line x1="354.40" y1="356.50" x2="392.90" y2="356.50" stroke="#981349" stroke-width="1.7" />
<circle cx="374.20" cy="356.50" r="5.82" fill="#0a0af0" stroke="#981349" stroke-width="1.9"/>
<text x="397.30" y="363.03" font-size="16.12" fill="#8a1a50" text-anchor="start" textLength="24.60" lengthAdjust="spacingAndGlyphs"  stroke="#8a1a50" stroke-width="0.25">DN</text>
<text x="431.50" y="363.03" font-size="16.12" fill="#2a2aa6" text-anchor="start" textLength="35.70" lengthAdjust="spacingAndGlyphs"  stroke="#2a2aa6" stroke-width="0.25">Light</text>
<text x="6.40" y="614.80" font-size="24.00" fill="#000" text-anchor="start" textLength="13.30" lengthAdjust="spacingAndGlyphs" stroke="#000" stroke-width="0.3">e</text>
<text x="0" y="0" font-size="19.5" fill="#0a0a0a" stroke="#0a0a0a" stroke-width="0.25" text-anchor="middle" textLength="209.00" lengthAdjust="spacingAndGlyphs" transform="translate(22.50,741.00) rotate(-90)">fEPSP (% of baseline)</text>
<text x="134.30" y="873.90" font-size="14.50" fill="#1a1a1a" text-anchor="start" textLength="83.10" lengthAdjust="spacingAndGlyphs"  stroke="#1a1a1a" stroke-width="0.25">Time ( min )</text>
<circle cx="66.53" cy="791.03" r="5.90" fill="#a9a9a9" stroke="#5cd43e" stroke-width="3.4"/>
<circle cx="71.86" cy="793.10" r="5.90" fill="#a9a9a9" stroke="#5cd43e" stroke-width="3.4"/>
<circle cx="77.19" cy="789.61" r="5.90" fill="#a9a9a9" stroke="#5cd43e" stroke-width="3.4"/>
<circle cx="82.52" cy="791.46" r="5.90" fill="#a9a9a9" stroke="#5cd43e" stroke-width="3.4"/>
<circle cx="87.85" cy="787.92" r="5.90" fill="#a9a9a9" stroke="#5cd43e" stroke-width="3.4"/>
<circle cx="93.18" cy="789.45" r="5.90" fill="#a9a9a9" stroke="#5cd43e" stroke-width="3.4"/>
<circle cx="98.51" cy="787.18" r="5.90" fill="#a9a9a9" stroke="#5cd43e" stroke-width="3.4"/>
<circle cx="103.84" cy="787.51" r="5.90" fill="#a9a9a9" stroke="#5cd43e" stroke-width="3.4"/>
<circle cx="109.17" cy="786.88" r="5.90" fill="#a9a9a9" stroke="#5cd43e" stroke-width="3.4"/>
<circle cx="114.50" cy="786.00" r="5.90" fill="#a9a9a9" stroke="#5cd43e" stroke-width="3.4"/>
<circle cx="119.83" cy="705.43" r="5.90" fill="#a9a9a9" stroke="#5cd43e" stroke-width="2.4"/>
<circle cx="125.16" cy="727.56" r="5.90" fill="#a9a9a9" stroke="#5cd43e" stroke-width="2.4"/>
<circle cx="130.49" cy="740.37" r="5.90" fill="#a9a9a9" stroke="#5cd43e" stroke-width="2.4"/>
<circle cx="135.82" cy="737.94" r="5.90" fill="#a9a9a9" stroke="#5cd43e" stroke-width="2.4"/>
<circle cx="141.15" cy="741.02" r="5.90" fill="#a9a9a9" stroke="#5cd43e" stroke-width="2.4"/>
<circle cx="146.48" cy="738.29" r="5.90" fill="#a9a9a9" stroke="#5cd43e" stroke-width="2.4"/>
<circle cx="151.81" cy="741.01" r="5.90" fill="#a9a9a9" stroke="#5cd43e" stroke-width="2.4"/>
<circle cx="157.14" cy="738.86" r="5.90" fill="#a9a9a9" stroke="#5cd43e" stroke-width="2.4"/>
<circle cx="162.47" cy="740.68" r="5.90" fill="#a9a9a9" stroke="#5cd43e" stroke-width="2.4"/>
<circle cx="167.80" cy="739.70" r="5.90" fill="#a9a9a9" stroke="#5cd43e" stroke-width="2.4"/>
<circle cx="173.13" cy="740.20" r="5.90" fill="#a9a9a9" stroke="#5cd43e" stroke-width="2.4"/>
<circle cx="178.46" cy="740.72" r="5.90" fill="#a9a9a9" stroke="#5cd43e" stroke-width="2.4"/>
<circle cx="183.79" cy="739.78" r="5.90" fill="#a9a9a9" stroke="#5cd43e" stroke-width="2.4"/>
<circle cx="189.12" cy="741.65" r="5.90" fill="#a9a9a9" stroke="#5cd43e" stroke-width="2.4"/>
<circle cx="194.45" cy="739.54" r="5.90" fill="#a9a9a9" stroke="#5cd43e" stroke-width="2.4"/>
<circle cx="199.78" cy="742.32" r="5.90" fill="#a9a9a9" stroke="#5cd43e" stroke-width="2.4"/>
<circle cx="205.11" cy="739.63" r="5.90" fill="#a9a9a9" stroke="#5cd43e" stroke-width="2.4"/>
<circle cx="210.44" cy="742.62" r="5.90" fill="#a9a9a9" stroke="#5cd43e" stroke-width="2.4"/>
<circle cx="215.77" cy="740.09" r="5.90" fill="#a9a9a9" stroke="#5cd43e" stroke-width="2.4"/>
<circle cx="221.10" cy="742.55" r="5.90" fill="#a9a9a9" stroke="#5cd43e" stroke-width="2.4"/>
<circle cx="226.43" cy="740.89" r="5.90" fill="#a9a9a9" stroke="#5cd43e" stroke-width="2.4"/>
<circle cx="231.76" cy="742.22" r="5.90" fill="#a9a9a9" stroke="#5cd43e" stroke-width="2.4"/>
<circle cx="237.09" cy="741.88" r="5.90" fill="#a9a9a9" stroke="#5cd43e" stroke-width="2.4"/>
<circle cx="242.42" cy="741.77" r="5.90" fill="#a9a9a9" stroke="#5cd43e" stroke-width="2.4"/>
<circle cx="247.75" cy="742.89" r="5.90" fill="#a9a9a9" stroke="#5cd43e" stroke-width="2.4"/>
<circle cx="253.08" cy="741.40" r="5.90" fill="#a9a9a9" stroke="#5cd43e" stroke-width="2.4"/>
<circle cx="258.41" cy="743.73" r="5.90" fill="#a9a9a9" stroke="#5cd43e" stroke-width="2.4"/>
<circle cx="263.74" cy="741.29" r="5.90" fill="#a9a9a9" stroke="#5cd43e" stroke-width="2.4"/>
<circle cx="269.07" cy="744.24" r="5.90" fill="#a9a9a9" stroke="#5cd43e" stroke-width="2.4"/>
<circle cx="274.40" cy="741.53" r="5.90" fill="#a9a9a9" stroke="#5cd43e" stroke-width="2.4"/>
<line x1="66.53" y1="791.03" x2="66.53" y2="788.15" stroke="#5cd43e" stroke-width="1.3" />
<line x1="64.13" y1="788.15" x2="68.93" y2="788.15" stroke="#5cd43e" stroke-width="1.6" />
<line x1="71.86" y1="793.10" x2="71.86" y2="790.22" stroke="#5cd43e" stroke-width="1.3" />
<line x1="69.46" y1="790.22" x2="74.26" y2="790.22" stroke="#5cd43e" stroke-width="1.6" />
<line x1="77.19" y1="789.61" x2="77.19" y2="786.72" stroke="#5cd43e" stroke-width="1.3" />
<line x1="74.79" y1="786.72" x2="79.59" y2="786.72" stroke="#5cd43e" stroke-width="1.6" />
<line x1="82.52" y1="791.46" x2="82.52" y2="788.57" stroke="#5cd43e" stroke-width="1.3" />
<line x1="80.12" y1="788.57" x2="84.92" y2="788.57" stroke="#5cd43e" stroke-width="1.6" />
<line x1="87.85" y1="787.92" x2="87.85" y2="785.03" stroke="#5cd43e" stroke-width="1.3" />
<line x1="85.45" y1="785.03" x2="90.25" y2="785.03" stroke="#5cd43e" stroke-width="1.6" />
<line x1="93.18" y1="789.45" x2="93.18" y2="786.56" stroke="#5cd43e" stroke-width="1.3" />
<line x1="90.78" y1="786.56" x2="95.58" y2="786.56" stroke="#5cd43e" stroke-width="1.6" />
<line x1="98.51" y1="787.18" x2="98.51" y2="784.30" stroke="#5cd43e" stroke-width="1.3" />
<line x1="96.11" y1="784.30" x2="100.91" y2="784.30" stroke="#5cd43e" stroke-width="1.6" />
<line x1="103.84" y1="787.51" x2="103.84" y2="784.62" stroke="#5cd43e" stroke-width="1.3" />
<line x1="101.44" y1="784.62" x2="106.24" y2="784.62" stroke="#5cd43e" stroke-width="1.6" />
<line x1="109.17" y1="786.88" x2="109.17" y2="783.99" stroke="#5cd43e" stroke-width="1.3" />
<line x1="106.77" y1="783.99" x2="111.57" y2="783.99" stroke="#5cd43e" stroke-width="1.6" />
<line x1="114.50" y1="786.00" x2="114.50" y2="783.12" stroke="#5cd43e" stroke-width="1.3" />
<line x1="112.10" y1="783.12" x2="116.90" y2="783.12" stroke="#5cd43e" stroke-width="1.6" />
<line x1="119.83" y1="705.43" x2="119.83" y2="676.19" stroke="#5cd43e" stroke-width="1.3" />
<line x1="117.43" y1="676.19" x2="122.23" y2="676.19" stroke="#5cd43e" stroke-width="1.6" />
<line x1="125.16" y1="727.56" x2="125.16" y2="723.71" stroke="#5cd43e" stroke-width="1.3" />
<line x1="122.76" y1="723.71" x2="127.56" y2="723.71" stroke="#5cd43e" stroke-width="1.6" />
<line x1="130.49" y1="740.37" x2="130.49" y2="736.52" stroke="#5cd43e" stroke-width="1.3" />
<line x1="128.09" y1="736.52" x2="132.89" y2="736.52" stroke="#5cd43e" stroke-width="1.6" />
<line x1="135.82" y1="737.94" x2="135.82" y2="734.09" stroke="#5cd43e" stroke-width="1.3" />
<line x1="133.42" y1="734.09" x2="138.22" y2="734.09" stroke="#5cd43e" stroke-width="1.6" />
<line x1="141.15" y1="741.02" x2="141.15" y2="737.18" stroke="#5cd43e" stroke-width="1.3" />
<line x1="138.75" y1="737.18" x2="143.55" y2="737.18" stroke="#5cd43e" stroke-width="1.6" />
<line x1="146.48" y1="738.29" x2="146.48" y2="734.44" stroke="#5cd43e" stroke-width="1.3" />
<line x1="144.08" y1="734.44" x2="148.88" y2="734.44" stroke="#5cd43e" stroke-width="1.6" />
<line x1="151.81" y1="741.01" x2="151.81" y2="737.16" stroke="#5cd43e" stroke-width="1.3" />
<line x1="149.41" y1="737.16" x2="154.21" y2="737.16" stroke="#5cd43e" stroke-width="1.6" />
<line x1="157.14" y1="738.86" x2="157.14" y2="735.01" stroke="#5cd43e" stroke-width="1.3" />
<line x1="154.74" y1="735.01" x2="159.54" y2="735.01" stroke="#5cd43e" stroke-width="1.6" />
<line x1="162.47" y1="740.68" x2="162.47" y2="736.83" stroke="#5cd43e" stroke-width="1.3" />
<line x1="160.07" y1="736.83" x2="164.87" y2="736.83" stroke="#5cd43e" stroke-width="1.6" />
<line x1="167.80" y1="739.70" x2="167.80" y2="735.85" stroke="#5cd43e" stroke-width="1.3" />
<line x1="165.40" y1="735.85" x2="170.20" y2="735.85" stroke="#5cd43e" stroke-width="1.6" />
<line x1="173.13" y1="740.20" x2="173.13" y2="736.36" stroke="#5cd43e" stroke-width="1.3" />
<line x1="170.73" y1="736.36" x2="175.53" y2="736.36" stroke="#5cd43e" stroke-width="1.6" />
<line x1="178.46" y1="740.72" x2="178.46" y2="736.87" stroke="#5cd43e" stroke-width="1.3" />
<line x1="176.06" y1="736.87" x2="180.86" y2="736.87" stroke="#5cd43e" stroke-width="1.6" />
<line x1="183.79" y1="739.78" x2="183.79" y2="735.93" stroke="#5cd43e" stroke-width="1.3" />
<line x1="181.39" y1="735.93" x2="186.19" y2="735.93" stroke="#5cd43e" stroke-width="1.6" />
<line x1="189.12" y1="741.65" x2="189.12" y2="737.80" stroke="#5cd43e" stroke-width="1.3" />
<line x1="186.72" y1="737.80" x2="191.52" y2="737.80" stroke="#5cd43e" stroke-width="1.6" />
<line x1="194.45" y1="739.54" x2="194.45" y2="735.69" stroke="#5cd43e" stroke-width="1.3" />
<line x1="192.05" y1="735.69" x2="196.85" y2="735.69" stroke="#5cd43e" stroke-width="1.6" />
<line x1="199.78" y1="742.32" x2="199.78" y2="738.47" stroke="#5cd43e" stroke-width="1.3" />
<line x1="197.38" y1="738.47" x2="202.18" y2="738.47" stroke="#5cd43e" stroke-width="1.6" />
<line x1="205.11" y1="739.63" x2="205.11" y2="735.78" stroke="#5cd43e" stroke-width="1.3" />
<line x1="202.71" y1="735.78" x2="207.51" y2="735.78" stroke="#5cd43e" stroke-width="1.6" />
<line x1="210.44" y1="742.62" x2="210.44" y2="738.77" stroke="#5cd43e" stroke-width="1.3" />
<line x1="208.04" y1="738.77" x2="212.84" y2="738.77" stroke="#5cd43e" stroke-width="1.6" />
<line x1="215.77" y1="740.09" x2="215.77" y2="736.25" stroke="#5cd43e" stroke-width="1.3" />
<line x1="213.37" y1="736.25" x2="218.17" y2="736.25" stroke="#5cd43e" stroke-width="1.6" />
<line x1="221.10" y1="742.55" x2="221.10" y2="738.71" stroke="#5cd43e" stroke-width="1.3" />
<line x1="218.70" y1="738.71" x2="223.50" y2="738.71" stroke="#5cd43e" stroke-width="1.6" />
<line x1="226.43" y1="740.89" x2="226.43" y2="737.04" stroke="#5cd43e" stroke-width="1.3" />
<line x1="224.03" y1="737.04" x2="228.83" y2="737.04" stroke="#5cd43e" stroke-width="1.6" />
<line x1="231.76" y1="742.22" x2="231.76" y2="738.37" stroke="#5cd43e" stroke-width="1.3" />
<line x1="229.36" y1="738.37" x2="234.16" y2="738.37" stroke="#5cd43e" stroke-width="1.6" />
<line x1="237.09" y1="741.88" x2="237.09" y2="738.03" stroke="#5cd43e" stroke-width="1.3" />
<line x1="234.69" y1="738.03" x2="239.49" y2="738.03" stroke="#5cd43e" stroke-width="1.6" />
<line x1="242.42" y1="741.77" x2="242.42" y2="737.92" stroke="#5cd43e" stroke-width="1.3" />
<line x1="240.02" y1="737.92" x2="244.82" y2="737.92" stroke="#5cd43e" stroke-width="1.6" />
<line x1="247.75" y1="742.89" x2="247.75" y2="739.04" stroke="#5cd43e" stroke-width="1.3" />
<line x1="245.35" y1="739.04" x2="250.15" y2="739.04" stroke="#5cd43e" stroke-width="1.6" />
<line x1="253.08" y1="741.40" x2="253.08" y2="737.55" stroke="#5cd43e" stroke-width="1.3" />
<line x1="250.68" y1="737.55" x2="255.48" y2="737.55" stroke="#5cd43e" stroke-width="1.6" />
<line x1="258.41" y1="743.73" x2="258.41" y2="739.88" stroke="#5cd43e" stroke-width="1.3" />
<line x1="256.01" y1="739.88" x2="260.81" y2="739.88" stroke="#5cd43e" stroke-width="1.6" />
<line x1="263.74" y1="741.29" x2="263.74" y2="737.44" stroke="#5cd43e" stroke-width="1.3" />
<line x1="261.34" y1="737.44" x2="266.14" y2="737.44" stroke="#5cd43e" stroke-width="1.6" />
<line x1="269.07" y1="744.24" x2="269.07" y2="740.40" stroke="#5cd43e" stroke-width="1.3" />
<line x1="266.67" y1="740.40" x2="271.47" y2="740.40" stroke="#5cd43e" stroke-width="1.6" />
<line x1="274.40" y1="741.53" x2="274.40" y2="737.69" stroke="#5cd43e" stroke-width="1.3" />
<line x1="272.00" y1="737.69" x2="276.80" y2="737.69" stroke="#5cd43e" stroke-width="1.6" />
<line x1="66.53" y1="791.03" x2="66.53" y2="793.94" stroke="#5cd43e" stroke-width="1.3" />
<line x1="64.13" y1="793.94" x2="68.93" y2="793.94" stroke="#5cd43e" stroke-width="1.6" />
<line x1="71.86" y1="793.10" x2="71.86" y2="796.04" stroke="#5cd43e" stroke-width="1.3" />
<line x1="69.46" y1="796.04" x2="74.26" y2="796.04" stroke="#5cd43e" stroke-width="1.6" />
<line x1="77.19" y1="789.61" x2="77.19" y2="792.57" stroke="#5cd43e" stroke-width="1.3" />
<line x1="74.79" y1="792.57" x2="79.59" y2="792.57" stroke="#5cd43e" stroke-width="1.6" />
<line x1="82.52" y1="791.46" x2="82.52" y2="794.44" stroke="#5cd43e" stroke-width="1.3" />
<line x1="80.12" y1="794.44" x2="84.92" y2="794.44" stroke="#5cd43e" stroke-width="1.6" />
<line x1="87.85" y1="787.92" x2="87.85" y2="790.92" stroke="#5cd43e" stroke-width="1.3" />
<line x1="85.45" y1="790.92" x2="90.25" y2="790.92" stroke="#5cd43e" stroke-width="1.6" />
<line x1="93.18" y1="789.45" x2="93.18" y2="792.48" stroke="#5cd43e" stroke-width="1.3" />
<line x1="90.78" y1="792.48" x2="95.58" y2="792.48" stroke="#5cd43e" stroke-width="1.6" />
<line x1="98.51" y1="787.18" x2="98.51" y2="790.24" stroke="#5cd43e" stroke-width="1.3" />
<line x1="96.11" y1="790.24" x2="100.91" y2="790.24" stroke="#5cd43e" stroke-width="1.6" />
<line x1="103.84" y1="787.51" x2="103.84" y2="790.59" stroke="#5cd43e" stroke-width="1.3" />
<line x1="101.44" y1="790.59" x2="106.24" y2="790.59" stroke="#5cd43e" stroke-width="1.6" />
<line x1="109.17" y1="786.88" x2="109.17" y2="789.98" stroke="#5cd43e" stroke-width="1.3" />
<line x1="106.77" y1="789.98" x2="111.57" y2="789.98" stroke="#5cd43e" stroke-width="1.6" />
<line x1="114.50" y1="786.00" x2="114.50" y2="789.13" stroke="#5cd43e" stroke-width="1.3" />
<line x1="112.10" y1="789.13" x2="116.90" y2="789.13" stroke="#5cd43e" stroke-width="1.6" />
<line x1="119.83" y1="705.43" x2="119.83" y2="708.58" stroke="#5cd43e" stroke-width="1.3" />
<line x1="117.43" y1="708.58" x2="122.23" y2="708.58" stroke="#5cd43e" stroke-width="1.6" />
<line x1="125.16" y1="727.56" x2="125.16" y2="730.73" stroke="#5cd43e" stroke-width="1.3" />
<line x1="122.76" y1="730.73" x2="127.56" y2="730.73" stroke="#5cd43e" stroke-width="1.6" />
<line x1="130.49" y1="740.37" x2="130.49" y2="743.57" stroke="#5cd43e" stroke-width="1.3" />
<line x1="128.09" y1="743.57" x2="132.89" y2="743.57" stroke="#5cd43e" stroke-width="1.6" />
<line x1="135.82" y1="737.94" x2="135.82" y2="741.16" stroke="#5cd43e" stroke-width="1.3" />
<line x1="133.42" y1="741.16" x2="138.22" y2="741.16" stroke="#5cd43e" stroke-width="1.6" />
<line x1="141.15" y1="741.02" x2="141.15" y2="744.27" stroke="#5cd43e" stroke-width="1.3" />
<line x1="138.75" y1="744.27" x2="143.55" y2="744.27" stroke="#5cd43e" stroke-width="1.6" />
<line x1="146.48" y1="738.29" x2="146.48" y2="741.56" stroke="#5cd43e" stroke-width="1.3" />
<line x1="144.08" y1="741.56" x2="148.88" y2="741.56" stroke="#5cd43e" stroke-width="1.6" />
<line x1="151.81" y1="741.01" x2="151.81" y2="744.31" stroke="#5cd43e" stroke-width="1.3" />
<line x1="149.41" y1="744.31" x2="154.21" y2="744.31" stroke="#5cd43e" stroke-width="1.6" />
<line x1="157.14" y1="738.86" x2="157.14" y2="742.18" stroke="#5cd43e" stroke-width="1.3" />
<line x1="154.74" y1="742.18" x2="159.54" y2="742.18" stroke="#5cd43e" stroke-width="1.6" />
<line x1="162.47" y1="740.68" x2="162.47" y2="744.02" stroke="#5cd43e" stroke-width="1.3" />
<line x1="160.07" y1="744.02" x2="164.87" y2="744.02" stroke="#5cd43e" stroke-width="1.6" />
<line x1="167.80" y1="739.70" x2="167.80" y2="743.06" stroke="#5cd43e" stroke-width="1.3" />
<line x1="165.40" y1="743.06" x2="170.20" y2="743.06" stroke="#5cd43e" stroke-width="1.6" />
<line x1="173.13" y1="740.20" x2="173.13" y2="743.59" stroke="#5cd43e" stroke-width="1.3" />
<line x1="170.73" y1="743.59" x2="175.53" y2="743.59" stroke="#5cd43e" stroke-width="1.6" />
<line x1="178.46" y1="740.72" x2="178.46" y2="744.14" stroke="#5cd43e" stroke-width="1.3" />
<line x1="176.06" y1="744.14" x2="180.86" y2="744.14" stroke="#5cd43e" stroke-width="1.6" />
<line x1="183.79" y1="739.78" x2="183.79" y2="743.22" stroke="#5cd43e" stroke-width="1.3" />
<line x1="181.39" y1="743.22" x2="186.19" y2="743.22" stroke="#5cd43e" stroke-width="1.6" />
<line x1="189.12" y1="741.65" x2="189.12" y2="745.11" stroke="#5cd43e" stroke-width="1.3" />
<line x1="186.72" y1="745.11" x2="191.52" y2="745.11" stroke="#5cd43e" stroke-width="1.6" />
<line x1="194.45" y1="739.54" x2="194.45" y2="743.03" stroke="#5cd43e" stroke-width="1.3" />
<line x1="192.05" y1="743.03" x2="196.85" y2="743.03" stroke="#5cd43e" stroke-width="1.6" />
<line x1="199.78" y1="742.32" x2="199.78" y2="745.83" stroke="#5cd43e" stroke-width="1.3" />
<line x1="197.38" y1="745.83" x2="202.18" y2="745.83" stroke="#5cd43e" stroke-width="1.6" />
<line x1="205.11" y1="739.63" x2="205.11" y2="743.16" stroke="#5cd43e" stroke-width="1.3" />
<line x1="202.71" y1="743.16" x2="207.51" y2="743.16" stroke="#5cd43e" stroke-width="1.6" />
<line x1="210.44" y1="742.62" x2="210.44" y2="746.18" stroke="#5cd43e" stroke-width="1.3" />
<line x1="208.04" y1="746.18" x2="212.84" y2="746.18" stroke="#5cd43e" stroke-width="1.6" />
<line x1="215.77" y1="740.09" x2="215.77" y2="743.68" stroke="#5cd43e" stroke-width="1.3" />
<line x1="213.37" y1="743.68" x2="218.17" y2="743.68" stroke="#5cd43e" stroke-width="1.6" />
<line x1="221.10" y1="742.55" x2="221.10" y2="746.16" stroke="#5cd43e" stroke-width="1.3" />
<line x1="218.70" y1="746.16" x2="223.50" y2="746.16" stroke="#5cd43e" stroke-width="1.6" />
<line x1="226.43" y1="740.89" x2="226.43" y2="744.52" stroke="#5cd43e" stroke-width="1.3" />
<line x1="224.03" y1="744.52" x2="228.83" y2="744.52" stroke="#5cd43e" stroke-width="1.6" />
<line x1="231.76" y1="742.22" x2="231.76" y2="745.87" stroke="#5cd43e" stroke-width="1.3" />
<line x1="229.36" y1="745.87" x2="234.16" y2="745.87" stroke="#5cd43e" stroke-width="1.6" />
<line x1="237.09" y1="741.88" x2="237.09" y2="745.56" stroke="#5cd43e" stroke-width="1.3" />
<line x1="234.69" y1="745.56" x2="239.49" y2="745.56" stroke="#5cd43e" stroke-width="1.6" />
<line x1="242.42" y1="741.77" x2="242.42" y2="745.47" stroke="#5cd43e" stroke-width="1.3" />
<line x1="240.02" y1="745.47" x2="244.82" y2="745.47" stroke="#5cd43e" stroke-width="1.6" />
<line x1="247.75" y1="742.89" x2="247.75" y2="746.62" stroke="#5cd43e" stroke-width="1.3" />
<line x1="245.35" y1="746.62" x2="250.15" y2="746.62" stroke="#5cd43e" stroke-width="1.6" />
<line x1="253.08" y1="741.40" x2="253.08" y2="745.15" stroke="#5cd43e" stroke-width="1.3" />
<line x1="250.68" y1="745.15" x2="255.48" y2="745.15" stroke="#5cd43e" stroke-width="1.6" />
<line x1="258.41" y1="743.73" x2="258.41" y2="747.50" stroke="#5cd43e" stroke-width="1.3" />
<line x1="256.01" y1="747.50" x2="260.81" y2="747.50" stroke="#5cd43e" stroke-width="1.6" />
<line x1="263.74" y1="741.29" x2="263.74" y2="745.09" stroke="#5cd43e" stroke-width="1.3" />
<line x1="261.34" y1="745.09" x2="266.14" y2="745.09" stroke="#5cd43e" stroke-width="1.6" />
<line x1="269.07" y1="744.24" x2="269.07" y2="748.07" stroke="#5cd43e" stroke-width="1.3" />
<line x1="266.67" y1="748.07" x2="271.47" y2="748.07" stroke="#5cd43e" stroke-width="1.6" />
<line x1="274.40" y1="741.53" x2="274.40" y2="745.38" stroke="#5cd43e" stroke-width="1.3" />
<line x1="272.00" y1="745.38" x2="276.80" y2="745.38" stroke="#5cd43e" stroke-width="1.6" />
<line x1="66.53" y1="783.66" x2="66.53" y2="780.77" stroke="#5cd43e" stroke-width="1.3" />
<line x1="64.13" y1="780.77" x2="68.93" y2="780.77" stroke="#5cd43e" stroke-width="1.6" />
<line x1="71.86" y1="785.81" x2="71.86" y2="782.92" stroke="#5cd43e" stroke-width="1.3" />
<line x1="69.46" y1="782.92" x2="74.26" y2="782.92" stroke="#5cd43e" stroke-width="1.6" />
<line x1="77.19" y1="785.86" x2="77.19" y2="782.98" stroke="#5cd43e" stroke-width="1.3" />
<line x1="74.79" y1="782.98" x2="79.59" y2="782.98" stroke="#5cd43e" stroke-width="1.6" />
<line x1="82.52" y1="786.91" x2="82.52" y2="784.02" stroke="#5cd43e" stroke-width="1.3" />
<line x1="80.12" y1="784.02" x2="84.92" y2="784.02" stroke="#5cd43e" stroke-width="1.6" />
<line x1="87.85" y1="787.21" x2="87.85" y2="784.32" stroke="#5cd43e" stroke-width="1.3" />
<line x1="85.45" y1="784.32" x2="90.25" y2="784.32" stroke="#5cd43e" stroke-width="1.6" />
<line x1="93.18" y1="787.00" x2="93.18" y2="784.11" stroke="#5cd43e" stroke-width="1.3" />
<line x1="90.78" y1="784.11" x2="95.58" y2="784.11" stroke="#5cd43e" stroke-width="1.6" />
<line x1="98.51" y1="787.59" x2="98.51" y2="784.70" stroke="#5cd43e" stroke-width="1.3" />
<line x1="96.11" y1="784.70" x2="100.91" y2="784.70" stroke="#5cd43e" stroke-width="1.6" />
<line x1="103.84" y1="786.66" x2="103.84" y2="783.77" stroke="#5cd43e" stroke-width="1.3" />
<line x1="101.44" y1="783.77" x2="106.24" y2="783.77" stroke="#5cd43e" stroke-width="1.6" />
<line x1="109.17" y1="787.86" x2="109.17" y2="784.98" stroke="#5cd43e" stroke-width="1.3" />
<line x1="106.77" y1="784.98" x2="111.57" y2="784.98" stroke="#5cd43e" stroke-width="1.6" />
<line x1="114.50" y1="786.46" x2="114.50" y2="783.57" stroke="#5cd43e" stroke-width="1.3" />
<line x1="112.10" y1="783.57" x2="116.90" y2="783.57" stroke="#5cd43e" stroke-width="1.6" />
<line x1="119.83" y1="675.80" x2="119.83" y2="655.60" stroke="#5cd43e" stroke-width="1.3" />
<line x1="117.43" y1="655.60" x2="122.23" y2="655.60" stroke="#5cd43e" stroke-width="1.6" />
<line x1="125.16" y1="710.24" x2="125.16" y2="691.48" stroke="#5cd43e" stroke-width="1.3" />
<line x1="122.76" y1="691.48" x2="127.56" y2="691.48" stroke="#5cd43e" stroke-width="1.6" />
<line x1="130.49" y1="723.42" x2="130.49" y2="711.88" stroke="#5cd43e" stroke-width="1.3" />
<line x1="128.09" y1="711.88" x2="132.89" y2="711.88" stroke="#5cd43e" stroke-width="1.6" />
<line x1="135.82" y1="724.11" x2="135.82" y2="712.71" stroke="#5cd43e" stroke-width="1.3" />
<line x1="133.42" y1="712.71" x2="138.22" y2="712.71" stroke="#5cd43e" stroke-width="1.6" />
<line x1="141.15" y1="726.61" x2="141.15" y2="715.34" stroke="#5cd43e" stroke-width="1.3" />
<line x1="138.75" y1="715.34" x2="143.55" y2="715.34" stroke="#5cd43e" stroke-width="1.6" />
<line x1="146.48" y1="727.34" x2="146.48" y2="716.20" stroke="#5cd43e" stroke-width="1.3" />
<line x1="144.08" y1="716.20" x2="148.88" y2="716.20" stroke="#5cd43e" stroke-width="1.6" />
<line x1="151.81" y1="728.93" x2="151.81" y2="717.93" stroke="#5cd43e" stroke-width="1.3" />
<line x1="149.41" y1="717.93" x2="154.21" y2="717.93" stroke="#5cd43e" stroke-width="1.6" />
<line x1="157.14" y1="730.42" x2="157.14" y2="719.57" stroke="#5cd43e" stroke-width="1.3" />
<line x1="154.74" y1="719.57" x2="159.54" y2="719.57" stroke="#5cd43e" stroke-width="1.6" />
<line x1="162.47" y1="731.14" x2="162.47" y2="720.42" stroke="#5cd43e" stroke-width="1.3" />
<line x1="160.07" y1="720.42" x2="164.87" y2="720.42" stroke="#5cd43e" stroke-width="1.6" />
<line x1="167.80" y1="733.27" x2="167.80" y2="722.69" stroke="#5cd43e" stroke-width="1.3" />
<line x1="165.40" y1="722.69" x2="170.20" y2="722.69" stroke="#5cd43e" stroke-width="1.6" />
<line x1="173.13" y1="734.56" x2="173.13" y2="724.26" stroke="#5cd43e" stroke-width="1.3" />
<line x1="170.73" y1="724.26" x2="175.53" y2="724.26" stroke="#5cd43e" stroke-width="1.6" />
<line x1="178.46" y1="738.39" x2="178.46" y2="728.38" stroke="#5cd43e" stroke-width="1.3" />
<line x1="176.06" y1="728.38" x2="180.86" y2="728.38" stroke="#5cd43e" stroke-width="1.6" />
<line x1="183.79" y1="737.25" x2="183.79" y2="727.53" stroke="#5cd43e" stroke-width="1.3" />
<line x1="181.39" y1="727.53" x2="186.19" y2="727.53" stroke="#5cd43e" stroke-width="1.6" />
<line x1="189.12" y1="739.13" x2="189.12" y2="729.70" stroke="#5cd43e" stroke-width="1.3" />
<line x1="186.72" y1="729.70" x2="191.52" y2="729.70" stroke="#5cd43e" stroke-width="1.6" />
<line x1="194.45" y1="738.05" x2="194.45" y2="728.91" stroke="#5cd43e" stroke-width="1.3" />
<line x1="192.05" y1="728.91" x2="196.85" y2="728.91" stroke="#5cd43e" stroke-width="1.6" />
<line x1="199.78" y1="739.68" x2="199.78" y2="730.83" stroke="#5cd43e" stroke-width="1.3" />
<line x1="197.38" y1="730.83" x2="202.18" y2="730.83" stroke="#5cd43e" stroke-width="1.6" />
<line x1="205.11" y1="738.89" x2="205.11" y2="730.33" stroke="#5cd43e" stroke-width="1.3" />
<line x1="202.71" y1="730.33" x2="207.51" y2="730.33" stroke="#5cd43e" stroke-width="1.6" />
<line x1="210.44" y1="739.79" x2="210.44" y2="731.51" stroke="#5cd43e" stroke-width="1.3" />
<line x1="208.04" y1="731.51" x2="212.84" y2="731.51" stroke="#5cd43e" stroke-width="1.6" />
<line x1="215.77" y1="739.70" x2="215.77" y2="731.71" stroke="#5cd43e" stroke-width="1.3" />
<line x1="213.37" y1="731.71" x2="218.17" y2="731.71" stroke="#5cd43e" stroke-width="1.6" />
<line x1="221.10" y1="739.83" x2="221.10" y2="732.13" stroke="#5cd43e" stroke-width="1.3" />
<line x1="218.70" y1="732.13" x2="223.50" y2="732.13" stroke="#5cd43e" stroke-width="1.6" />
<line x1="226.43" y1="740.52" x2="226.43" y2="732.92" stroke="#5cd43e" stroke-width="1.3" />
<line x1="224.03" y1="732.92" x2="228.83" y2="732.92" stroke="#5cd43e" stroke-width="1.6" />
<line x1="231.76" y1="739.91" x2="231.76" y2="732.41" stroke="#5cd43e" stroke-width="1.3" />
<line x1="229.36" y1="732.41" x2="234.16" y2="732.41" stroke="#5cd43e" stroke-width="1.6" />
<line x1="237.09" y1="741.26" x2="237.09" y2="733.85" stroke="#5cd43e" stroke-width="1.3" />
<line x1="234.69" y1="733.85" x2="239.49" y2="733.85" stroke="#5cd43e" stroke-width="1.6" />
<line x1="242.42" y1="740.23" x2="242.42" y2="732.92" stroke="#5cd43e" stroke-width="1.3" />
<line x1="240.02" y1="732.92" x2="244.82" y2="732.92" stroke="#5cd43e" stroke-width="1.6" />
<line x1="247.75" y1="742.16" x2="247.75" y2="734.94" stroke="#5cd43e" stroke-width="1.3" />
<line x1="245.35" y1="734.94" x2="250.15" y2="734.94" stroke="#5cd43e" stroke-width="1.6" />
<line x1="253.08" y1="741.07" x2="253.08" y2="733.95" stroke="#5cd43e" stroke-width="1.3" />
<line x1="250.68" y1="733.95" x2="255.48" y2="733.95" stroke="#5cd43e" stroke-width="1.6" />
<line x1="258.41" y1="742.97" x2="258.41" y2="735.94" stroke="#5cd43e" stroke-width="1.3" />
<line x1="256.01" y1="735.94" x2="260.81" y2="735.94" stroke="#5cd43e" stroke-width="1.6" />
<line x1="263.74" y1="742.11" x2="263.74" y2="735.18" stroke="#5cd43e" stroke-width="1.3" />
<line x1="261.34" y1="735.18" x2="266.14" y2="735.18" stroke="#5cd43e" stroke-width="1.6" />
<line x1="269.07" y1="743.59" x2="269.07" y2="736.76" stroke="#5cd43e" stroke-width="1.3" />
<line x1="266.67" y1="736.76" x2="271.47" y2="736.76" stroke="#5cd43e" stroke-width="1.6" />
<line x1="274.40" y1="744.40" x2="274.40" y2="737.67" stroke="#5cd43e" stroke-width="1.3" />
<line x1="272.00" y1="737.67" x2="276.80" y2="737.67" stroke="#5cd43e" stroke-width="1.6" />
<line x1="66.53" y1="783.66" x2="66.53" y2="786.64" stroke="#5cd43e" stroke-width="1.3" />
<line x1="64.13" y1="786.64" x2="68.93" y2="786.64" stroke="#5cd43e" stroke-width="1.6" />
<line x1="71.86" y1="785.81" x2="71.86" y2="788.89" stroke="#5cd43e" stroke-width="1.3" />
<line x1="69.46" y1="788.89" x2="74.26" y2="788.89" stroke="#5cd43e" stroke-width="1.6" />
<line x1="77.19" y1="785.86" x2="77.19" y2="789.04" stroke="#5cd43e" stroke-width="1.3" />
<line x1="74.79" y1="789.04" x2="79.59" y2="789.04" stroke="#5cd43e" stroke-width="1.6" />
<line x1="82.52" y1="786.91" x2="82.52" y2="790.18" stroke="#5cd43e" stroke-width="1.3" />
<line x1="80.12" y1="790.18" x2="84.92" y2="790.18" stroke="#5cd43e" stroke-width="1.6" />
<line x1="87.85" y1="787.21" x2="87.85" y2="790.57" stroke="#5cd43e" stroke-width="1.3" />
<line x1="85.45" y1="790.57" x2="90.25" y2="790.57" stroke="#5cd43e" stroke-width="1.6" />
<line x1="93.18" y1="787.00" x2="93.18" y2="790.46" stroke="#5cd43e" stroke-width="1.3" />
<line x1="90.78" y1="790.46" x2="95.58" y2="790.46" stroke="#5cd43e" stroke-width="1.6" />
<line x1="98.51" y1="787.59" x2="98.51" y2="791.15" stroke="#5cd43e" stroke-width="1.3" />
<line x1="96.11" y1="791.15" x2="100.91" y2="791.15" stroke="#5cd43e" stroke-width="1.6" />
<line x1="103.84" y1="786.66" x2="103.84" y2="790.31" stroke="#5cd43e" stroke-width="1.3" />
<line x1="101.44" y1="790.31" x2="106.24" y2="790.31" stroke="#5cd43e" stroke-width="1.6" />
<line x1="109.17" y1="787.86" x2="109.17" y2="791.62" stroke="#5cd43e" stroke-width="1.3" />
<line x1="106.77" y1="791.62" x2="111.57" y2="791.62" stroke="#5cd43e" stroke-width="1.6" />
<line x1="114.50" y1="786.46" x2="114.50" y2="790.31" stroke="#5cd43e" stroke-width="1.3" />
<line x1="112.10" y1="790.31" x2="116.90" y2="790.31" stroke="#5cd43e" stroke-width="1.6" />
<line x1="119.83" y1="675.80" x2="119.83" y2="679.74" stroke="#5cd43e" stroke-width="1.3" />
<line x1="117.43" y1="679.74" x2="122.23" y2="679.74" stroke="#5cd43e" stroke-width="1.6" />
<line x1="125.16" y1="710.24" x2="125.16" y2="714.28" stroke="#5cd43e" stroke-width="1.3" />
<line x1="122.76" y1="714.28" x2="127.56" y2="714.28" stroke="#5cd43e" stroke-width="1.6" />
<line x1="130.49" y1="723.42" x2="130.49" y2="727.56" stroke="#5cd43e" stroke-width="1.3" />
<line x1="128.09" y1="727.56" x2="132.89" y2="727.56" stroke="#5cd43e" stroke-width="1.6" />
<line x1="135.82" y1="724.11" x2="135.82" y2="728.35" stroke="#5cd43e" stroke-width="1.3" />
<line x1="133.42" y1="728.35" x2="138.22" y2="728.35" stroke="#5cd43e" stroke-width="1.6" />
<line x1="141.15" y1="726.61" x2="141.15" y2="730.94" stroke="#5cd43e" stroke-width="1.3" />
<line x1="138.75" y1="730.94" x2="143.55" y2="730.94" stroke="#5cd43e" stroke-width="1.6" />
<line x1="146.48" y1="727.34" x2="146.48" y2="731.76" stroke="#5cd43e" stroke-width="1.3" />
<line x1="144.08" y1="731.76" x2="148.88" y2="731.76" stroke="#5cd43e" stroke-width="1.6" />
<line x1="151.81" y1="728.93" x2="151.81" y2="733.45" stroke="#5cd43e" stroke-width="1.3" />
<line x1="149.41" y1="733.45" x2="154.21" y2="733.45" stroke="#5cd43e" stroke-width="1.6" />
<line x1="157.14" y1="730.42" x2="157.14" y2="735.04" stroke="#5cd43e" stroke-width="1.3" />
<line x1="154.74" y1="735.04" x2="159.54" y2="735.04" stroke="#5cd43e" stroke-width="1.6" />
<line x1="162.47" y1="731.14" x2="162.47" y2="735.86" stroke="#5cd43e" stroke-width="1.3" />
<line x1="160.07" y1="735.86" x2="164.87" y2="735.86" stroke="#5cd43e" stroke-width="1.6" />
<line x1="167.80" y1="733.27" x2="167.80" y2="738.08" stroke="#5cd43e" stroke-width="1.3" />
<line x1="165.40" y1="738.08" x2="170.20" y2="738.08" stroke="#5cd43e" stroke-width="1.6" />
<line x1="173.13" y1="734.56" x2="173.13" y2="739.46" stroke="#5cd43e" stroke-width="1.3" />
<line x1="170.73" y1="739.46" x2="175.53" y2="739.46" stroke="#5cd43e" stroke-width="1.6" />
<line x1="178.46" y1="738.39" x2="178.46" y2="743.39" stroke="#5cd43e" stroke-width="1.3" />
<line x1="176.06" y1="743.39" x2="180.86" y2="743.39" stroke="#5cd43e" stroke-width="1.6" />
<line x1="183.79" y1="737.25" x2="183.79" y2="742.35" stroke="#5cd43e" stroke-width="1.3" />
<line x1="181.39" y1="742.35" x2="186.19" y2="742.35" stroke="#5cd43e" stroke-width="1.6" />
<line x1="189.12" y1="739.13" x2="189.12" y2="744.33" stroke="#5cd43e" stroke-width="1.3" />
<line x1="186.72" y1="744.33" x2="191.52" y2="744.33" stroke="#5cd43e" stroke-width="1.6" />
<line x1="194.45" y1="738.05" x2="194.45" y2="743.34" stroke="#5cd43e" stroke-width="1.3" />
<line x1="192.05" y1="743.34" x2="196.85" y2="743.34" stroke="#5cd43e" stroke-width="1.6" />
<line x1="199.78" y1="739.68" x2="199.78" y2="745.06" stroke="#5cd43e" stroke-width="1.3" />
<line x1="197.38" y1="745.06" x2="202.18" y2="745.06" stroke="#5cd43e" stroke-width="1.6" />
<line x1="205.11" y1="738.89" x2="205.11" y2="744.37" stroke="#5cd43e" stroke-width="1.3" />
<line x1="202.71" y1="744.37" x2="207.51" y2="744.37" stroke="#5cd43e" stroke-width="1.6" />
<line x1="210.44" y1="739.79" x2="210.44" y2="745.37" stroke="#5cd43e" stroke-width="1.3" />
<line x1="208.04" y1="745.37" x2="212.84" y2="745.37" stroke="#5cd43e" stroke-width="1.6" />
<line x1="215.77" y1="739.70" x2="215.77" y2="745.37" stroke="#5cd43e" stroke-width="1.3" />
<line x1="213.37" y1="745.37" x2="218.17" y2="745.37" stroke="#5cd43e" stroke-width="1.6" />
<line x1="221.10" y1="739.83" x2="221.10" y2="745.60" stroke="#5cd43e" stroke-width="1.3" />
<line x1="218.70" y1="745.60" x2="223.50" y2="745.60" stroke="#5cd43e" stroke-width="1.6" />
<line x1="226.43" y1="740.52" x2="226.43" y2="746.39" stroke="#5cd43e" stroke-width="1.3" />
<line x1="224.03" y1="746.39" x2="228.83" y2="746.39" stroke="#5cd43e" stroke-width="1.6" />
<line x1="231.76" y1="739.91" x2="231.76" y2="745.88" stroke="#5cd43e" stroke-width="1.3" />
<line x1="229.36" y1="745.88" x2="234.16" y2="745.88" stroke="#5cd43e" stroke-width="1.6" />
<line x1="237.09" y1="741.26" x2="237.09" y2="747.32" stroke="#5cd43e" stroke-width="1.3" />
<line x1="234.69" y1="747.32" x2="239.49" y2="747.32" stroke="#5cd43e" stroke-width="1.6" />
<line x1="242.42" y1="740.23" x2="242.42" y2="746.39" stroke="#5cd43e" stroke-width="1.3" />
<line x1="240.02" y1="746.39" x2="244.82" y2="746.39" stroke="#5cd43e" stroke-width="1.6" />
<line x1="247.75" y1="742.16" x2="247.75" y2="748.41" stroke="#5cd43e" stroke-width="1.3" />
<line x1="245.35" y1="748.41" x2="250.15" y2="748.41" stroke="#5cd43e" stroke-width="1.6" />
<line x1="253.08" y1="741.07" x2="253.08" y2="747.42" stroke="#5cd43e" stroke-width="1.3" />
<line x1="250.68" y1="747.42" x2="255.48" y2="747.42" stroke="#5cd43e" stroke-width="1.6" />
<line x1="258.41" y1="742.97" x2="258.41" y2="749.41" stroke="#5cd43e" stroke-width="1.3" />
<line x1="256.01" y1="749.41" x2="260.81" y2="749.41" stroke="#5cd43e" stroke-width="1.6" />
<line x1="263.74" y1="742.11" x2="263.74" y2="748.65" stroke="#5cd43e" stroke-width="1.3" />
<line x1="261.34" y1="748.65" x2="266.14" y2="748.65" stroke="#5cd43e" stroke-width="1.6" />
<line x1="269.07" y1="743.59" x2="269.07" y2="750.23" stroke="#5cd43e" stroke-width="1.3" />
<line x1="266.67" y1="750.23" x2="271.47" y2="750.23" stroke="#5cd43e" stroke-width="1.6" />
<line x1="274.40" y1="744.40" x2="274.40" y2="751.13" stroke="#5cd43e" stroke-width="1.3" />
<line x1="272.00" y1="751.13" x2="276.80" y2="751.13" stroke="#5cd43e" stroke-width="1.6" />
<circle cx="66.53" cy="783.66" r="5.90" fill="#0808d8" stroke="#5cd43e" stroke-width="3.4"/>
<circle cx="66.53" cy="783.66" r="3.60" fill="none" stroke="#141490" stroke-width="1.3"/>
<circle cx="71.86" cy="785.81" r="5.90" fill="#0808d8" stroke="#5cd43e" stroke-width="3.4"/>
<circle cx="71.86" cy="785.81" r="3.60" fill="none" stroke="#141490" stroke-width="1.3"/>
<circle cx="77.19" cy="785.86" r="5.90" fill="#0808d8" stroke="#5cd43e" stroke-width="3.4"/>
<circle cx="77.19" cy="785.86" r="3.60" fill="none" stroke="#141490" stroke-width="1.3"/>
<circle cx="82.52" cy="786.91" r="5.90" fill="#0808d8" stroke="#5cd43e" stroke-width="3.4"/>
<circle cx="82.52" cy="786.91" r="3.60" fill="none" stroke="#141490" stroke-width="1.3"/>
<circle cx="87.85" cy="787.21" r="5.90" fill="#0808d8" stroke="#5cd43e" stroke-width="3.4"/>
<circle cx="87.85" cy="787.21" r="3.60" fill="none" stroke="#141490" stroke-width="1.3"/>
<circle cx="93.18" cy="787.00" r="5.90" fill="#0808d8" stroke="#5cd43e" stroke-width="3.4"/>
<circle cx="93.18" cy="787.00" r="3.60" fill="none" stroke="#141490" stroke-width="1.3"/>
<circle cx="98.51" cy="787.59" r="5.90" fill="#0808d8" stroke="#5cd43e" stroke-width="3.4"/>
<circle cx="98.51" cy="787.59" r="3.60" fill="none" stroke="#141490" stroke-width="1.3"/>
<circle cx="103.84" cy="786.66" r="5.90" fill="#0808d8" stroke="#5cd43e" stroke-width="3.4"/>
<circle cx="103.84" cy="786.66" r="3.60" fill="none" stroke="#141490" stroke-width="1.3"/>
<circle cx="109.17" cy="787.86" r="5.90" fill="#0808d8" stroke="#5cd43e" stroke-width="3.4"/>
<circle cx="109.17" cy="787.86" r="3.60" fill="none" stroke="#141490" stroke-width="1.3"/>
<circle cx="114.50" cy="786.46" r="5.90" fill="#0808d8" stroke="#5cd43e" stroke-width="3.4"/>
<circle cx="114.50" cy="786.46" r="3.60" fill="none" stroke="#141490" stroke-width="1.3"/>
<circle cx="119.83" cy="675.80" r="5.90" fill="#0808d8" stroke="#5cd43e" stroke-width="2.4"/>
<circle cx="119.83" cy="675.80" r="4.10" fill="none" stroke="#141490" stroke-width="1.3"/>
<circle cx="125.16" cy="710.24" r="5.90" fill="#0808d8" stroke="#5cd43e" stroke-width="2.4"/>
<circle cx="125.16" cy="710.24" r="4.10" fill="none" stroke="#141490" stroke-width="1.3"/>
<circle cx="130.49" cy="723.42" r="5.90" fill="#0808d8" stroke="#5cd43e" stroke-width="2.4"/>
<circle cx="130.49" cy="723.42" r="4.10" fill="none" stroke="#141490" stroke-width="1.3"/>
<circle cx="135.82" cy="724.11" r="5.90" fill="#0808d8" stroke="#5cd43e" stroke-width="2.4"/>
<circle cx="135.82" cy="724.11" r="4.10" fill="none" stroke="#141490" stroke-width="1.3"/>
<circle cx="141.15" cy="726.61" r="5.90" fill="#0808d8" stroke="#5cd43e" stroke-width="2.4"/>
<circle cx="141.15" cy="726.61" r="4.10" fill="none" stroke="#141490" stroke-width="1.3"/>
<circle cx="146.48" cy="727.34" r="5.90" fill="#0808d8" stroke="#5cd43e" stroke-width="2.4"/>
<circle cx="146.48" cy="727.34" r="4.10" fill="none" stroke="#141490" stroke-width="1.3"/>
<circle cx="151.81" cy="728.93" r="5.90" fill="#0808d8" stroke="#5cd43e" stroke-width="2.4"/>
<circle cx="151.81" cy="728.93" r="4.10" fill="none" stroke="#141490" stroke-width="1.3"/>
<circle cx="157.14" cy="730.42" r="5.90" fill="#0808d8" stroke="#5cd43e" stroke-width="2.4"/>
<circle cx="157.14" cy="730.42" r="4.10" fill="none" stroke="#141490" stroke-width="1.3"/>
<circle cx="162.47" cy="731.14" r="5.90" fill="#0808d8" stroke="#5cd43e" stroke-width="2.4"/>
<circle cx="162.47" cy="731.14" r="4.10" fill="none" stroke="#141490" stroke-width="1.3"/>
<circle cx="167.80" cy="733.27" r="5.90" fill="#0808d8" stroke="#5cd43e" stroke-width="2.4"/>
<circle cx="167.80" cy="733.27" r="4.10" fill="none" stroke="#141490" stroke-width="1.3"/>
<circle cx="173.13" cy="734.56" r="5.90" fill="#0808d8" stroke="#5cd43e" stroke-width="2.4"/>
<circle cx="173.13" cy="734.56" r="4.10" fill="none" stroke="#141490" stroke-width="1.3"/>
<circle cx="178.46" cy="738.39" r="5.90" fill="#0808d8" stroke="#5cd43e" stroke-width="2.4"/>
<circle cx="178.46" cy="738.39" r="4.10" fill="none" stroke="#141490" stroke-width="1.3"/>
<circle cx="183.79" cy="737.25" r="5.90" fill="#0808d8" stroke="#5cd43e" stroke-width="2.4"/>
<circle cx="183.79" cy="737.25" r="4.10" fill="none" stroke="#141490" stroke-width="1.3"/>
<circle cx="189.12" cy="739.13" r="5.90" fill="#0808d8" stroke="#5cd43e" stroke-width="2.4"/>
<circle cx="189.12" cy="739.13" r="4.10" fill="none" stroke="#141490" stroke-width="1.3"/>
<circle cx="194.45" cy="738.05" r="5.90" fill="#0808d8" stroke="#5cd43e" stroke-width="2.4"/>
<circle cx="194.45" cy="738.05" r="4.10" fill="none" stroke="#141490" stroke-width="1.3"/>
<circle cx="199.78" cy="739.68" r="5.90" fill="#0808d8" stroke="#5cd43e" stroke-width="2.4"/>
<circle cx="199.78" cy="739.68" r="4.10" fill="none" stroke="#141490" stroke-width="1.3"/>
<circle cx="205.11" cy="738.89" r="5.90" fill="#0808d8" stroke="#5cd43e" stroke-width="2.4"/>
<circle cx="205.11" cy="738.89" r="4.10" fill="none" stroke="#141490" stroke-width="1.3"/>
<circle cx="210.44" cy="739.79" r="5.90" fill="#0808d8" stroke="#5cd43e" stroke-width="2.4"/>
<circle cx="210.44" cy="739.79" r="4.10" fill="none" stroke="#141490" stroke-width="1.3"/>
<circle cx="215.77" cy="739.70" r="5.90" fill="#0808d8" stroke="#5cd43e" stroke-width="2.4"/>
<circle cx="215.77" cy="739.70" r="4.10" fill="none" stroke="#141490" stroke-width="1.3"/>
<circle cx="221.10" cy="739.83" r="5.90" fill="#0808d8" stroke="#5cd43e" stroke-width="2.4"/>
<circle cx="221.10" cy="739.83" r="4.10" fill="none" stroke="#141490" stroke-width="1.3"/>
<circle cx="226.43" cy="740.52" r="5.90" fill="#0808d8" stroke="#5cd43e" stroke-width="2.4"/>
<circle cx="226.43" cy="740.52" r="4.10" fill="none" stroke="#141490" stroke-width="1.3"/>
<circle cx="231.76" cy="739.91" r="5.90" fill="#0808d8" stroke="#5cd43e" stroke-width="2.4"/>
<circle cx="231.76" cy="739.91" r="4.10" fill="none" stroke="#141490" stroke-width="1.3"/>
<circle cx="237.09" cy="741.26" r="5.90" fill="#0808d8" stroke="#5cd43e" stroke-width="2.4"/>
<circle cx="237.09" cy="741.26" r="4.10" fill="none" stroke="#141490" stroke-width="1.3"/>
<circle cx="242.42" cy="740.23" r="5.90" fill="#0808d8" stroke="#5cd43e" stroke-width="2.4"/>
<circle cx="242.42" cy="740.23" r="4.10" fill="none" stroke="#141490" stroke-width="1.3"/>
<circle cx="247.75" cy="742.16" r="5.90" fill="#0808d8" stroke="#5cd43e" stroke-width="2.4"/>
<circle cx="247.75" cy="742.16" r="4.10" fill="none" stroke="#141490" stroke-width="1.3"/>
<circle cx="253.08" cy="741.07" r="5.90" fill="#0808d8" stroke="#5cd43e" stroke-width="2.4"/>
<circle cx="253.08" cy="741.07" r="4.10" fill="none" stroke="#141490" stroke-width="1.3"/>
<circle cx="258.41" cy="742.97" r="5.90" fill="#0808d8" stroke="#5cd43e" stroke-width="2.4"/>
<circle cx="258.41" cy="742.97" r="4.10" fill="none" stroke="#141490" stroke-width="1.3"/>
<circle cx="263.74" cy="742.11" r="5.90" fill="#0808d8" stroke="#5cd43e" stroke-width="2.4"/>
<circle cx="263.74" cy="742.11" r="4.10" fill="none" stroke="#141490" stroke-width="1.3"/>
<circle cx="269.07" cy="743.59" r="5.90" fill="#0808d8" stroke="#5cd43e" stroke-width="2.4"/>
<circle cx="269.07" cy="743.59" r="4.10" fill="none" stroke="#141490" stroke-width="1.3"/>
<circle cx="274.40" cy="744.40" r="5.90" fill="#0808d8" stroke="#5cd43e" stroke-width="2.4"/>
<circle cx="274.40" cy="744.40" r="4.10" fill="none" stroke="#141490" stroke-width="1.3"/>
<line x1="61.20" y1="642.30" x2="61.20" y2="836.20" stroke="#000" stroke-width="1.8" />
<line x1="60.30" y1="835.30" x2="289.80" y2="835.30" stroke="#000" stroke-width="2.0" />
<line x1="57.40" y1="835.30" x2="61.20" y2="835.30" stroke="#000" stroke-width="1.6" />
<text x="54.40" y="840.30" font-size="16.00" fill="#0a0a0a" text-anchor="end" textLength="18.18" lengthAdjust="spacingAndGlyphs"  stroke="#0a0a0a" stroke-width="0.25">50</text>
<line x1="59.00" y1="811.25" x2="61.20" y2="811.25" stroke="#000" stroke-width="1.4" />
<line x1="57.40" y1="787.20" x2="61.20" y2="787.20" stroke="#000" stroke-width="1.6" />
<text x="54.40" y="792.20" font-size="16.00" fill="#0a0a0a" text-anchor="end" textLength="27.48" lengthAdjust="spacingAndGlyphs"  stroke="#0a0a0a" stroke-width="0.25">100</text>
<line x1="59.00" y1="763.15" x2="61.20" y2="763.15" stroke="#000" stroke-width="1.4" />
<line x1="57.40" y1="739.10" x2="61.20" y2="739.10" stroke="#000" stroke-width="1.6" />
<text x="54.40" y="744.10" font-size="16.00" fill="#0a0a0a" text-anchor="end" textLength="27.48" lengthAdjust="spacingAndGlyphs"  stroke="#0a0a0a" stroke-width="0.25">150</text>
<line x1="59.00" y1="715.05" x2="61.20" y2="715.05" stroke="#000" stroke-width="1.4" />
<line x1="57.40" y1="691.00" x2="61.20" y2="691.00" stroke="#000" stroke-width="1.6" />
<text x="54.40" y="696.00" font-size="16.00" fill="#0a0a0a" text-anchor="end" textLength="27.48" lengthAdjust="spacingAndGlyphs"  stroke="#0a0a0a" stroke-width="0.25">200</text>
<line x1="59.00" y1="666.95" x2="61.20" y2="666.95" stroke="#000" stroke-width="1.4" />
<line x1="57.40" y1="642.90" x2="61.20" y2="642.90" stroke="#000" stroke-width="1.6" />
<text x="54.40" y="647.90" font-size="16.00" fill="#0a0a0a" text-anchor="end" textLength="27.48" lengthAdjust="spacingAndGlyphs"  stroke="#0a0a0a" stroke-width="0.25">250</text>
<line x1="61.20" y1="835.30" x2="61.20" y2="839.10" stroke="#000" stroke-width="1.6" />
<text x="60.90" y="854.32" font-size="16.00" fill="#0a0a0a" text-anchor="middle" textLength="8.78" lengthAdjust="spacingAndGlyphs"  stroke="#0a0a0a" stroke-width="0.25">0</text>
<line x1="87.85" y1="835.30" x2="87.85" y2="837.70" stroke="#000" stroke-width="1.4" />
<line x1="114.50" y1="835.30" x2="114.50" y2="839.10" stroke="#000" stroke-width="1.6" />
<text x="114.20" y="854.32" font-size="16.00" fill="#0a0a0a" text-anchor="middle" textLength="18.81" lengthAdjust="spacingAndGlyphs"  stroke="#0a0a0a" stroke-width="0.25">20</text>
<line x1="141.15" y1="835.30" x2="141.15" y2="837.70" stroke="#000" stroke-width="1.4" />
<line x1="167.80" y1="835.30" x2="167.80" y2="839.10" stroke="#000" stroke-width="1.6" />
<text x="167.50" y="854.32" font-size="16.00" fill="#0a0a0a" text-anchor="middle" textLength="18.81" lengthAdjust="spacingAndGlyphs"  stroke="#0a0a0a" stroke-width="0.25">40</text>
<line x1="194.45" y1="835.30" x2="194.45" y2="837.70" stroke="#000" stroke-width="1.4" />
<line x1="221.10" y1="835.30" x2="221.10" y2="839.10" stroke="#000" stroke-width="1.6" />
<text x="220.80" y="854.32" font-size="16.00" fill="#0a0a0a" text-anchor="middle" textLength="18.81" lengthAdjust="spacingAndGlyphs"  stroke="#0a0a0a" stroke-width="0.25">60</text>
<line x1="247.75" y1="835.30" x2="247.75" y2="837.70" stroke="#000" stroke-width="1.4" />
<line x1="274.40" y1="835.30" x2="274.40" y2="839.10" stroke="#000" stroke-width="1.6" />
<text x="274.10" y="854.32" font-size="16.00" fill="#0a0a0a" text-anchor="middle" textLength="18.81" lengthAdjust="spacingAndGlyphs"  stroke="#0a0a0a" stroke-width="0.25">80</text>
<line x1="63.30" y1="787.20" x2="290.30" y2="787.20" stroke="#000" stroke-width="1.8" stroke-dasharray="8.99 9.51"/>
<path d="M118.40,794.80 L114.90,807.30 L121.90,807.30 Z" fill="#000"/>
<line x1="118.40" y1="806.30" x2="118.40" y2="814.50" stroke="#000" stroke-width="1.8" />
<text x="103.90" y="828.60" font-size="14.80" fill="#0a0a0a" text-anchor="start" textLength="29.00" lengthAdjust="spacingAndGlyphs"  stroke="#0a0a0a" stroke-width="0.25">HFS</text>
<line x1="63.80" y1="629.00" x2="102.70" y2="629.00" stroke="#5cd43e" stroke-width="1.7" />
<circle cx="83.60" cy="629.00" r="5.85" fill="#a9a9a9" stroke="#5cd43e" stroke-width="1.9"/>
<text x="106.70" y="635.46" font-size="16.20" fill="#66d050" text-anchor="start" textLength="24.90" lengthAdjust="spacingAndGlyphs"  stroke="#66d050" stroke-width="0.25">CA</text>
<text x="137.90" y="635.46" font-size="16.20" fill="#0a0a0a" text-anchor="start" textLength="34.30" lengthAdjust="spacingAndGlyphs"  stroke="#0a0a0a" stroke-width="0.25">Dark</text>
<line x1="63.80" y1="650.90" x2="102.70" y2="650.90" stroke="#5cd43e" stroke-width="1.7" />
<circle cx="83.60" cy="650.90" r="5.85" fill="#0808d8" stroke="#5cd43e" stroke-width="1.9"/>
<text x="106.70" y="657.36" font-size="16.20" fill="#66d050" text-anchor="start" textLength="24.90" lengthAdjust="spacingAndGlyphs"  stroke="#66d050" stroke-width="0.25">CA</text>
<text x="137.90" y="657.36" font-size="16.20" fill="#2a2aa6" text-anchor="start" textLength="37.00" lengthAdjust="spacingAndGlyphs"  stroke="#2a2aa6" stroke-width="0.25">Light</text>
<text x="306.60" y="614.80" font-size="25.50" fill="#000" text-anchor="start" textLength="7.40" lengthAdjust="spacingAndGlyphs" stroke="#000" stroke-width="0.3">f</text>
<text x="0" y="0" font-size="17" fill="#0a0a0a" stroke="#0a0a0a" stroke-width="0.25" text-anchor="middle" textLength="205" lengthAdjust="spacingAndGlyphs" transform="translate(321.1,740.6) rotate(-90)">fEPSP (% of baseline)</text>
<line x1="380.80" y1="809.30" x2="380.80" y2="800.20" stroke="#000" stroke-width="1.5" />
<line x1="378.50" y1="800.20" x2="383.10" y2="800.20" stroke="#000" stroke-width="1.8" />
<rect x="373.60" y="807.30" width="14.40" height="28.30" fill="#111" rx="2.2"/>
<rect x="377.30" y="811.00" width="7.00" height="23.60" fill="#a9a9a9"/>
<line x1="402.65" y1="696.20" x2="402.65" y2="661.50" stroke="#000" stroke-width="1.5" />
<line x1="400.35" y1="661.50" x2="404.95" y2="661.50" stroke="#000" stroke-width="1.8" />
<rect x="395.70" y="694.20" width="13.90" height="141.40" fill="#111" rx="2.2"/>
<rect x="399.40" y="697.90" width="6.50" height="136.70" fill="#0a0af0"/>
<line x1="445.25" y1="809.30" x2="445.25" y2="774.50" stroke="#000" stroke-width="1.5" />
<line x1="442.95" y1="774.50" x2="447.55" y2="774.50" stroke="#000" stroke-width="1.8" />
<rect x="438.00" y="807.30" width="14.50" height="28.30" fill="#1d4f98" rx="2.2"/>
<rect x="441.70" y="811.00" width="7.10" height="23.60" fill="#a9a9a9"/>
<line x1="467.15" y1="800.90" x2="467.15" y2="786.30" stroke="#000" stroke-width="1.5" />
<line x1="464.85" y1="786.30" x2="469.45" y2="786.30" stroke="#000" stroke-width="1.8" />
<rect x="460.30" y="798.90" width="13.70" height="36.70" fill="#1d4f98" rx="2.2"/>
<rect x="464.00" y="802.60" width="6.30" height="32.00" fill="#0a0af0"/>
<line x1="510.10" y1="795.20" x2="510.10" y2="772.40" stroke="#000" stroke-width="1.5" />
<line x1="507.80" y1="772.40" x2="512.40" y2="772.40" stroke="#000" stroke-width="1.8" />
<rect x="502.70" y="793.20" width="14.80" height="42.40" fill="#9a1450" rx="2.2"/>
<rect x="506.40" y="796.90" width="7.40" height="37.70" fill="#a9a9a9"/>
<line x1="532.35" y1="810.00" x2="532.35" y2="795.30" stroke="#000" stroke-width="1.5" />
<line x1="530.05" y1="795.30" x2="534.65" y2="795.30" stroke="#000" stroke-width="1.8" />
<rect x="525.00" y="808.00" width="14.70" height="27.60" fill="#9a1450" rx="2.2"/>
<rect x="528.70" y="811.70" width="7.30" height="22.90" fill="#0a0af0"/>
<line x1="574.95" y1="805.40" x2="574.95" y2="784.50" stroke="#000" stroke-width="1.5" />
<line x1="572.65" y1="784.50" x2="577.25" y2="784.50" stroke="#000" stroke-width="1.8" />
<rect x="567.50" y="803.40" width="14.90" height="32.20" fill="#0f6e14" rx="2.2"/>
<rect x="571.20" y="807.10" width="7.50" height="27.50" fill="#a9a9a9"/>
<line x1="597.10" y1="715.70" x2="597.10" y2="678.80" stroke="#000" stroke-width="1.5" />
<line x1="594.80" y1="678.80" x2="599.40" y2="678.80" stroke="#000" stroke-width="1.8" />
<rect x="589.70" y="713.70" width="14.80" height="121.90" fill="#0f6e14" rx="2.2"/>
<rect x="593.40" y="717.40" width="7.40" height="117.20" fill="#0a0af0"/>
<line x1="639.75" y1="711.50" x2="639.75" y2="678.80" stroke="#000" stroke-width="1.5" />
<line x1="637.45" y1="678.80" x2="642.05" y2="678.80" stroke="#000" stroke-width="1.8" />
<rect x="632.30" y="709.50" width="14.90" height="126.10" fill="#5fd445" rx="2.2"/>
<rect x="636.00" y="713.20" width="7.50" height="121.40" fill="#a9a9a9"/>
<line x1="661.90" y1="723.00" x2="661.90" y2="694.30" stroke="#000" stroke-width="1.5" />
<line x1="659.60" y1="694.30" x2="664.20" y2="694.30" stroke="#000" stroke-width="1.8" />
<rect x="654.50" y="721.00" width="14.80" height="114.60" fill="#5fd445" rx="2.2"/>
<rect x="658.20" y="724.70" width="7.40" height="109.90" fill="#0a0af0"/>
<line x1="532.40" y1="808.00" x2="532.40" y2="824.00" stroke="#000" stroke-width="1.3" />
<line x1="530.40" y1="824.00" x2="534.40" y2="824.00" stroke="#000" stroke-width="1.4" />
<line x1="354.4" y1="802.8" x2="674" y2="802.8" stroke="#000" stroke-width="1.8" stroke-dasharray="8 7.94"/>
<line x1="353.40" y1="643.70" x2="353.40" y2="835.50" stroke="#000" stroke-width="1.8" />
<line x1="352.50" y1="834.60" x2="681.50" y2="834.60" stroke="#000" stroke-width="2.0" />
<line x1="350.40" y1="834.60" x2="353.40" y2="834.60" stroke="#000" stroke-width="1.6" />
<text x="347.60" y="839.80" font-size="16.00" fill="#0a0a0a" text-anchor="end" textLength="21.40" lengthAdjust="spacingAndGlyphs"  stroke="#0a0a0a" stroke-width="0.25">110</text>
<line x1="350.40" y1="802.88" x2="353.40" y2="802.88" stroke="#000" stroke-width="1.6" />
<text x="347.60" y="808.08" font-size="16.00" fill="#0a0a0a" text-anchor="end" textLength="21.40" lengthAdjust="spacingAndGlyphs"  stroke="#0a0a0a" stroke-width="0.25">120</text>
<line x1="350.40" y1="771.17" x2="353.40" y2="771.17" stroke="#000" stroke-width="1.6" />
<text x="347.60" y="776.37" font-size="16.00" fill="#0a0a0a" text-anchor="end" textLength="21.40" lengthAdjust="spacingAndGlyphs"  stroke="#0a0a0a" stroke-width="0.25">130</text>
<line x1="350.40" y1="739.45" x2="353.40" y2="739.45" stroke="#000" stroke-width="1.6" />
<text x="347.60" y="744.65" font-size="16.00" fill="#0a0a0a" text-anchor="end" textLength="21.40" lengthAdjust="spacingAndGlyphs"  stroke="#0a0a0a" stroke-width="0.25">140</text>
<line x1="350.40" y1="707.73" x2="353.40" y2="707.73" stroke="#000" stroke-width="1.6" />
<text x="347.60" y="712.93" font-size="16.00" fill="#0a0a0a" text-anchor="end" textLength="21.40" lengthAdjust="spacingAndGlyphs"  stroke="#0a0a0a" stroke-width="0.25">150</text>
<line x1="350.40" y1="676.02" x2="353.40" y2="676.02" stroke="#000" stroke-width="1.6" />
<text x="347.60" y="681.22" font-size="16.00" fill="#0a0a0a" text-anchor="end" textLength="21.40" lengthAdjust="spacingAndGlyphs"  stroke="#0a0a0a" stroke-width="0.25">160</text>
<line x1="350.40" y1="644.30" x2="353.40" y2="644.30" stroke="#000" stroke-width="1.6" />
<text x="347.60" y="649.50" font-size="16.00" fill="#0a0a0a" text-anchor="end" textLength="21.40" lengthAdjust="spacingAndGlyphs"  stroke="#0a0a0a" stroke-width="0.25">170</text>
<text x="376.80" y="853.40" font-size="17.50" fill="#0a0a0a" text-anchor="start" textLength="22.20" lengthAdjust="spacingAndGlyphs"  stroke="#0a0a0a" stroke-width="0.25">WT</text>
<text x="443.80" y="853.40" font-size="17.50" fill="#0a0a0a" text-anchor="start" textLength="21.80" lengthAdjust="spacingAndGlyphs"  stroke="#0a0a0a" stroke-width="0.25">KO</text>
<text x="510.80" y="853.40" font-size="17.50" fill="#0a0a0a" text-anchor="start" textLength="20.80" lengthAdjust="spacingAndGlyphs"  stroke="#0a0a0a" stroke-width="0.25">DN</text>
<text x="571.60" y="853.40" font-size="17.50" fill="#0a0a0a" text-anchor="start" textLength="27.80" lengthAdjust="spacingAndGlyphs"  stroke="#0a0a0a" stroke-width="0.25">CTL</text>
<text x="640.00" y="853.40" font-size="17.50" fill="#0a0a0a" text-anchor="start" textLength="20.00" lengthAdjust="spacingAndGlyphs"  stroke="#0a0a0a" stroke-width="0.25">CA</text>
<line x1="379.40" y1="857.60" x2="665.30" y2="857.60" stroke="#000" stroke-width="1.8" />
<text x="481.00" y="875.90" font-size="16.00" fill="#0a0a0a" text-anchor="start" textLength="73.40" lengthAdjust="spacingAndGlyphs"  stroke="#0a0a0a" stroke-width="0.25">Last 10 min</text>
<rect x="470.8" y="617" width="24.6" height="12.6" fill="#3a3a3a"/>
<rect x="470.8" y="642" width="24.6" height="12.9" fill="#0a0af0"/>
<text x="504.30" y="631.00" font-size="16.50" fill="#0a0a0a" text-anchor="start" textLength="28.70" lengthAdjust="spacingAndGlyphs"  stroke="#0a0a0a" stroke-width="0.25">Dark</text>
<text x="504.30" y="652.50" font-size="16.50" fill="#2a2aa6" text-anchor="start" textLength="30.70" lengthAdjust="spacingAndGlyphs"  stroke="#2a2aa6" stroke-width="0.25">Light</text>
<polyline points="379.4,795.5 379.4,648.4 402.2,648.4" fill="none" stroke="#000" stroke-width="1.3"/>
<line x1="385.90" y1="634.30" x2="385.90" y2="642.10" stroke="#000" stroke-width="1.9" stroke-linecap="round"/>
<line x1="382.52" y1="636.25" x2="389.28" y2="640.15" stroke="#000" stroke-width="1.9" stroke-linecap="round"/>
<line x1="382.52" y1="640.15" x2="389.28" y2="636.25" stroke="#000" stroke-width="1.9" stroke-linecap="round"/>
<circle cx="385.90" cy="638.20" r="1.6" fill="#000"/>
<line x1="397.90" y1="634.30" x2="397.90" y2="642.10" stroke="#000" stroke-width="1.9" stroke-linecap="round"/>
<line x1="394.52" y1="636.25" x2="401.28" y2="640.15" stroke="#000" stroke-width="1.9" stroke-linecap="round"/>
<line x1="394.52" y1="640.15" x2="401.28" y2="636.25" stroke="#000" stroke-width="1.9" stroke-linecap="round"/>
<circle cx="397.90" cy="638.20" r="1.6" fill="#000"/>
<polyline points="574.8,780.2 574.8,642 652.2,642 652.2,669" fill="none" stroke="#000" stroke-width="1.3"/>
<line x1="574.80" y1="669.00" x2="594.70" y2="669.00" stroke="#000" stroke-width="1.3" />
<line x1="639.00" y1="669.00" x2="662.00" y2="669.00" stroke="#000" stroke-width="1.3" />
<text x="608.40" y="638.50" font-size="19.50" fill="#000" text-anchor="start" textLength="10.20" lengthAdjust="spacingAndGlyphs"  stroke="#000" stroke-width="0.25">#</text>
<line x1="586.90" y1="653.50" x2="586.90" y2="661.30" stroke="#000" stroke-width="1.9" stroke-linecap="round"/>
<line x1="583.52" y1="655.45" x2="590.28" y2="659.35" stroke="#000" stroke-width="1.9" stroke-linecap="round"/>
<line x1="583.52" y1="659.35" x2="590.28" y2="655.45" stroke="#000" stroke-width="1.9" stroke-linecap="round"/>
<circle cx="586.90" cy="657.40" r="1.6" fill="#000"/>
</svg>
</body></html>
